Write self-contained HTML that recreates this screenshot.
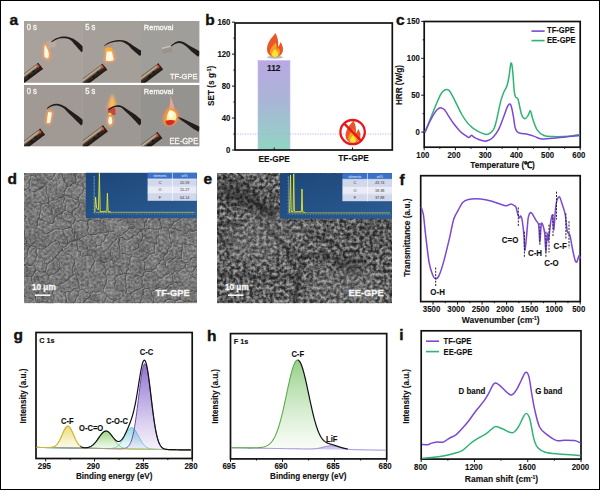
<!DOCTYPE html><html><head><meta charset="utf-8"><style>html,body{margin:0;padding:0;background:#fff;width:600px;height:490px;overflow:hidden}svg{display:block}text{font-family:"Liberation Sans", sans-serif}</style></head><body>
<svg width="600" height="490" viewBox="0 0 600 490">
<rect x="0" y="0" width="600" height="490" fill="#fff"/>
<text x="0" y="0" font-size="15.5" font-weight="bold" text-anchor="start" fill="#111" stroke="#111" stroke-width="0.4" transform="translate(9.5 25) scale(1 1.0)" >a</text>
<text x="0" y="0" font-size="15.5" font-weight="bold" text-anchor="start" fill="#111" stroke="#111" stroke-width="0.4" transform="translate(205.2 25) scale(1 1.0)" >b</text>
<text x="0" y="0" font-size="15.5" font-weight="bold" text-anchor="start" fill="#111" stroke="#111" stroke-width="0.4" transform="translate(396 25) scale(1 1.0)" >c</text>
<text x="0" y="0" font-size="15.5" font-weight="bold" text-anchor="start" fill="#111" stroke="#111" stroke-width="0.4" transform="translate(7.5 183.5) scale(1 1.0)" >d</text>
<text x="0" y="0" font-size="15.5" font-weight="bold" text-anchor="start" fill="#111" stroke="#111" stroke-width="0.4" transform="translate(203.5 183.5) scale(1 1.0)" >e</text>
<text x="0" y="0" font-size="15.5" font-weight="bold" text-anchor="start" fill="#111" stroke="#111" stroke-width="0.4" transform="translate(399.5 185) scale(1 1.0)" >f</text>
<text x="0" y="0" font-size="15.5" font-weight="bold" text-anchor="start" fill="#111" stroke="#111" stroke-width="0.4" transform="translate(13.5 339.5) scale(1 1.0)" >g</text>
<text x="0" y="0" font-size="15.5" font-weight="bold" text-anchor="start" fill="#111" stroke="#111" stroke-width="0.4" transform="translate(207 340.5) scale(1 1.0)" >h</text>
<text x="0" y="0" font-size="15.5" font-weight="bold" text-anchor="start" fill="#111" stroke="#111" stroke-width="0.4" transform="translate(399.2 340) scale(1 1.0)" >i</text>
<defs><linearGradient id="barg" x1="0" y1="0" x2="0" y2="1"><stop offset="0" stop-color="#baa8e3"/><stop offset="0.45" stop-color="#aab5d6"/><stop offset="1" stop-color="#8fd6c2"/></linearGradient></defs>
<rect x="258" y="60.51" width="32" height="89.49" fill="url(#barg)" stroke="#c9b8ee" stroke-width="0.6"/>
<line x1="235.0" y1="134.02" x2="392.3" y2="134.02" stroke="#b8a8ee" stroke-width="0.9" stroke-dasharray="1.2 1.3"/>
<rect x="235.0" y="23.0" width="157.3" height="127.0" fill="none" stroke="#111" stroke-width="1.7"/>
<line x1="232.0" y1="150.00" x2="235.0" y2="150.00" stroke="#161616" stroke-width="1.0"/>
<line x1="232.0" y1="118.04" x2="235.0" y2="118.04" stroke="#161616" stroke-width="1.0"/>
<line x1="232.0" y1="86.08" x2="235.0" y2="86.08" stroke="#161616" stroke-width="1.0"/>
<line x1="232.0" y1="54.12" x2="235.0" y2="54.12" stroke="#161616" stroke-width="1.0"/>
<line x1="232.0" y1="22.16" x2="235.0" y2="22.16" stroke="#161616" stroke-width="1.0"/>
<line x1="233.4" y1="134.02" x2="235.0" y2="134.02" stroke="#161616" stroke-width="1.0"/>
<line x1="233.4" y1="102.06" x2="235.0" y2="102.06" stroke="#161616" stroke-width="1.0"/>
<line x1="233.4" y1="70.10" x2="235.0" y2="70.10" stroke="#161616" stroke-width="1.0"/>
<line x1="233.4" y1="38.14" x2="235.0" y2="38.14" stroke="#161616" stroke-width="1.0"/>
<text x="0" y="0" font-size="7.8" font-weight="bold" text-anchor="end" fill="#111" stroke="#111" stroke-width="0.1" transform="translate(230.4 152.9) scale(1 1.18)" >0</text>
<text x="0" y="0" font-size="7.8" font-weight="bold" text-anchor="end" fill="#111" stroke="#111" stroke-width="0.1" transform="translate(230.4 120.94) scale(1 1.18)" >40</text>
<text x="0" y="0" font-size="7.8" font-weight="bold" text-anchor="end" fill="#111" stroke="#111" stroke-width="0.1" transform="translate(230.4 88.98) scale(1 1.18)" >80</text>
<text x="0" y="0" font-size="7.8" font-weight="bold" text-anchor="end" fill="#111" stroke="#111" stroke-width="0.1" transform="translate(230.4 57.01999999999999) scale(1 1.18)" >120</text>
<text x="0" y="0" font-size="7.8" font-weight="bold" text-anchor="end" fill="#111" stroke="#111" stroke-width="0.1" transform="translate(230.4 25.059999999999995) scale(1 1.18)" >160</text>
<line x1="274.2" y1="150.0" x2="274.2" y2="147.5" stroke="#161616" stroke-width="1"/>
<line x1="352.5" y1="150.0" x2="352.5" y2="147.5" stroke="#161616" stroke-width="1"/>
<text x="0" y="0" font-size="8.3" font-weight="bold" text-anchor="middle" fill="#111" stroke="#111" stroke-width="0.12" transform="translate(274.2 161.6) scale(1 1.08)" >EE-GPE</text>
<text x="0" y="0" font-size="8.3" font-weight="bold" text-anchor="middle" fill="#111" stroke="#111" stroke-width="0.12" transform="translate(353.5 161.3) scale(1 1.08)" >TF-GPE</text>
<text x="0" y="0" font-size="8.4" font-weight="bold" text-anchor="middle" fill="#111" stroke="#111" stroke-width="0.12" transform="translate(273.7 71.4) scale(1 1.08)" >112</text>
<text x="0" y="0" font-size="8.3" font-weight="bold" text-anchor="middle" fill="#111" stroke="#111" stroke-width="0.12" transform="translate(213.9 85.9) rotate(-90) scale(1 1.08)" >SET (s g<tspan dy="-2.5" font-size="5">-1</tspan><tspan dy="2.5">)</tspan></text>
<ellipse cx="275" cy="57.2" rx="8" ry="1.5" fill="#b4b8c2"/>
<g transform="translate(275,56.5) scale(1.0)"><path d="M0.5,-23.5 C-2,-20 -8,-15 -8,-7 C-8,-2.5 -4.5,0.5 0,0.5 C4.8,0.5 8,-2.5 8,-7 C8,-10.5 6.5,-13 5.5,-14.5 C5,-12 4,-10.5 3,-10 C3.8,-15 2.5,-20 0.5,-23.5 Z" fill="#e8572a"/><path d="M0.5,-14 C-2,-11 -5,-8 -5,-4.5 C-5,-1.5 -2.6,0.5 0,0.5 C2.8,0.5 5,-1.5 5,-4.5 C5,-7 3.5,-8 3,-9 C2.6,-7.5 2,-7 1.5,-6.8 C2,-9 1.8,-11.5 0.5,-14 Z" fill="#f5a020"/><path d="M0.2,-7.5 C-1.5,-6 -3,-4 -3,-2 C-3,-0.2 -1.5,0.5 0,0.5 C1.6,0.5 3,-0.2 3,-2 C3,-4 1.5,-5.5 0.2,-7.5 Z" fill="#f8e531"/></g>
<ellipse cx="353" cy="142.6" rx="6.5" ry="1.1" fill="#c4d0d8"/>
<g transform="translate(353.0,142.3) scale(0.93)"><path d="M0.5,-23.5 C-2,-20 -8,-15 -8,-7 C-8,-2.5 -4.5,0.5 0,0.5 C4.8,0.5 8,-2.5 8,-7 C8,-10.5 6.5,-13 5.5,-14.5 C5,-12 4,-10.5 3,-10 C3.8,-15 2.5,-20 0.5,-23.5 Z" fill="#e8572a"/><path d="M0.5,-14 C-2,-11 -5,-8 -5,-4.5 C-5,-1.5 -2.6,0.5 0,0.5 C2.8,0.5 5,-1.5 5,-4.5 C5,-7 3.5,-8 3,-9 C2.6,-7.5 2,-7 1.5,-6.8 C2,-9 1.8,-11.5 0.5,-14 Z" fill="#f5a020"/><path d="M0.2,-7.5 C-1.5,-6 -3,-4 -3,-2 C-3,-0.2 -1.5,0.5 0,0.5 C1.6,0.5 3,-0.2 3,-2 C3,-4 1.5,-5.5 0.2,-7.5 Z" fill="#f8e531"/></g>
<ellipse cx="352.6" cy="132.1" rx="12.2" ry="12.1" fill="none" stroke="#e9161c" stroke-width="2.3"/>
<line x1="344.0" y1="123.4" x2="361.3" y2="140.9" stroke="#e9161c" stroke-width="2.3"/>
<rect x="424.2" y="21.5" width="156.00000000000006" height="125.69999999999999" fill="none" stroke="#111" stroke-width="1.7"/>
<line x1="421.2" y1="132.10" x2="424.2" y2="132.10" stroke="#161616" stroke-width="1.0"/>
<line x1="421.2" y1="95.20" x2="424.2" y2="95.20" stroke="#161616" stroke-width="1.0"/>
<line x1="421.2" y1="58.30" x2="424.2" y2="58.30" stroke="#161616" stroke-width="1.0"/>
<line x1="421.2" y1="21.40" x2="424.2" y2="21.40" stroke="#161616" stroke-width="1.0"/>
<line x1="422.59999999999997" y1="113.65" x2="424.2" y2="113.65" stroke="#161616" stroke-width="1.0"/>
<line x1="422.59999999999997" y1="76.75" x2="424.2" y2="76.75" stroke="#161616" stroke-width="1.0"/>
<line x1="422.59999999999997" y1="39.85" x2="424.2" y2="39.85" stroke="#161616" stroke-width="1.0"/>
<line x1="424.20" y1="147.2" x2="424.20" y2="150.2" stroke="#161616" stroke-width="1.0"/>
<line x1="455.40" y1="147.2" x2="455.40" y2="150.2" stroke="#161616" stroke-width="1.0"/>
<line x1="486.60" y1="147.2" x2="486.60" y2="150.2" stroke="#161616" stroke-width="1.0"/>
<line x1="517.80" y1="147.2" x2="517.80" y2="150.2" stroke="#161616" stroke-width="1.0"/>
<line x1="549.00" y1="147.2" x2="549.00" y2="150.2" stroke="#161616" stroke-width="1.0"/>
<line x1="580.20" y1="147.2" x2="580.20" y2="150.2" stroke="#161616" stroke-width="1.0"/>
<line x1="439.80" y1="147.2" x2="439.80" y2="148.79999999999998" stroke="#161616" stroke-width="1.0"/>
<line x1="471.00" y1="147.2" x2="471.00" y2="148.79999999999998" stroke="#161616" stroke-width="1.0"/>
<line x1="502.20" y1="147.2" x2="502.20" y2="148.79999999999998" stroke="#161616" stroke-width="1.0"/>
<line x1="533.40" y1="147.2" x2="533.40" y2="148.79999999999998" stroke="#161616" stroke-width="1.0"/>
<line x1="564.60" y1="147.2" x2="564.60" y2="148.79999999999998" stroke="#161616" stroke-width="1.0"/>
<text x="0" y="0" font-size="7.8" font-weight="bold" text-anchor="end" fill="#111" stroke="#111" stroke-width="0.1" transform="translate(419.8 135.0) scale(1 1.18)" >0</text>
<text x="0" y="0" font-size="7.8" font-weight="bold" text-anchor="end" fill="#111" stroke="#111" stroke-width="0.1" transform="translate(419.8 98.1) scale(1 1.18)" >50</text>
<text x="0" y="0" font-size="7.8" font-weight="bold" text-anchor="end" fill="#111" stroke="#111" stroke-width="0.1" transform="translate(419.8 61.199999999999996) scale(1 1.18)" >100</text>
<text x="0" y="0" font-size="7.8" font-weight="bold" text-anchor="end" fill="#111" stroke="#111" stroke-width="0.1" transform="translate(419.8 24.29999999999999) scale(1 1.18)" >150</text>
<text x="0" y="0" font-size="7.8" font-weight="bold" text-anchor="middle" fill="#111" stroke="#111" stroke-width="0.1" transform="translate(422.8 157.6) scale(1 1.18)" >100</text>
<text x="0" y="0" font-size="7.8" font-weight="bold" text-anchor="middle" fill="#111" stroke="#111" stroke-width="0.1" transform="translate(454.0 157.6) scale(1 1.18)" >200</text>
<text x="0" y="0" font-size="7.8" font-weight="bold" text-anchor="middle" fill="#111" stroke="#111" stroke-width="0.1" transform="translate(485.2 157.6) scale(1 1.18)" >300</text>
<text x="0" y="0" font-size="7.8" font-weight="bold" text-anchor="middle" fill="#111" stroke="#111" stroke-width="0.1" transform="translate(516.4 157.6) scale(1 1.18)" >400</text>
<text x="0" y="0" font-size="7.8" font-weight="bold" text-anchor="middle" fill="#111" stroke="#111" stroke-width="0.1" transform="translate(547.6 157.6) scale(1 1.18)" >500</text>
<text x="0" y="0" font-size="7.8" font-weight="bold" text-anchor="middle" fill="#111" stroke="#111" stroke-width="0.1" transform="translate(578.8000000000001 157.6) scale(1 1.18)" >600</text>
<text x="0" y="0" font-size="8.2" font-weight="bold" text-anchor="middle" fill="#111" stroke="#111" stroke-width="0.12" transform="translate(502.5 168.2) scale(1 1.08)" >Temperature (℃)</text>
<text x="0" y="0" font-size="8.1" font-weight="bold" text-anchor="middle" fill="#111" stroke="#111" stroke-width="0.12" transform="translate(402.4 85.0) rotate(-90) scale(1 1.08)" >HRR (W/g)</text>
<path d="M424.90,132.40 C425.75,130.30 428.27,124.12 430.00,119.80 C431.73,115.48 433.53,110.70 435.30,106.50 C437.07,102.30 439.17,97.25 440.60,94.60 C442.03,91.95 442.92,91.45 443.90,90.60 C444.88,89.75 445.62,89.50 446.50,89.50 C447.38,89.50 448.20,89.53 449.20,90.60 C450.20,91.67 451.28,93.68 452.50,95.90 C453.72,98.12 454.95,100.80 456.50,103.90 C458.05,107.00 460.03,111.42 461.80,114.50 C463.57,117.58 465.45,120.30 467.10,122.40 C468.75,124.50 470.55,126.03 471.70,127.10 C472.85,128.17 472.68,127.97 474.00,128.80 C475.32,129.63 477.55,131.17 479.60,132.10 C481.65,133.03 484.43,134.30 486.30,134.40 C488.17,134.50 489.48,133.73 490.80,132.70 C492.12,131.67 493.25,130.27 494.20,128.20 C495.15,126.13 495.75,123.30 496.50,120.30 C497.25,117.30 497.95,113.57 498.70,110.20 C499.45,106.83 500.15,103.10 501.00,100.10 C501.85,97.10 502.82,94.53 503.80,92.20 C504.78,89.87 506.02,88.80 506.90,86.10 C507.78,83.40 508.43,79.80 509.10,76.00 C509.77,72.20 510.33,64.43 510.90,63.30 C511.47,62.17 511.93,64.47 512.50,69.20 C513.07,73.93 513.75,87.02 514.30,91.70 C514.85,96.38 515.17,95.98 515.80,97.30 C516.43,98.62 517.15,96.78 518.10,99.60 C519.05,102.42 520.38,111.02 521.50,114.20 C522.62,117.38 523.68,118.52 524.80,118.70 C525.92,118.88 527.27,116.62 528.20,115.30 C529.13,113.98 529.65,110.23 530.40,110.80 C531.15,111.37 531.57,115.52 532.70,118.70 C533.83,121.88 535.33,127.10 537.20,129.90 C539.07,132.70 541.28,134.38 543.90,135.50 C546.52,136.62 548.77,136.48 552.90,136.60 C557.03,136.72 564.18,136.57 568.70,136.20 C573.22,135.83 578.12,134.70 580.00,134.40" fill="none" stroke="#2fb473" stroke-width="1.5" stroke-linejoin="round"/>
<path d="M424.90,132.40 C425.75,130.52 428.27,124.53 430.00,121.10 C431.73,117.67 433.87,113.90 435.30,111.80 C436.73,109.70 437.62,109.15 438.60,108.50 C439.58,107.85 440.22,107.68 441.20,107.90 C442.18,108.12 443.28,108.48 444.50,109.80 C445.72,111.12 446.95,113.47 448.50,115.80 C450.05,118.13 451.80,121.15 453.80,123.80 C455.80,126.45 458.50,129.72 460.50,131.70 C462.50,133.68 464.37,134.73 465.80,135.70 C467.23,136.67 468.15,137.58 469.10,137.50 C470.05,137.42 470.68,135.25 471.50,135.20 C472.32,135.15 473.02,136.58 474.00,137.20 C474.98,137.82 475.72,138.25 477.40,138.90 C479.08,139.55 482.23,140.87 484.10,141.10 C485.97,141.33 487.10,140.95 488.60,140.30 C490.10,139.65 491.42,139.03 493.10,137.20 C494.78,135.37 497.02,132.48 498.70,129.30 C500.38,126.12 501.80,121.75 503.20,118.10 C504.60,114.45 506.07,109.75 507.10,107.40 C508.13,105.05 508.73,104.28 509.40,104.00 C510.07,103.72 510.45,103.73 511.10,105.70 C511.75,107.67 512.65,112.23 513.30,115.80 C513.95,119.37 514.38,124.48 515.00,127.10 C515.62,129.72 516.12,130.47 517.00,131.50 C517.88,132.53 518.43,132.82 520.30,133.30 C522.17,133.78 525.75,133.85 528.20,134.40 C530.65,134.95 532.75,135.85 535.00,136.60 C537.25,137.35 537.97,138.70 541.70,138.90 C545.43,139.10 551.02,138.37 557.40,137.80 C563.78,137.23 576.23,135.88 580.00,135.50" fill="none" stroke="#7b48d4" stroke-width="1.5" stroke-linejoin="round"/>
<line x1="531.5" y1="31.1" x2="544.6" y2="31.1" stroke="#7b48d4" stroke-width="1.6"/>
<line x1="531.5" y1="40.6" x2="544.6" y2="40.6" stroke="#2fb473" stroke-width="1.6"/>
<text x="0" y="0" font-size="7.6" font-weight="bold" text-anchor="start" fill="#111" stroke="#111" stroke-width="0.12" transform="translate(547.0 33.3) scale(1 1.08)" >TF-GPE</text>
<text x="0" y="0" font-size="7.6" font-weight="bold" text-anchor="start" fill="#111" stroke="#111" stroke-width="0.12" transform="translate(547.0 42.8) scale(1 1.08)" >EE-GPE</text>
<rect x="420.7" y="175.7" width="159.50000000000006" height="125.90000000000003" fill="none" stroke="#111" stroke-width="1.7"/>
<line x1="580.20" y1="301.6" x2="580.20" y2="304.6" stroke="#161616" stroke-width="1.0"/>
<line x1="555.67" y1="301.6" x2="555.67" y2="304.6" stroke="#161616" stroke-width="1.0"/>
<line x1="531.14" y1="301.6" x2="531.14" y2="304.6" stroke="#161616" stroke-width="1.0"/>
<line x1="506.61" y1="301.6" x2="506.61" y2="304.6" stroke="#161616" stroke-width="1.0"/>
<line x1="482.08" y1="301.6" x2="482.08" y2="304.6" stroke="#161616" stroke-width="1.0"/>
<line x1="457.55" y1="301.6" x2="457.55" y2="304.6" stroke="#161616" stroke-width="1.0"/>
<line x1="433.02" y1="301.6" x2="433.02" y2="304.6" stroke="#161616" stroke-width="1.0"/>
<line x1="567.94" y1="301.6" x2="567.94" y2="303.20000000000005" stroke="#161616" stroke-width="1.0"/>
<line x1="543.41" y1="301.6" x2="543.41" y2="303.20000000000005" stroke="#161616" stroke-width="1.0"/>
<line x1="518.88" y1="301.6" x2="518.88" y2="303.20000000000005" stroke="#161616" stroke-width="1.0"/>
<line x1="494.35" y1="301.6" x2="494.35" y2="303.20000000000005" stroke="#161616" stroke-width="1.0"/>
<line x1="469.82" y1="301.6" x2="469.82" y2="303.20000000000005" stroke="#161616" stroke-width="1.0"/>
<line x1="445.29" y1="301.6" x2="445.29" y2="303.20000000000005" stroke="#161616" stroke-width="1.0"/>
<text x="0" y="0" font-size="7.9" font-weight="bold" text-anchor="middle" fill="#111" stroke="#111" stroke-width="0.1" transform="translate(578.7 311.9) scale(1 1.18)" >500</text>
<text x="0" y="0" font-size="7.9" font-weight="bold" text-anchor="middle" fill="#111" stroke="#111" stroke-width="0.1" transform="translate(554.1700000000001 311.9) scale(1 1.18)" >1000</text>
<text x="0" y="0" font-size="7.9" font-weight="bold" text-anchor="middle" fill="#111" stroke="#111" stroke-width="0.1" transform="translate(529.6400000000001 311.9) scale(1 1.18)" >1500</text>
<text x="0" y="0" font-size="7.9" font-weight="bold" text-anchor="middle" fill="#111" stroke="#111" stroke-width="0.1" transform="translate(505.11 311.9) scale(1 1.18)" >2000</text>
<text x="0" y="0" font-size="7.9" font-weight="bold" text-anchor="middle" fill="#111" stroke="#111" stroke-width="0.1" transform="translate(480.58000000000004 311.9) scale(1 1.18)" >2500</text>
<text x="0" y="0" font-size="7.9" font-weight="bold" text-anchor="middle" fill="#111" stroke="#111" stroke-width="0.1" transform="translate(456.05000000000007 311.9) scale(1 1.18)" >3000</text>
<text x="0" y="0" font-size="7.9" font-weight="bold" text-anchor="middle" fill="#111" stroke="#111" stroke-width="0.1" transform="translate(431.52000000000004 311.9) scale(1 1.18)" >3500</text>
<text x="0" y="0" font-size="8.5" font-weight="bold" text-anchor="middle" fill="#111" stroke="#111" stroke-width="0.12" transform="translate(500.7 322.6) scale(1 1.08)" >Wavenumber (cm<tspan dy="-2.5" font-size="5">-1</tspan><tspan dy="2.5">)</tspan></text>
<text x="0" y="0" font-size="8.3" font-weight="bold" text-anchor="middle" fill="#111" stroke="#111" stroke-width="0.12" transform="translate(409.6 237.6) rotate(-90) scale(1 1.08)" >Transmittance (a.u.)</text>
<path d="M421.10,206.90 C421.41,207.94 422.80,210.97 423.40,214.70 C424.00,218.43 424.85,228.61 425.60,234.90 C426.35,241.19 428.09,256.65 429.00,261.90 C429.91,267.15 431.51,272.05 432.40,274.30 C433.29,276.55 434.81,278.65 435.70,278.80 C436.59,278.95 438.05,277.65 439.10,275.40 C440.15,273.15 442.25,266.70 443.60,261.90 C444.95,257.10 447.85,245.09 449.20,239.40 C450.55,233.71 452.50,223.09 453.70,219.20 C454.90,215.31 457.00,212.44 458.20,210.20 C459.40,207.96 461.35,203.84 462.70,202.40 C464.05,200.96 465.90,199.85 468.30,199.40 C470.70,198.95 477.55,198.76 480.70,199.00 C483.85,199.24 488.61,200.31 491.90,201.20 C495.19,202.09 502.85,205.34 505.40,205.70 C507.95,206.06 509.80,203.90 511.00,203.90 C512.20,203.90 513.72,205.23 514.40,205.70 C515.08,206.17 515.65,206.25 516.10,207.40 C516.55,208.55 517.35,212.91 517.80,214.30 C518.25,215.69 519.10,217.57 519.50,217.80 C519.90,218.03 520.44,215.65 520.80,216.00 C521.16,216.35 521.79,217.85 522.20,220.40 C522.61,222.95 523.55,231.09 523.90,235.10 C524.25,239.11 524.45,250.26 524.80,250.50 C525.15,250.74 526.05,241.26 526.50,236.90 C526.95,232.54 527.69,221.04 528.20,217.80 C528.71,214.56 529.71,213.07 530.30,212.60 C530.89,212.13 531.84,213.26 532.60,214.30 C533.36,215.34 535.20,219.01 536.00,220.40 C536.80,221.79 538.08,221.81 538.60,224.70 C539.12,227.59 539.54,242.21 539.90,242.10 C540.26,241.99 540.89,226.10 541.30,223.90 C541.71,221.70 542.55,224.33 543.00,225.60 C543.45,226.87 544.31,229.81 544.70,233.40 C545.09,236.99 545.55,252.50 545.90,252.50 C546.25,252.50 546.95,235.03 547.30,233.40 C547.65,231.77 548.03,241.91 548.50,240.30 C548.97,238.69 550.27,224.65 550.80,221.30 C551.33,217.95 552.10,214.05 552.50,215.20 C552.90,216.35 553.40,230.71 553.80,229.90 C554.20,229.09 555.09,213.03 555.50,209.10 C555.91,205.17 556.37,202.03 556.90,200.40 C557.43,198.77 558.81,196.43 559.50,196.90 C560.19,197.37 561.34,201.58 562.10,203.90 C562.86,206.22 564.51,210.59 565.20,214.30 C565.89,218.01 566.67,228.93 567.30,231.70 C567.93,234.47 569.21,232.79 569.90,235.10 C570.59,237.41 571.81,245.64 572.50,249.00 C573.19,252.36 574.53,258.57 575.10,260.30 C575.67,262.03 576.27,262.63 576.80,262.00 C577.33,261.37 578.63,256.05 579.10,255.60 C579.57,255.15 580.14,258.20 580.30,258.60" fill="none" stroke="#7b48d4" stroke-width="1.5" stroke-linejoin="round"/>
<line x1="435.7" y1="267.5" x2="435.7" y2="286.6" stroke="#222" stroke-width="1" stroke-dasharray="2 1.3"/>
<line x1="518.3" y1="207.4" x2="518.3" y2="226.5" stroke="#222" stroke-width="1" stroke-dasharray="2 1.3"/>
<line x1="524.4" y1="231.7" x2="524.4" y2="256.8" stroke="#222" stroke-width="1" stroke-dasharray="2 1.3"/>
<line x1="539.9" y1="223" x2="539.9" y2="245.6" stroke="#222" stroke-width="1" stroke-dasharray="2 1.3"/>
<line x1="545.9" y1="231.7" x2="545.9" y2="256.8" stroke="#222" stroke-width="1" stroke-dasharray="2 1.3"/>
<line x1="549" y1="224.7" x2="549" y2="252.5" stroke="#222" stroke-width="1" stroke-dasharray="2 1.3"/>
<line x1="553" y1="214.3" x2="553" y2="236.9" stroke="#222" stroke-width="1" stroke-dasharray="2 1.3"/>
<line x1="556.5" y1="191.7" x2="556.5" y2="219.5" stroke="#222" stroke-width="1" stroke-dasharray="2 1.3"/>
<line x1="565.9" y1="213.4" x2="565.9" y2="238.6" stroke="#222" stroke-width="1" stroke-dasharray="2 1.3"/>
<line x1="569" y1="221.3" x2="569" y2="248.2" stroke="#222" stroke-width="1" stroke-dasharray="2 1.3"/>
<text x="0" y="0" font-size="7.9" font-weight="bold" text-anchor="middle" fill="#111" stroke="#111" stroke-width="0.12" transform="translate(437.6 295.1) scale(1 1.08)" >O-H</text>
<text x="0" y="0" font-size="7.9" font-weight="bold" text-anchor="middle" fill="#111" stroke="#111" stroke-width="0.12" transform="translate(510.1 242.8) scale(1 1.08)" >C=O</text>
<text x="0" y="0" font-size="7.9" font-weight="bold" text-anchor="middle" fill="#111" stroke="#111" stroke-width="0.12" transform="translate(535.0 256.1) scale(1 1.08)" >C-H</text>
<text x="0" y="0" font-size="7.9" font-weight="bold" text-anchor="middle" fill="#111" stroke="#111" stroke-width="0.12" transform="translate(551.5 265.8) scale(1 1.08)" >C-O</text>
<text x="0" y="0" font-size="7.9" font-weight="bold" text-anchor="middle" fill="#111" stroke="#111" stroke-width="0.12" transform="translate(560.2 248.5) scale(1 1.08)" >C-F</text>
<rect x="36.0" y="332.5" width="156.2" height="126.0" fill="none" stroke="#111" stroke-width="1.7"/>
<line x1="45.70" y1="458.5" x2="45.70" y2="461.5" stroke="#161616" stroke-width="1.0"/>
<line x1="94.55" y1="458.5" x2="94.55" y2="461.5" stroke="#161616" stroke-width="1.0"/>
<line x1="143.40" y1="458.5" x2="143.40" y2="461.5" stroke="#161616" stroke-width="1.0"/>
<line x1="192.25" y1="458.5" x2="192.25" y2="461.5" stroke="#161616" stroke-width="1.0"/>
<line x1="70.12" y1="458.5" x2="70.12" y2="460.1" stroke="#161616" stroke-width="1.0"/>
<line x1="118.97" y1="458.5" x2="118.97" y2="460.1" stroke="#161616" stroke-width="1.0"/>
<line x1="167.82" y1="458.5" x2="167.82" y2="460.1" stroke="#161616" stroke-width="1.0"/>
<text x="0" y="0" font-size="7.9" font-weight="bold" text-anchor="middle" fill="#111" stroke="#111" stroke-width="0.1" transform="translate(44.400000000000006 468.9) scale(1 1.18)" >295</text>
<text x="0" y="0" font-size="7.9" font-weight="bold" text-anchor="middle" fill="#111" stroke="#111" stroke-width="0.1" transform="translate(93.25 468.9) scale(1 1.18)" >290</text>
<text x="0" y="0" font-size="7.9" font-weight="bold" text-anchor="middle" fill="#111" stroke="#111" stroke-width="0.1" transform="translate(142.09999999999997 468.9) scale(1 1.18)" >285</text>
<text x="0" y="0" font-size="7.9" font-weight="bold" text-anchor="middle" fill="#111" stroke="#111" stroke-width="0.1" transform="translate(190.95 468.9) scale(1 1.18)" >280</text>
<text x="0" y="0" font-size="8.1" font-weight="bold" text-anchor="middle" fill="#111" stroke="#111" stroke-width="0.12" transform="translate(114.2 479.3) scale(1 1.08)" >Binding energy (eV)</text>
<text x="0" y="0" font-size="8.1" font-weight="bold" text-anchor="middle" fill="#111" stroke="#111" stroke-width="0.12" transform="translate(26.3 396.0) rotate(-90) scale(1 1.08)" >Intensity (a.u.)</text>
<text x="0" y="0" font-size="7.3" font-weight="bold" text-anchor="start" fill="#111" stroke="#111" stroke-width="0.12" transform="translate(39.2 343.2) scale(1 1.08)" >C 1s</text>
<defs><linearGradient id="gg0" x1="0" y1="0" x2="0" y2="1"><stop offset="0" stop-color="#eadc72" stop-opacity="0.95"/><stop offset="0.7" stop-color="#eadc72" stop-opacity="0.3"/><stop offset="1" stop-color="#eadc72" stop-opacity="0.08"/></linearGradient></defs>
<path d="M36.70,447.41 L37.20,447.42 L37.70,447.43 L38.20,447.44 L38.70,447.44 L39.20,447.45 L39.70,447.46 L40.20,447.47 L40.70,447.48 L41.20,447.49 L41.70,447.49 L42.20,447.50 L42.70,447.51 L43.20,447.52 L43.70,447.53 L44.20,447.53 L44.70,447.54 L45.20,447.55 L45.70,447.55 L46.20,447.56 L46.70,447.56 L47.20,447.56 L47.70,447.56 L48.20,447.55 L48.70,447.54 L49.20,447.52 L49.70,447.50 L50.20,447.47 L50.70,447.42 L51.20,447.37 L51.70,447.29 L52.20,447.20 L52.70,447.07 L53.20,446.93 L53.70,446.74 L54.20,446.52 L54.70,446.25 L55.20,445.94 L55.70,445.56 L56.20,445.13 L56.70,444.63 L57.20,444.06 L57.70,443.42 L58.20,442.70 L58.70,441.91 L59.20,441.04 L59.70,440.10 L60.20,439.10 L60.70,438.04 L61.20,436.93 L61.70,435.80 L62.20,434.64 L62.70,433.48 L63.20,432.35 L63.70,431.25 L64.20,430.21 L64.70,429.25 L65.20,428.39 L65.70,427.65 L66.20,427.04 L66.70,426.58 L67.20,426.27 L67.70,426.14 L68.20,426.17 L68.70,426.37 L69.20,426.74 L69.70,427.26 L70.20,427.92 L70.70,428.72 L71.20,429.63 L71.70,430.63 L72.20,431.70 L72.70,432.83 L73.20,433.99 L73.70,435.17 L74.20,436.34 L74.70,437.48 L75.20,438.59 L75.70,439.65 L76.20,440.65 L76.70,441.59 L77.20,442.45 L77.70,443.24 L78.20,443.95 L78.70,444.59 L79.20,445.16 L79.70,445.65 L80.20,446.09 L80.70,446.46 L81.20,446.78 L81.70,447.05 L82.20,447.28 L82.70,447.46 L83.20,447.62 L83.70,447.75 L84.20,447.86 L84.70,447.94 L85.20,448.02 L85.70,448.07 L86.20,448.12 L86.70,448.16 L87.20,448.19 L87.70,448.21 L88.20,448.23 L88.70,448.25 L89.20,448.27 L89.70,448.28 L90.20,448.29 L90.70,448.30 L91.20,448.31 L91.70,448.32 L92.20,448.33 L92.70,448.34 L93.20,448.35 L93.70,448.36 L94.20,448.37 L94.70,448.38 L95.20,448.39 L95.70,448.39 L96.20,448.40 L96.70,448.41 L97.20,448.42 L97.70,448.43 L98.20,448.44 L98.70,448.44 L99.20,448.45 L99.70,448.46 L100.20,448.47 L100.70,448.48 L101.20,448.49 L101.70,448.49 L102.20,448.50 L102.70,448.51 L103.20,448.52 L103.70,448.53 L104.20,448.54 L104.70,448.54 L105.20,448.55 L105.70,448.56 L106.20,448.57 L106.70,448.58 L107.20,448.59 L107.70,448.59 L108.20,448.60 L108.70,448.61 L109.20,448.62 L109.70,448.63 L110.20,448.64 L110.70,448.64 L111.20,448.65 L111.70,448.66 L112.20,448.67 L112.70,448.68 L113.20,448.69 L113.70,448.69 L114.20,448.70 L114.70,448.71 L115.20,448.72 L115.70,448.73 L116.20,448.73 L116.70,448.74 L117.20,448.75 L117.70,448.76 L118.20,448.77 L118.70,448.78 L119.20,448.78 L119.70,448.79 L120.20,448.80 L120.70,448.81 L121.20,448.82 L121.70,448.83 L122.20,448.83 L122.70,448.84 L123.20,448.85 L123.70,448.86 L124.20,448.87 L124.70,448.88 L125.20,448.88 L125.70,448.89 L126.20,448.90 L126.70,448.91 L127.20,448.92 L127.70,448.93 L128.20,448.93 L128.70,448.94 L129.20,448.95 L129.70,448.96 L130.20,448.97 L130.70,448.98 L131.20,448.98 L131.70,448.99 L132.20,449.00 L132.70,449.01 L133.20,449.02 L133.70,449.03 L134.20,449.03 L134.70,449.04 L135.20,449.05 L135.70,449.06 L136.20,449.07 L136.70,449.08 L137.20,449.08 L137.70,449.09 L138.20,449.10 L138.70,449.11 L139.20,449.12 L139.70,449.13 L140.20,449.13 L140.70,449.14 L141.20,449.15 L141.70,449.16 L142.20,449.17 L142.70,449.18 L143.20,449.18 L143.70,449.19 L144.20,449.20 L144.70,449.21 L145.20,449.22 L145.70,449.23 L146.20,449.23 L146.70,449.24 L147.20,449.25 L147.70,449.26 L148.20,449.27 L148.70,449.28 L149.20,449.28 L149.70,449.29 L150.20,449.30 L150.70,449.31 L151.20,449.32 L151.70,449.33 L152.20,449.33 L152.70,449.34 L153.20,449.35 L153.70,449.36 L154.20,449.37 L154.70,449.38 L155.20,449.38 L155.70,449.39 L156.20,449.40 L156.70,449.41 L157.20,449.42 L157.70,449.43 L158.20,449.43 L158.70,449.44 L159.20,449.45 L159.70,449.46 L160.20,449.47 L160.70,449.48 L161.20,449.48 L161.70,449.49 L162.20,449.50 L162.70,449.51 L163.20,449.52 L163.70,449.53 L164.20,449.53 L164.70,449.54 L165.20,449.55 L165.70,449.56 L166.20,449.57 L166.70,449.58 L167.20,449.58 L167.70,449.59 L168.20,449.60 L168.70,449.61 L169.20,449.62 L169.70,449.63 L170.20,449.63 L170.70,449.64 L171.20,449.65 L171.70,449.66 L172.20,449.67 L172.70,449.68 L173.20,449.68 L173.70,449.69 L174.20,449.70 L174.70,449.71 L175.20,449.72 L175.70,449.73 L176.20,449.73 L176.70,449.74 L177.20,449.75 L177.70,449.76 L178.20,449.77 L178.70,449.78 L179.20,449.78 L179.70,449.79 L180.20,449.80 L180.70,449.81 L181.20,449.82 L181.70,449.83 L182.20,449.83 L182.70,449.84 L183.20,449.85 L183.70,449.86 L184.20,449.87 L184.70,449.88 L185.20,449.88 L185.70,449.89 L186.20,449.90 L186.70,449.91 L187.20,449.92 L187.70,449.93 L188.20,449.93 L188.70,449.94 L189.20,449.95 L189.70,449.96 L190.20,449.97 L190.70,449.98 L191.20,449.98 L191.20,449.98 L36.70,447.41 Z" fill="url(#gg0)" stroke="none"/>
<path d="M36.70,447.41 L37.20,447.42 L37.70,447.43 L38.20,447.44 L38.70,447.44 L39.20,447.45 L39.70,447.46 L40.20,447.47 L40.70,447.48 L41.20,447.49 L41.70,447.49 L42.20,447.50 L42.70,447.51 L43.20,447.52 L43.70,447.53 L44.20,447.53 L44.70,447.54 L45.20,447.55 L45.70,447.55 L46.20,447.56 L46.70,447.56 L47.20,447.56 L47.70,447.56 L48.20,447.55 L48.70,447.54 L49.20,447.52 L49.70,447.50 L50.20,447.47 L50.70,447.42 L51.20,447.37 L51.70,447.29 L52.20,447.20 L52.70,447.07 L53.20,446.93 L53.70,446.74 L54.20,446.52 L54.70,446.25 L55.20,445.94 L55.70,445.56 L56.20,445.13 L56.70,444.63 L57.20,444.06 L57.70,443.42 L58.20,442.70 L58.70,441.91 L59.20,441.04 L59.70,440.10 L60.20,439.10 L60.70,438.04 L61.20,436.93 L61.70,435.80 L62.20,434.64 L62.70,433.48 L63.20,432.35 L63.70,431.25 L64.20,430.21 L64.70,429.25 L65.20,428.39 L65.70,427.65 L66.20,427.04 L66.70,426.58 L67.20,426.27 L67.70,426.14 L68.20,426.17 L68.70,426.37 L69.20,426.74 L69.70,427.26 L70.20,427.92 L70.70,428.72 L71.20,429.63 L71.70,430.63 L72.20,431.70 L72.70,432.83 L73.20,433.99 L73.70,435.17 L74.20,436.34 L74.70,437.48 L75.20,438.59 L75.70,439.65 L76.20,440.65 L76.70,441.59 L77.20,442.45 L77.70,443.24 L78.20,443.95 L78.70,444.59 L79.20,445.16 L79.70,445.65 L80.20,446.09 L80.70,446.46 L81.20,446.78 L81.70,447.05 L82.20,447.28 L82.70,447.46 L83.20,447.62 L83.70,447.75 L84.20,447.86 L84.70,447.94 L85.20,448.02 L85.70,448.07 L86.20,448.12 L86.70,448.16 L87.20,448.19 L87.70,448.21 L88.20,448.23 L88.70,448.25 L89.20,448.27 L89.70,448.28 L90.20,448.29 L90.70,448.30 L91.20,448.31 L91.70,448.32 L92.20,448.33 L92.70,448.34 L93.20,448.35 L93.70,448.36 L94.20,448.37 L94.70,448.38 L95.20,448.39 L95.70,448.39 L96.20,448.40 L96.70,448.41 L97.20,448.42 L97.70,448.43 L98.20,448.44 L98.70,448.44 L99.20,448.45 L99.70,448.46 L100.20,448.47 L100.70,448.48 L101.20,448.49 L101.70,448.49 L102.20,448.50 L102.70,448.51 L103.20,448.52 L103.70,448.53 L104.20,448.54 L104.70,448.54 L105.20,448.55 L105.70,448.56 L106.20,448.57 L106.70,448.58 L107.20,448.59 L107.70,448.59 L108.20,448.60 L108.70,448.61 L109.20,448.62 L109.70,448.63 L110.20,448.64 L110.70,448.64 L111.20,448.65 L111.70,448.66 L112.20,448.67 L112.70,448.68 L113.20,448.69 L113.70,448.69 L114.20,448.70 L114.70,448.71 L115.20,448.72 L115.70,448.73 L116.20,448.73 L116.70,448.74 L117.20,448.75 L117.70,448.76 L118.20,448.77 L118.70,448.78 L119.20,448.78 L119.70,448.79 L120.20,448.80 L120.70,448.81 L121.20,448.82 L121.70,448.83 L122.20,448.83 L122.70,448.84 L123.20,448.85 L123.70,448.86 L124.20,448.87 L124.70,448.88 L125.20,448.88 L125.70,448.89 L126.20,448.90 L126.70,448.91 L127.20,448.92 L127.70,448.93 L128.20,448.93 L128.70,448.94 L129.20,448.95 L129.70,448.96 L130.20,448.97 L130.70,448.98 L131.20,448.98 L131.70,448.99 L132.20,449.00 L132.70,449.01 L133.20,449.02 L133.70,449.03 L134.20,449.03 L134.70,449.04 L135.20,449.05 L135.70,449.06 L136.20,449.07 L136.70,449.08 L137.20,449.08 L137.70,449.09 L138.20,449.10 L138.70,449.11 L139.20,449.12 L139.70,449.13 L140.20,449.13 L140.70,449.14 L141.20,449.15 L141.70,449.16 L142.20,449.17 L142.70,449.18 L143.20,449.18 L143.70,449.19 L144.20,449.20 L144.70,449.21 L145.20,449.22 L145.70,449.23 L146.20,449.23 L146.70,449.24 L147.20,449.25 L147.70,449.26 L148.20,449.27 L148.70,449.28 L149.20,449.28 L149.70,449.29 L150.20,449.30 L150.70,449.31 L151.20,449.32 L151.70,449.33 L152.20,449.33 L152.70,449.34 L153.20,449.35 L153.70,449.36 L154.20,449.37 L154.70,449.38 L155.20,449.38 L155.70,449.39 L156.20,449.40 L156.70,449.41 L157.20,449.42 L157.70,449.43 L158.20,449.43 L158.70,449.44 L159.20,449.45 L159.70,449.46 L160.20,449.47 L160.70,449.48 L161.20,449.48 L161.70,449.49 L162.20,449.50 L162.70,449.51 L163.20,449.52 L163.70,449.53 L164.20,449.53 L164.70,449.54 L165.20,449.55 L165.70,449.56 L166.20,449.57 L166.70,449.58 L167.20,449.58 L167.70,449.59 L168.20,449.60 L168.70,449.61 L169.20,449.62 L169.70,449.63 L170.20,449.63 L170.70,449.64 L171.20,449.65 L171.70,449.66 L172.20,449.67 L172.70,449.68 L173.20,449.68 L173.70,449.69 L174.20,449.70 L174.70,449.71 L175.20,449.72 L175.70,449.73 L176.20,449.73 L176.70,449.74 L177.20,449.75 L177.70,449.76 L178.20,449.77 L178.70,449.78 L179.20,449.78 L179.70,449.79 L180.20,449.80 L180.70,449.81 L181.20,449.82 L181.70,449.83 L182.20,449.83 L182.70,449.84 L183.20,449.85 L183.70,449.86 L184.20,449.87 L184.70,449.88 L185.20,449.88 L185.70,449.89 L186.20,449.90 L186.70,449.91 L187.20,449.92 L187.70,449.93 L188.20,449.93 L188.70,449.94 L189.20,449.95 L189.70,449.96 L190.20,449.97 L190.70,449.98 L191.20,449.98" fill="none" stroke="#d6c64a" stroke-width="0.9"/>
<defs><linearGradient id="gg1" x1="0" y1="0" x2="0" y2="1"><stop offset="0" stop-color="#98d47a" stop-opacity="0.95"/><stop offset="0.7" stop-color="#98d47a" stop-opacity="0.3"/><stop offset="1" stop-color="#98d47a" stop-opacity="0.08"/></linearGradient></defs>
<path d="M36.70,447.41 L37.20,447.42 L37.70,447.43 L38.20,447.44 L38.70,447.44 L39.20,447.45 L39.70,447.46 L40.20,447.47 L40.70,447.48 L41.20,447.49 L41.70,447.49 L42.20,447.50 L42.70,447.51 L43.20,447.52 L43.70,447.53 L44.20,447.54 L44.70,447.54 L45.20,447.55 L45.70,447.56 L46.20,447.57 L46.70,447.58 L47.20,447.59 L47.70,447.59 L48.20,447.60 L48.70,447.61 L49.20,447.62 L49.70,447.63 L50.20,447.64 L50.70,447.64 L51.20,447.65 L51.70,447.66 L52.20,447.67 L52.70,447.68 L53.20,447.69 L53.70,447.69 L54.20,447.70 L54.70,447.71 L55.20,447.72 L55.70,447.73 L56.20,447.74 L56.70,447.74 L57.20,447.75 L57.70,447.76 L58.20,447.77 L58.70,447.78 L59.20,447.79 L59.70,447.79 L60.20,447.80 L60.70,447.81 L61.20,447.82 L61.70,447.83 L62.20,447.84 L62.70,447.84 L63.20,447.85 L63.70,447.86 L64.20,447.87 L64.70,447.88 L65.20,447.89 L65.70,447.89 L66.20,447.90 L66.70,447.91 L67.20,447.92 L67.70,447.93 L68.20,447.94 L68.70,447.94 L69.20,447.95 L69.70,447.96 L70.20,447.97 L70.70,447.98 L71.20,447.99 L71.70,447.99 L72.20,448.00 L72.70,448.01 L73.20,448.02 L73.70,448.03 L74.20,448.03 L74.70,448.04 L75.20,448.05 L75.70,448.06 L76.20,448.07 L76.70,448.07 L77.20,448.08 L77.70,448.09 L78.20,448.09 L78.70,448.10 L79.20,448.10 L79.70,448.10 L80.20,448.11 L80.70,448.11 L81.20,448.10 L81.70,448.10 L82.20,448.09 L82.70,448.08 L83.20,448.06 L83.70,448.04 L84.20,448.02 L84.70,447.98 L85.20,447.94 L85.70,447.89 L86.20,447.82 L86.70,447.74 L87.20,447.65 L87.70,447.54 L88.20,447.42 L88.70,447.27 L89.20,447.10 L89.70,446.91 L90.20,446.69 L90.70,446.44 L91.20,446.15 L91.70,445.84 L92.20,445.49 L92.70,445.11 L93.20,444.68 L93.70,444.23 L94.20,443.73 L94.70,443.20 L95.20,442.63 L95.70,442.03 L96.20,441.39 L96.70,440.73 L97.20,440.05 L97.70,439.35 L98.20,438.63 L98.70,437.90 L99.20,437.18 L99.70,436.46 L100.20,435.76 L100.70,435.07 L101.20,434.42 L101.70,433.81 L102.20,433.24 L102.70,432.72 L103.20,432.27 L103.70,431.88 L104.20,431.56 L104.70,431.32 L105.20,431.15 L105.70,431.07 L106.20,431.08 L106.70,431.16 L107.20,431.33 L107.70,431.58 L108.20,431.91 L108.70,432.31 L109.20,432.77 L109.70,433.30 L110.20,433.88 L110.70,434.50 L111.20,435.17 L111.70,435.86 L112.20,436.58 L112.70,437.31 L113.20,438.06 L113.70,438.80 L114.20,439.53 L114.70,440.25 L115.20,440.96 L115.70,441.64 L116.20,442.29 L116.70,442.91 L117.20,443.50 L117.70,444.06 L118.20,444.57 L118.70,445.05 L119.20,445.50 L119.70,445.90 L120.20,446.27 L120.70,446.61 L121.20,446.91 L121.70,447.18 L122.20,447.42 L122.70,447.64 L123.20,447.83 L123.70,447.99 L124.20,448.14 L124.70,448.26 L125.20,448.37 L125.70,448.47 L126.20,448.55 L126.70,448.62 L127.20,448.68 L127.70,448.73 L128.20,448.78 L128.70,448.82 L129.20,448.85 L129.70,448.88 L130.20,448.90 L130.70,448.93 L131.20,448.94 L131.70,448.96 L132.20,448.98 L132.70,448.99 L133.20,449.00 L133.70,449.02 L134.20,449.03 L134.70,449.04 L135.20,449.05 L135.70,449.06 L136.20,449.07 L136.70,449.07 L137.20,449.08 L137.70,449.09 L138.20,449.10 L138.70,449.11 L139.20,449.12 L139.70,449.13 L140.20,449.13 L140.70,449.14 L141.20,449.15 L141.70,449.16 L142.20,449.17 L142.70,449.18 L143.20,449.18 L143.70,449.19 L144.20,449.20 L144.70,449.21 L145.20,449.22 L145.70,449.23 L146.20,449.23 L146.70,449.24 L147.20,449.25 L147.70,449.26 L148.20,449.27 L148.70,449.28 L149.20,449.28 L149.70,449.29 L150.20,449.30 L150.70,449.31 L151.20,449.32 L151.70,449.33 L152.20,449.33 L152.70,449.34 L153.20,449.35 L153.70,449.36 L154.20,449.37 L154.70,449.38 L155.20,449.38 L155.70,449.39 L156.20,449.40 L156.70,449.41 L157.20,449.42 L157.70,449.43 L158.20,449.43 L158.70,449.44 L159.20,449.45 L159.70,449.46 L160.20,449.47 L160.70,449.48 L161.20,449.48 L161.70,449.49 L162.20,449.50 L162.70,449.51 L163.20,449.52 L163.70,449.53 L164.20,449.53 L164.70,449.54 L165.20,449.55 L165.70,449.56 L166.20,449.57 L166.70,449.58 L167.20,449.58 L167.70,449.59 L168.20,449.60 L168.70,449.61 L169.20,449.62 L169.70,449.63 L170.20,449.63 L170.70,449.64 L171.20,449.65 L171.70,449.66 L172.20,449.67 L172.70,449.68 L173.20,449.68 L173.70,449.69 L174.20,449.70 L174.70,449.71 L175.20,449.72 L175.70,449.73 L176.20,449.73 L176.70,449.74 L177.20,449.75 L177.70,449.76 L178.20,449.77 L178.70,449.78 L179.20,449.78 L179.70,449.79 L180.20,449.80 L180.70,449.81 L181.20,449.82 L181.70,449.83 L182.20,449.83 L182.70,449.84 L183.20,449.85 L183.70,449.86 L184.20,449.87 L184.70,449.88 L185.20,449.88 L185.70,449.89 L186.20,449.90 L186.70,449.91 L187.20,449.92 L187.70,449.93 L188.20,449.93 L188.70,449.94 L189.20,449.95 L189.70,449.96 L190.20,449.97 L190.70,449.98 L191.20,449.98 L191.20,449.98 L36.70,447.41 Z" fill="url(#gg1)" stroke="none"/>
<path d="M36.70,447.41 L37.20,447.42 L37.70,447.43 L38.20,447.44 L38.70,447.44 L39.20,447.45 L39.70,447.46 L40.20,447.47 L40.70,447.48 L41.20,447.49 L41.70,447.49 L42.20,447.50 L42.70,447.51 L43.20,447.52 L43.70,447.53 L44.20,447.54 L44.70,447.54 L45.20,447.55 L45.70,447.56 L46.20,447.57 L46.70,447.58 L47.20,447.59 L47.70,447.59 L48.20,447.60 L48.70,447.61 L49.20,447.62 L49.70,447.63 L50.20,447.64 L50.70,447.64 L51.20,447.65 L51.70,447.66 L52.20,447.67 L52.70,447.68 L53.20,447.69 L53.70,447.69 L54.20,447.70 L54.70,447.71 L55.20,447.72 L55.70,447.73 L56.20,447.74 L56.70,447.74 L57.20,447.75 L57.70,447.76 L58.20,447.77 L58.70,447.78 L59.20,447.79 L59.70,447.79 L60.20,447.80 L60.70,447.81 L61.20,447.82 L61.70,447.83 L62.20,447.84 L62.70,447.84 L63.20,447.85 L63.70,447.86 L64.20,447.87 L64.70,447.88 L65.20,447.89 L65.70,447.89 L66.20,447.90 L66.70,447.91 L67.20,447.92 L67.70,447.93 L68.20,447.94 L68.70,447.94 L69.20,447.95 L69.70,447.96 L70.20,447.97 L70.70,447.98 L71.20,447.99 L71.70,447.99 L72.20,448.00 L72.70,448.01 L73.20,448.02 L73.70,448.03 L74.20,448.03 L74.70,448.04 L75.20,448.05 L75.70,448.06 L76.20,448.07 L76.70,448.07 L77.20,448.08 L77.70,448.09 L78.20,448.09 L78.70,448.10 L79.20,448.10 L79.70,448.10 L80.20,448.11 L80.70,448.11 L81.20,448.10 L81.70,448.10 L82.20,448.09 L82.70,448.08 L83.20,448.06 L83.70,448.04 L84.20,448.02 L84.70,447.98 L85.20,447.94 L85.70,447.89 L86.20,447.82 L86.70,447.74 L87.20,447.65 L87.70,447.54 L88.20,447.42 L88.70,447.27 L89.20,447.10 L89.70,446.91 L90.20,446.69 L90.70,446.44 L91.20,446.15 L91.70,445.84 L92.20,445.49 L92.70,445.11 L93.20,444.68 L93.70,444.23 L94.20,443.73 L94.70,443.20 L95.20,442.63 L95.70,442.03 L96.20,441.39 L96.70,440.73 L97.20,440.05 L97.70,439.35 L98.20,438.63 L98.70,437.90 L99.20,437.18 L99.70,436.46 L100.20,435.76 L100.70,435.07 L101.20,434.42 L101.70,433.81 L102.20,433.24 L102.70,432.72 L103.20,432.27 L103.70,431.88 L104.20,431.56 L104.70,431.32 L105.20,431.15 L105.70,431.07 L106.20,431.08 L106.70,431.16 L107.20,431.33 L107.70,431.58 L108.20,431.91 L108.70,432.31 L109.20,432.77 L109.70,433.30 L110.20,433.88 L110.70,434.50 L111.20,435.17 L111.70,435.86 L112.20,436.58 L112.70,437.31 L113.20,438.06 L113.70,438.80 L114.20,439.53 L114.70,440.25 L115.20,440.96 L115.70,441.64 L116.20,442.29 L116.70,442.91 L117.20,443.50 L117.70,444.06 L118.20,444.57 L118.70,445.05 L119.20,445.50 L119.70,445.90 L120.20,446.27 L120.70,446.61 L121.20,446.91 L121.70,447.18 L122.20,447.42 L122.70,447.64 L123.20,447.83 L123.70,447.99 L124.20,448.14 L124.70,448.26 L125.20,448.37 L125.70,448.47 L126.20,448.55 L126.70,448.62 L127.20,448.68 L127.70,448.73 L128.20,448.78 L128.70,448.82 L129.20,448.85 L129.70,448.88 L130.20,448.90 L130.70,448.93 L131.20,448.94 L131.70,448.96 L132.20,448.98 L132.70,448.99 L133.20,449.00 L133.70,449.02 L134.20,449.03 L134.70,449.04 L135.20,449.05 L135.70,449.06 L136.20,449.07 L136.70,449.07 L137.20,449.08 L137.70,449.09 L138.20,449.10 L138.70,449.11 L139.20,449.12 L139.70,449.13 L140.20,449.13 L140.70,449.14 L141.20,449.15 L141.70,449.16 L142.20,449.17 L142.70,449.18 L143.20,449.18 L143.70,449.19 L144.20,449.20 L144.70,449.21 L145.20,449.22 L145.70,449.23 L146.20,449.23 L146.70,449.24 L147.20,449.25 L147.70,449.26 L148.20,449.27 L148.70,449.28 L149.20,449.28 L149.70,449.29 L150.20,449.30 L150.70,449.31 L151.20,449.32 L151.70,449.33 L152.20,449.33 L152.70,449.34 L153.20,449.35 L153.70,449.36 L154.20,449.37 L154.70,449.38 L155.20,449.38 L155.70,449.39 L156.20,449.40 L156.70,449.41 L157.20,449.42 L157.70,449.43 L158.20,449.43 L158.70,449.44 L159.20,449.45 L159.70,449.46 L160.20,449.47 L160.70,449.48 L161.20,449.48 L161.70,449.49 L162.20,449.50 L162.70,449.51 L163.20,449.52 L163.70,449.53 L164.20,449.53 L164.70,449.54 L165.20,449.55 L165.70,449.56 L166.20,449.57 L166.70,449.58 L167.20,449.58 L167.70,449.59 L168.20,449.60 L168.70,449.61 L169.20,449.62 L169.70,449.63 L170.20,449.63 L170.70,449.64 L171.20,449.65 L171.70,449.66 L172.20,449.67 L172.70,449.68 L173.20,449.68 L173.70,449.69 L174.20,449.70 L174.70,449.71 L175.20,449.72 L175.70,449.73 L176.20,449.73 L176.70,449.74 L177.20,449.75 L177.70,449.76 L178.20,449.77 L178.70,449.78 L179.20,449.78 L179.70,449.79 L180.20,449.80 L180.70,449.81 L181.20,449.82 L181.70,449.83 L182.20,449.83 L182.70,449.84 L183.20,449.85 L183.70,449.86 L184.20,449.87 L184.70,449.88 L185.20,449.88 L185.70,449.89 L186.20,449.90 L186.70,449.91 L187.20,449.92 L187.70,449.93 L188.20,449.93 L188.70,449.94 L189.20,449.95 L189.70,449.96 L190.20,449.97 L190.70,449.98 L191.20,449.98" fill="none" stroke="#72c25a" stroke-width="0.9"/>
<defs><linearGradient id="gg2" x1="0" y1="0" x2="0" y2="1"><stop offset="0" stop-color="#8ed8e2" stop-opacity="0.95"/><stop offset="0.7" stop-color="#8ed8e2" stop-opacity="0.3"/><stop offset="1" stop-color="#8ed8e2" stop-opacity="0.08"/></linearGradient></defs>
<path d="M36.70,447.41 L37.20,447.42 L37.70,447.43 L38.20,447.44 L38.70,447.44 L39.20,447.45 L39.70,447.46 L40.20,447.47 L40.70,447.48 L41.20,447.49 L41.70,447.49 L42.20,447.50 L42.70,447.51 L43.20,447.52 L43.70,447.53 L44.20,447.54 L44.70,447.54 L45.20,447.55 L45.70,447.56 L46.20,447.57 L46.70,447.58 L47.20,447.59 L47.70,447.59 L48.20,447.60 L48.70,447.61 L49.20,447.62 L49.70,447.63 L50.20,447.64 L50.70,447.64 L51.20,447.65 L51.70,447.66 L52.20,447.67 L52.70,447.68 L53.20,447.69 L53.70,447.69 L54.20,447.70 L54.70,447.71 L55.20,447.72 L55.70,447.73 L56.20,447.74 L56.70,447.74 L57.20,447.75 L57.70,447.76 L58.20,447.77 L58.70,447.78 L59.20,447.79 L59.70,447.79 L60.20,447.80 L60.70,447.81 L61.20,447.82 L61.70,447.83 L62.20,447.84 L62.70,447.84 L63.20,447.85 L63.70,447.86 L64.20,447.87 L64.70,447.88 L65.20,447.89 L65.70,447.89 L66.20,447.90 L66.70,447.91 L67.20,447.92 L67.70,447.93 L68.20,447.94 L68.70,447.94 L69.20,447.95 L69.70,447.96 L70.20,447.97 L70.70,447.98 L71.20,447.99 L71.70,447.99 L72.20,448.00 L72.70,448.01 L73.20,448.02 L73.70,448.03 L74.20,448.04 L74.70,448.04 L75.20,448.05 L75.70,448.06 L76.20,448.07 L76.70,448.08 L77.20,448.09 L77.70,448.09 L78.20,448.10 L78.70,448.11 L79.20,448.12 L79.70,448.13 L80.20,448.14 L80.70,448.14 L81.20,448.15 L81.70,448.16 L82.20,448.17 L82.70,448.18 L83.20,448.19 L83.70,448.19 L84.20,448.20 L84.70,448.21 L85.20,448.22 L85.70,448.23 L86.20,448.24 L86.70,448.24 L87.20,448.25 L87.70,448.26 L88.20,448.27 L88.70,448.28 L89.20,448.29 L89.70,448.29 L90.20,448.30 L90.70,448.31 L91.20,448.32 L91.70,448.33 L92.20,448.34 L92.70,448.34 L93.20,448.35 L93.70,448.36 L94.20,448.37 L94.70,448.38 L95.20,448.39 L95.70,448.39 L96.20,448.40 L96.70,448.41 L97.20,448.42 L97.70,448.43 L98.20,448.44 L98.70,448.44 L99.20,448.45 L99.70,448.46 L100.20,448.47 L100.70,448.48 L101.20,448.48 L101.70,448.49 L102.20,448.50 L102.70,448.51 L103.20,448.51 L103.70,448.52 L104.20,448.53 L104.70,448.53 L105.20,448.54 L105.70,448.54 L106.20,448.55 L106.70,448.55 L107.20,448.55 L107.70,448.55 L108.20,448.54 L108.70,448.53 L109.20,448.52 L109.70,448.50 L110.20,448.48 L110.70,448.45 L111.20,448.41 L111.70,448.36 L112.20,448.30 L112.70,448.22 L113.20,448.13 L113.70,448.01 L114.20,447.88 L114.70,447.72 L115.20,447.54 L115.70,447.32 L116.20,447.07 L116.70,446.79 L117.20,446.46 L117.70,446.10 L118.20,445.68 L118.70,445.22 L119.20,444.71 L119.70,444.15 L120.20,443.54 L120.70,442.88 L121.20,442.17 L121.70,441.41 L122.20,440.60 L122.70,439.76 L123.20,438.88 L123.70,437.97 L124.20,437.04 L124.70,436.10 L125.20,435.15 L125.70,434.22 L126.20,433.30 L126.70,432.41 L127.20,431.56 L127.70,430.77 L128.20,430.04 L128.70,429.39 L129.20,428.82 L129.70,428.34 L130.20,427.96 L130.70,427.69 L131.20,427.54 L131.70,427.49 L132.20,427.56 L132.70,427.75 L133.20,428.05 L133.70,428.45 L134.20,428.95 L134.70,429.55 L135.20,430.22 L135.70,430.98 L136.20,431.79 L136.70,432.66 L137.20,433.57 L137.70,434.51 L138.20,435.46 L138.70,436.42 L139.20,437.38 L139.70,438.32 L140.20,439.25 L140.70,440.14 L141.20,441.00 L141.70,441.82 L142.20,442.59 L142.70,443.31 L143.20,443.99 L143.70,444.61 L144.20,445.18 L144.70,445.70 L145.20,446.17 L145.70,446.60 L146.20,446.98 L146.70,447.32 L147.20,447.62 L147.70,447.88 L148.20,448.11 L148.70,448.31 L149.20,448.48 L149.70,448.63 L150.20,448.75 L150.70,448.86 L151.20,448.95 L151.70,449.03 L152.20,449.10 L152.70,449.15 L153.20,449.20 L153.70,449.24 L154.20,449.27 L154.70,449.30 L155.20,449.33 L155.70,449.35 L156.20,449.37 L156.70,449.38 L157.20,449.40 L157.70,449.41 L158.20,449.42 L158.70,449.43 L159.20,449.44 L159.70,449.45 L160.20,449.46 L160.70,449.47 L161.20,449.48 L161.70,449.49 L162.20,449.50 L162.70,449.51 L163.20,449.52 L163.70,449.53 L164.20,449.53 L164.70,449.54 L165.20,449.55 L165.70,449.56 L166.20,449.57 L166.70,449.58 L167.20,449.58 L167.70,449.59 L168.20,449.60 L168.70,449.61 L169.20,449.62 L169.70,449.63 L170.20,449.63 L170.70,449.64 L171.20,449.65 L171.70,449.66 L172.20,449.67 L172.70,449.68 L173.20,449.68 L173.70,449.69 L174.20,449.70 L174.70,449.71 L175.20,449.72 L175.70,449.73 L176.20,449.73 L176.70,449.74 L177.20,449.75 L177.70,449.76 L178.20,449.77 L178.70,449.78 L179.20,449.78 L179.70,449.79 L180.20,449.80 L180.70,449.81 L181.20,449.82 L181.70,449.83 L182.20,449.83 L182.70,449.84 L183.20,449.85 L183.70,449.86 L184.20,449.87 L184.70,449.88 L185.20,449.88 L185.70,449.89 L186.20,449.90 L186.70,449.91 L187.20,449.92 L187.70,449.93 L188.20,449.93 L188.70,449.94 L189.20,449.95 L189.70,449.96 L190.20,449.97 L190.70,449.98 L191.20,449.98 L191.20,449.98 L36.70,447.41 Z" fill="url(#gg2)" stroke="none"/>
<path d="M36.70,447.41 L37.20,447.42 L37.70,447.43 L38.20,447.44 L38.70,447.44 L39.20,447.45 L39.70,447.46 L40.20,447.47 L40.70,447.48 L41.20,447.49 L41.70,447.49 L42.20,447.50 L42.70,447.51 L43.20,447.52 L43.70,447.53 L44.20,447.54 L44.70,447.54 L45.20,447.55 L45.70,447.56 L46.20,447.57 L46.70,447.58 L47.20,447.59 L47.70,447.59 L48.20,447.60 L48.70,447.61 L49.20,447.62 L49.70,447.63 L50.20,447.64 L50.70,447.64 L51.20,447.65 L51.70,447.66 L52.20,447.67 L52.70,447.68 L53.20,447.69 L53.70,447.69 L54.20,447.70 L54.70,447.71 L55.20,447.72 L55.70,447.73 L56.20,447.74 L56.70,447.74 L57.20,447.75 L57.70,447.76 L58.20,447.77 L58.70,447.78 L59.20,447.79 L59.70,447.79 L60.20,447.80 L60.70,447.81 L61.20,447.82 L61.70,447.83 L62.20,447.84 L62.70,447.84 L63.20,447.85 L63.70,447.86 L64.20,447.87 L64.70,447.88 L65.20,447.89 L65.70,447.89 L66.20,447.90 L66.70,447.91 L67.20,447.92 L67.70,447.93 L68.20,447.94 L68.70,447.94 L69.20,447.95 L69.70,447.96 L70.20,447.97 L70.70,447.98 L71.20,447.99 L71.70,447.99 L72.20,448.00 L72.70,448.01 L73.20,448.02 L73.70,448.03 L74.20,448.04 L74.70,448.04 L75.20,448.05 L75.70,448.06 L76.20,448.07 L76.70,448.08 L77.20,448.09 L77.70,448.09 L78.20,448.10 L78.70,448.11 L79.20,448.12 L79.70,448.13 L80.20,448.14 L80.70,448.14 L81.20,448.15 L81.70,448.16 L82.20,448.17 L82.70,448.18 L83.20,448.19 L83.70,448.19 L84.20,448.20 L84.70,448.21 L85.20,448.22 L85.70,448.23 L86.20,448.24 L86.70,448.24 L87.20,448.25 L87.70,448.26 L88.20,448.27 L88.70,448.28 L89.20,448.29 L89.70,448.29 L90.20,448.30 L90.70,448.31 L91.20,448.32 L91.70,448.33 L92.20,448.34 L92.70,448.34 L93.20,448.35 L93.70,448.36 L94.20,448.37 L94.70,448.38 L95.20,448.39 L95.70,448.39 L96.20,448.40 L96.70,448.41 L97.20,448.42 L97.70,448.43 L98.20,448.44 L98.70,448.44 L99.20,448.45 L99.70,448.46 L100.20,448.47 L100.70,448.48 L101.20,448.48 L101.70,448.49 L102.20,448.50 L102.70,448.51 L103.20,448.51 L103.70,448.52 L104.20,448.53 L104.70,448.53 L105.20,448.54 L105.70,448.54 L106.20,448.55 L106.70,448.55 L107.20,448.55 L107.70,448.55 L108.20,448.54 L108.70,448.53 L109.20,448.52 L109.70,448.50 L110.20,448.48 L110.70,448.45 L111.20,448.41 L111.70,448.36 L112.20,448.30 L112.70,448.22 L113.20,448.13 L113.70,448.01 L114.20,447.88 L114.70,447.72 L115.20,447.54 L115.70,447.32 L116.20,447.07 L116.70,446.79 L117.20,446.46 L117.70,446.10 L118.20,445.68 L118.70,445.22 L119.20,444.71 L119.70,444.15 L120.20,443.54 L120.70,442.88 L121.20,442.17 L121.70,441.41 L122.20,440.60 L122.70,439.76 L123.20,438.88 L123.70,437.97 L124.20,437.04 L124.70,436.10 L125.20,435.15 L125.70,434.22 L126.20,433.30 L126.70,432.41 L127.20,431.56 L127.70,430.77 L128.20,430.04 L128.70,429.39 L129.20,428.82 L129.70,428.34 L130.20,427.96 L130.70,427.69 L131.20,427.54 L131.70,427.49 L132.20,427.56 L132.70,427.75 L133.20,428.05 L133.70,428.45 L134.20,428.95 L134.70,429.55 L135.20,430.22 L135.70,430.98 L136.20,431.79 L136.70,432.66 L137.20,433.57 L137.70,434.51 L138.20,435.46 L138.70,436.42 L139.20,437.38 L139.70,438.32 L140.20,439.25 L140.70,440.14 L141.20,441.00 L141.70,441.82 L142.20,442.59 L142.70,443.31 L143.20,443.99 L143.70,444.61 L144.20,445.18 L144.70,445.70 L145.20,446.17 L145.70,446.60 L146.20,446.98 L146.70,447.32 L147.20,447.62 L147.70,447.88 L148.20,448.11 L148.70,448.31 L149.20,448.48 L149.70,448.63 L150.20,448.75 L150.70,448.86 L151.20,448.95 L151.70,449.03 L152.20,449.10 L152.70,449.15 L153.20,449.20 L153.70,449.24 L154.20,449.27 L154.70,449.30 L155.20,449.33 L155.70,449.35 L156.20,449.37 L156.70,449.38 L157.20,449.40 L157.70,449.41 L158.20,449.42 L158.70,449.43 L159.20,449.44 L159.70,449.45 L160.20,449.46 L160.70,449.47 L161.20,449.48 L161.70,449.49 L162.20,449.50 L162.70,449.51 L163.20,449.52 L163.70,449.53 L164.20,449.53 L164.70,449.54 L165.20,449.55 L165.70,449.56 L166.20,449.57 L166.70,449.58 L167.20,449.58 L167.70,449.59 L168.20,449.60 L168.70,449.61 L169.20,449.62 L169.70,449.63 L170.20,449.63 L170.70,449.64 L171.20,449.65 L171.70,449.66 L172.20,449.67 L172.70,449.68 L173.20,449.68 L173.70,449.69 L174.20,449.70 L174.70,449.71 L175.20,449.72 L175.70,449.73 L176.20,449.73 L176.70,449.74 L177.20,449.75 L177.70,449.76 L178.20,449.77 L178.70,449.78 L179.20,449.78 L179.70,449.79 L180.20,449.80 L180.70,449.81 L181.20,449.82 L181.70,449.83 L182.20,449.83 L182.70,449.84 L183.20,449.85 L183.70,449.86 L184.20,449.87 L184.70,449.88 L185.20,449.88 L185.70,449.89 L186.20,449.90 L186.70,449.91 L187.20,449.92 L187.70,449.93 L188.20,449.93 L188.70,449.94 L189.20,449.95 L189.70,449.96 L190.20,449.97 L190.70,449.98 L191.20,449.98" fill="none" stroke="#60c6d3" stroke-width="0.9"/>
<defs><linearGradient id="gg3" x1="0" y1="0" x2="0" y2="1"><stop offset="0" stop-color="#8a6ccf" stop-opacity="0.95"/><stop offset="0.7" stop-color="#8a6ccf" stop-opacity="0.3"/><stop offset="1" stop-color="#8a6ccf" stop-opacity="0.08"/></linearGradient></defs>
<path d="M36.70,447.41 L37.20,447.42 L37.70,447.43 L38.20,447.44 L38.70,447.44 L39.20,447.45 L39.70,447.46 L40.20,447.47 L40.70,447.48 L41.20,447.49 L41.70,447.49 L42.20,447.50 L42.70,447.51 L43.20,447.52 L43.70,447.53 L44.20,447.54 L44.70,447.54 L45.20,447.55 L45.70,447.56 L46.20,447.57 L46.70,447.58 L47.20,447.59 L47.70,447.59 L48.20,447.60 L48.70,447.61 L49.20,447.62 L49.70,447.63 L50.20,447.64 L50.70,447.64 L51.20,447.65 L51.70,447.66 L52.20,447.67 L52.70,447.68 L53.20,447.69 L53.70,447.69 L54.20,447.70 L54.70,447.71 L55.20,447.72 L55.70,447.73 L56.20,447.74 L56.70,447.74 L57.20,447.75 L57.70,447.76 L58.20,447.77 L58.70,447.78 L59.20,447.79 L59.70,447.79 L60.20,447.80 L60.70,447.81 L61.20,447.82 L61.70,447.83 L62.20,447.84 L62.70,447.84 L63.20,447.85 L63.70,447.86 L64.20,447.87 L64.70,447.88 L65.20,447.89 L65.70,447.89 L66.20,447.90 L66.70,447.91 L67.20,447.92 L67.70,447.93 L68.20,447.94 L68.70,447.94 L69.20,447.95 L69.70,447.96 L70.20,447.97 L70.70,447.98 L71.20,447.99 L71.70,447.99 L72.20,448.00 L72.70,448.01 L73.20,448.02 L73.70,448.03 L74.20,448.04 L74.70,448.04 L75.20,448.05 L75.70,448.06 L76.20,448.07 L76.70,448.08 L77.20,448.09 L77.70,448.09 L78.20,448.10 L78.70,448.11 L79.20,448.12 L79.70,448.13 L80.20,448.14 L80.70,448.14 L81.20,448.15 L81.70,448.16 L82.20,448.17 L82.70,448.18 L83.20,448.19 L83.70,448.19 L84.20,448.20 L84.70,448.21 L85.20,448.22 L85.70,448.23 L86.20,448.24 L86.70,448.24 L87.20,448.25 L87.70,448.26 L88.20,448.27 L88.70,448.28 L89.20,448.29 L89.70,448.29 L90.20,448.30 L90.70,448.31 L91.20,448.32 L91.70,448.33 L92.20,448.34 L92.70,448.34 L93.20,448.35 L93.70,448.36 L94.20,448.37 L94.70,448.38 L95.20,448.39 L95.70,448.39 L96.20,448.40 L96.70,448.41 L97.20,448.42 L97.70,448.43 L98.20,448.44 L98.70,448.44 L99.20,448.45 L99.70,448.46 L100.20,448.47 L100.70,448.48 L101.20,448.49 L101.70,448.49 L102.20,448.50 L102.70,448.51 L103.20,448.52 L103.70,448.53 L104.20,448.54 L104.70,448.54 L105.20,448.55 L105.70,448.56 L106.20,448.57 L106.70,448.58 L107.20,448.59 L107.70,448.59 L108.20,448.60 L108.70,448.61 L109.20,448.62 L109.70,448.63 L110.20,448.64 L110.70,448.64 L111.20,448.65 L111.70,448.66 L112.20,448.67 L112.70,448.68 L113.20,448.68 L113.70,448.69 L114.20,448.70 L114.70,448.71 L115.20,448.72 L115.70,448.73 L116.20,448.73 L116.70,448.74 L117.20,448.75 L117.70,448.75 L118.20,448.76 L118.70,448.76 L119.20,448.77 L119.70,448.77 L120.20,448.77 L120.70,448.76 L121.20,448.75 L121.70,448.74 L122.20,448.71 L122.70,448.68 L123.20,448.64 L123.70,448.58 L124.20,448.50 L124.70,448.40 L125.20,448.28 L125.70,448.11 L126.20,447.91 L126.70,447.65 L127.20,447.34 L127.70,446.95 L128.20,446.48 L128.70,445.92 L129.20,445.24 L129.70,444.45 L130.20,443.50 L130.70,442.41 L131.20,441.14 L131.70,439.68 L132.20,438.01 L132.70,436.13 L133.20,434.02 L133.70,431.67 L134.20,429.07 L134.70,426.24 L135.20,423.16 L135.70,419.86 L136.20,416.34 L136.70,412.63 L137.20,408.76 L137.70,404.75 L138.20,400.66 L138.70,396.53 L139.20,392.40 L139.70,388.34 L140.20,384.41 L140.70,380.66 L141.20,377.15 L141.70,373.94 L142.20,371.09 L142.70,368.65 L143.20,366.66 L143.70,365.17 L144.20,364.18 L144.70,363.74 L145.20,363.84 L145.70,364.48 L146.20,365.66 L146.70,367.34 L147.20,369.51 L147.70,372.11 L148.20,375.10 L148.70,378.43 L149.20,382.05 L149.70,385.88 L150.20,389.88 L150.70,393.99 L151.20,398.14 L151.70,402.28 L152.20,406.36 L152.70,410.34 L153.20,414.18 L153.70,417.85 L154.20,421.31 L154.70,424.56 L155.20,427.57 L155.70,430.34 L156.20,432.86 L156.70,435.15 L157.20,437.20 L157.70,439.02 L158.20,440.64 L158.70,442.05 L159.20,443.27 L159.70,444.33 L160.20,445.24 L160.70,446.01 L161.20,446.67 L161.70,447.21 L162.20,447.67 L162.70,448.05 L163.20,448.36 L163.70,448.61 L164.20,448.82 L164.70,448.98 L165.20,449.12 L165.70,449.23 L166.20,449.31 L166.70,449.38 L167.20,449.44 L167.70,449.48 L168.20,449.52 L168.70,449.55 L169.20,449.57 L169.70,449.59 L170.20,449.61 L170.70,449.63 L171.20,449.64 L171.70,449.65 L172.20,449.66 L172.70,449.67 L173.20,449.68 L173.70,449.69 L174.20,449.70 L174.70,449.71 L175.20,449.72 L175.70,449.72 L176.20,449.73 L176.70,449.74 L177.20,449.75 L177.70,449.76 L178.20,449.77 L178.70,449.78 L179.20,449.78 L179.70,449.79 L180.20,449.80 L180.70,449.81 L181.20,449.82 L181.70,449.83 L182.20,449.83 L182.70,449.84 L183.20,449.85 L183.70,449.86 L184.20,449.87 L184.70,449.88 L185.20,449.88 L185.70,449.89 L186.20,449.90 L186.70,449.91 L187.20,449.92 L187.70,449.93 L188.20,449.93 L188.70,449.94 L189.20,449.95 L189.70,449.96 L190.20,449.97 L190.70,449.98 L191.20,449.98 L191.20,449.98 L36.70,447.41 Z" fill="url(#gg3)" stroke="none"/>
<path d="M36.70,447.41 L37.20,447.42 L37.70,447.43 L38.20,447.44 L38.70,447.44 L39.20,447.45 L39.70,447.46 L40.20,447.47 L40.70,447.48 L41.20,447.49 L41.70,447.49 L42.20,447.50 L42.70,447.51 L43.20,447.52 L43.70,447.53 L44.20,447.54 L44.70,447.54 L45.20,447.55 L45.70,447.56 L46.20,447.57 L46.70,447.58 L47.20,447.59 L47.70,447.59 L48.20,447.60 L48.70,447.61 L49.20,447.62 L49.70,447.63 L50.20,447.64 L50.70,447.64 L51.20,447.65 L51.70,447.66 L52.20,447.67 L52.70,447.68 L53.20,447.69 L53.70,447.69 L54.20,447.70 L54.70,447.71 L55.20,447.72 L55.70,447.73 L56.20,447.74 L56.70,447.74 L57.20,447.75 L57.70,447.76 L58.20,447.77 L58.70,447.78 L59.20,447.79 L59.70,447.79 L60.20,447.80 L60.70,447.81 L61.20,447.82 L61.70,447.83 L62.20,447.84 L62.70,447.84 L63.20,447.85 L63.70,447.86 L64.20,447.87 L64.70,447.88 L65.20,447.89 L65.70,447.89 L66.20,447.90 L66.70,447.91 L67.20,447.92 L67.70,447.93 L68.20,447.94 L68.70,447.94 L69.20,447.95 L69.70,447.96 L70.20,447.97 L70.70,447.98 L71.20,447.99 L71.70,447.99 L72.20,448.00 L72.70,448.01 L73.20,448.02 L73.70,448.03 L74.20,448.04 L74.70,448.04 L75.20,448.05 L75.70,448.06 L76.20,448.07 L76.70,448.08 L77.20,448.09 L77.70,448.09 L78.20,448.10 L78.70,448.11 L79.20,448.12 L79.70,448.13 L80.20,448.14 L80.70,448.14 L81.20,448.15 L81.70,448.16 L82.20,448.17 L82.70,448.18 L83.20,448.19 L83.70,448.19 L84.20,448.20 L84.70,448.21 L85.20,448.22 L85.70,448.23 L86.20,448.24 L86.70,448.24 L87.20,448.25 L87.70,448.26 L88.20,448.27 L88.70,448.28 L89.20,448.29 L89.70,448.29 L90.20,448.30 L90.70,448.31 L91.20,448.32 L91.70,448.33 L92.20,448.34 L92.70,448.34 L93.20,448.35 L93.70,448.36 L94.20,448.37 L94.70,448.38 L95.20,448.39 L95.70,448.39 L96.20,448.40 L96.70,448.41 L97.20,448.42 L97.70,448.43 L98.20,448.44 L98.70,448.44 L99.20,448.45 L99.70,448.46 L100.20,448.47 L100.70,448.48 L101.20,448.49 L101.70,448.49 L102.20,448.50 L102.70,448.51 L103.20,448.52 L103.70,448.53 L104.20,448.54 L104.70,448.54 L105.20,448.55 L105.70,448.56 L106.20,448.57 L106.70,448.58 L107.20,448.59 L107.70,448.59 L108.20,448.60 L108.70,448.61 L109.20,448.62 L109.70,448.63 L110.20,448.64 L110.70,448.64 L111.20,448.65 L111.70,448.66 L112.20,448.67 L112.70,448.68 L113.20,448.68 L113.70,448.69 L114.20,448.70 L114.70,448.71 L115.20,448.72 L115.70,448.73 L116.20,448.73 L116.70,448.74 L117.20,448.75 L117.70,448.75 L118.20,448.76 L118.70,448.76 L119.20,448.77 L119.70,448.77 L120.20,448.77 L120.70,448.76 L121.20,448.75 L121.70,448.74 L122.20,448.71 L122.70,448.68 L123.20,448.64 L123.70,448.58 L124.20,448.50 L124.70,448.40 L125.20,448.28 L125.70,448.11 L126.20,447.91 L126.70,447.65 L127.20,447.34 L127.70,446.95 L128.20,446.48 L128.70,445.92 L129.20,445.24 L129.70,444.45 L130.20,443.50 L130.70,442.41 L131.20,441.14 L131.70,439.68 L132.20,438.01 L132.70,436.13 L133.20,434.02 L133.70,431.67 L134.20,429.07 L134.70,426.24 L135.20,423.16 L135.70,419.86 L136.20,416.34 L136.70,412.63 L137.20,408.76 L137.70,404.75 L138.20,400.66 L138.70,396.53 L139.20,392.40 L139.70,388.34 L140.20,384.41 L140.70,380.66 L141.20,377.15 L141.70,373.94 L142.20,371.09 L142.70,368.65 L143.20,366.66 L143.70,365.17 L144.20,364.18 L144.70,363.74 L145.20,363.84 L145.70,364.48 L146.20,365.66 L146.70,367.34 L147.20,369.51 L147.70,372.11 L148.20,375.10 L148.70,378.43 L149.20,382.05 L149.70,385.88 L150.20,389.88 L150.70,393.99 L151.20,398.14 L151.70,402.28 L152.20,406.36 L152.70,410.34 L153.20,414.18 L153.70,417.85 L154.20,421.31 L154.70,424.56 L155.20,427.57 L155.70,430.34 L156.20,432.86 L156.70,435.15 L157.20,437.20 L157.70,439.02 L158.20,440.64 L158.70,442.05 L159.20,443.27 L159.70,444.33 L160.20,445.24 L160.70,446.01 L161.20,446.67 L161.70,447.21 L162.20,447.67 L162.70,448.05 L163.20,448.36 L163.70,448.61 L164.20,448.82 L164.70,448.98 L165.20,449.12 L165.70,449.23 L166.20,449.31 L166.70,449.38 L167.20,449.44 L167.70,449.48 L168.20,449.52 L168.70,449.55 L169.20,449.57 L169.70,449.59 L170.20,449.61 L170.70,449.63 L171.20,449.64 L171.70,449.65 L172.20,449.66 L172.70,449.67 L173.20,449.68 L173.70,449.69 L174.20,449.70 L174.70,449.71 L175.20,449.72 L175.70,449.72 L176.20,449.73 L176.70,449.74 L177.20,449.75 L177.70,449.76 L178.20,449.77 L178.70,449.78 L179.20,449.78 L179.70,449.79 L180.20,449.80 L180.70,449.81 L181.20,449.82 L181.70,449.83 L182.20,449.83 L182.70,449.84 L183.20,449.85 L183.70,449.86 L184.20,449.87 L184.70,449.88 L185.20,449.88 L185.70,449.89 L186.20,449.90 L186.70,449.91 L187.20,449.92 L187.70,449.93 L188.20,449.93 L188.70,449.94 L189.20,449.95 L189.70,449.96 L190.20,449.97 L190.70,449.98 L191.20,449.98" fill="none" stroke="#5d3aa6" stroke-width="0.9"/>
<path d="M36.70,447.41 L37.20,447.42 L37.70,447.43 L38.20,447.44 L38.70,447.44 L39.20,447.45 L39.70,447.46 L40.20,447.47 L40.70,447.48 L41.20,447.49 L41.70,447.49 L42.20,447.50 L42.70,447.51 L43.20,447.52 L43.70,447.53 L44.20,447.54 L44.70,447.54 L45.20,447.55 L45.70,447.56 L46.20,447.57 L46.70,447.58 L47.20,447.59 L47.70,447.59 L48.20,447.60 L48.70,447.61 L49.20,447.62 L49.70,447.63 L50.20,447.64 L50.70,447.64 L51.20,447.65 L51.70,447.66 L52.20,447.67 L52.70,447.68 L53.20,447.69 L53.70,447.69 L54.20,447.70 L54.70,447.71 L55.20,447.72 L55.70,447.73 L56.20,447.74 L56.70,447.74 L57.20,447.75 L57.70,447.76 L58.20,447.77 L58.70,447.78 L59.20,447.79 L59.70,447.79 L60.20,447.80 L60.70,447.81 L61.20,447.82 L61.70,447.83 L62.20,447.84 L62.70,447.84 L63.20,447.85 L63.70,447.86 L64.20,447.87 L64.70,447.88 L65.20,447.89 L65.70,447.89 L66.20,447.90 L66.70,447.91 L67.20,447.92 L67.70,447.93 L68.20,447.94 L68.70,447.94 L69.20,447.95 L69.70,447.96 L70.20,447.97 L70.70,447.98 L71.20,447.99 L71.70,447.99 L72.20,448.00 L72.70,448.01 L73.20,448.02 L73.70,448.03 L74.20,448.04 L74.70,448.04 L75.20,448.05 L75.70,448.06 L76.20,448.07 L76.70,448.08 L77.20,448.09 L77.70,448.09 L78.20,448.10 L78.70,448.11 L79.20,448.12 L79.70,448.13 L80.20,448.14 L80.70,448.14 L81.20,448.15 L81.70,448.16 L82.20,448.17 L82.70,448.18 L83.20,448.19 L83.70,448.19 L84.20,448.20 L84.70,448.21 L85.20,448.22 L85.70,448.23 L86.20,448.24 L86.70,448.24 L87.20,448.25 L87.70,448.26 L88.20,448.27 L88.70,448.28 L89.20,448.29 L89.70,448.29 L90.20,448.30 L90.70,448.31 L91.20,448.32 L91.70,448.33 L92.20,448.34 L92.70,448.34 L93.20,448.35 L93.70,448.36 L94.20,448.37 L94.70,448.38 L95.20,448.39 L95.70,448.39 L96.20,448.40 L96.70,448.41 L97.20,448.42 L97.70,448.43 L98.20,448.44 L98.70,448.44 L99.20,448.45 L99.70,448.46 L100.20,448.47 L100.70,448.48 L101.20,448.49 L101.70,448.49 L102.20,448.50 L102.70,448.51 L103.20,448.52 L103.70,448.53 L104.20,448.54 L104.70,448.54 L105.20,448.55 L105.70,448.56 L106.20,448.57 L106.70,448.58 L107.20,448.59 L107.70,448.59 L108.20,448.60 L108.70,448.61 L109.20,448.62 L109.70,448.63 L110.20,448.64 L110.70,448.64 L111.20,448.65 L111.70,448.66 L112.20,448.67 L112.70,448.68 L113.20,448.69 L113.70,448.69 L114.20,448.70 L114.70,448.71 L115.20,448.72 L115.70,448.73 L116.20,448.73 L116.70,448.74 L117.20,448.75 L117.70,448.76 L118.20,448.77 L118.70,448.78 L119.20,448.78 L119.70,448.79 L120.20,448.80 L120.70,448.81 L121.20,448.82 L121.70,448.83 L122.20,448.83 L122.70,448.84 L123.20,448.85 L123.70,448.86 L124.20,448.87 L124.70,448.88 L125.20,448.88 L125.70,448.89 L126.20,448.90 L126.70,448.91 L127.20,448.92 L127.70,448.93 L128.20,448.93 L128.70,448.94 L129.20,448.95 L129.70,448.96 L130.20,448.97 L130.70,448.98 L131.20,448.98 L131.70,448.99 L132.20,449.00 L132.70,449.01 L133.20,449.02 L133.70,449.03 L134.20,449.03 L134.70,449.04 L135.20,449.05 L135.70,449.06 L136.20,449.07 L136.70,449.08 L137.20,449.08 L137.70,449.09 L138.20,449.10 L138.70,449.11 L139.20,449.12 L139.70,449.13 L140.20,449.13 L140.70,449.14 L141.20,449.15 L141.70,449.16 L142.20,449.17 L142.70,449.18 L143.20,449.18 L143.70,449.19 L144.20,449.20 L144.70,449.21 L145.20,449.22 L145.70,449.23 L146.20,449.23 L146.70,449.24 L147.20,449.25 L147.70,449.26 L148.20,449.27 L148.70,449.28 L149.20,449.28 L149.70,449.29 L150.20,449.30 L150.70,449.31 L151.20,449.32 L151.70,449.33 L152.20,449.33 L152.70,449.34 L153.20,449.35 L153.70,449.36 L154.20,449.37 L154.70,449.38 L155.20,449.38 L155.70,449.39 L156.20,449.40 L156.70,449.41 L157.20,449.42 L157.70,449.43 L158.20,449.43 L158.70,449.44 L159.20,449.45 L159.70,449.46 L160.20,449.47 L160.70,449.48 L161.20,449.48 L161.70,449.49 L162.20,449.50 L162.70,449.51 L163.20,449.52 L163.70,449.53 L164.20,449.53 L164.70,449.54 L165.20,449.55 L165.70,449.56 L166.20,449.57 L166.70,449.58 L167.20,449.58 L167.70,449.59 L168.20,449.60 L168.70,449.61 L169.20,449.62 L169.70,449.63 L170.20,449.63 L170.70,449.64 L171.20,449.65 L171.70,449.66 L172.20,449.67 L172.70,449.68 L173.20,449.68 L173.70,449.69 L174.20,449.70 L174.70,449.71 L175.20,449.72 L175.70,449.73 L176.20,449.73 L176.70,449.74 L177.20,449.75 L177.70,449.76 L178.20,449.77 L178.70,449.78 L179.20,449.78 L179.70,449.79 L180.20,449.80 L180.70,449.81 L181.20,449.82 L181.70,449.83 L182.20,449.83 L182.70,449.84 L183.20,449.85 L183.70,449.86 L184.20,449.87 L184.70,449.88 L185.20,449.88 L185.70,449.89 L186.20,449.90 L186.70,449.91 L187.20,449.92 L187.70,449.93 L188.20,449.93 L188.70,449.94 L189.20,449.95 L189.70,449.96 L190.20,449.97 L190.70,449.98 L191.20,449.98" fill="none" stroke="#c9c27a" stroke-width="0.8"/>
<path d="M80.20,446.06 L80.70,446.42 L81.20,446.73 L81.70,446.99 L82.20,447.20 L82.70,447.37 L83.20,447.50 L83.70,447.60 L84.20,447.67 L84.70,447.71 L85.20,447.73 L85.70,447.73 L86.20,447.70 L86.70,447.66 L87.20,447.59 L87.70,447.50 L88.20,447.38 L88.70,447.25 L89.20,447.08 L89.70,446.89 L90.20,446.68 L90.70,446.43 L91.20,446.15 L91.70,445.84 L92.20,445.49 L92.70,445.10 L93.20,444.68 L93.70,444.22 L94.20,443.73 L94.70,443.20 L95.20,442.63 L95.70,442.03 L96.20,441.39 L96.70,440.73 L97.20,440.05 L97.70,439.35 L98.20,438.63 L98.70,437.90 L99.20,437.18 L99.70,436.46 L100.20,435.76 L100.70,435.07 L101.20,434.42 L101.70,433.81 L102.20,433.24 L102.70,432.72 L103.20,432.26 L103.70,431.87 L104.20,431.55 L104.70,431.31 L105.20,431.14 L105.70,431.06 L106.20,431.06 L106.70,431.14 L107.20,431.30 L107.70,431.54 L108.20,431.85 L108.70,432.23 L109.20,432.67 L109.70,433.17 L110.20,433.72 L110.70,434.31 L111.20,434.92 L111.70,435.56 L112.20,436.21 L112.70,436.86 L113.20,437.50 L113.70,438.12 L114.20,438.71 L114.70,439.26 L115.20,439.77 L115.70,440.23 L116.20,440.63 L116.70,440.95 L117.20,441.21 L117.70,441.38 L118.20,441.48 L118.70,441.49 L119.20,441.40 L119.70,441.24 L120.20,440.98 L120.70,440.63 L121.20,440.19 L121.70,439.67 L122.20,439.07 L122.70,438.39 L123.20,437.64 L123.70,436.82 L124.20,435.94 L124.70,435.01 L125.20,434.03 L125.70,433.01 L126.20,431.95 L126.70,430.86 L127.20,429.75 L127.70,428.60 L128.20,427.43 L128.70,426.24 L129.20,425.01 L129.70,423.74 L130.20,422.44 L130.70,421.07 L131.20,419.65 L131.70,418.14 L132.20,416.55 L132.70,414.85 L133.20,413.03 L133.70,411.08 L134.20,408.98 L134.70,406.73 L135.20,404.33 L135.70,401.77 L136.20,399.06 L136.70,396.21 L137.20,393.24 L137.70,390.16 L138.20,387.02 L138.70,383.84 L139.20,380.66 L139.70,377.54 L140.20,374.52 L140.70,371.65 L141.20,369.00 L141.70,366.60 L142.20,364.51 L142.70,362.79 L143.20,361.47 L143.70,360.58 L144.20,360.16 L144.70,360.23 L145.20,360.80 L145.70,361.86 L146.20,363.40 L146.70,365.42 L147.20,367.87 L147.70,370.73 L148.20,373.94 L148.70,377.46 L149.20,381.24 L149.70,385.22 L150.20,389.33 L150.70,393.54 L151.20,397.77 L151.70,401.98 L152.20,406.12 L152.70,410.15 L153.20,414.03 L153.70,417.73 L154.20,421.22 L154.70,424.48 L155.20,427.51 L155.70,430.29 L156.20,432.83 L156.70,435.12 L157.20,437.18 L157.70,439.01 L158.20,440.62 L158.70,442.04 L159.20,443.27 L159.70,444.33 L160.20,445.24 L160.70,446.01 L161.20,446.66 L161.70,447.21 L162.20,447.67 L162.70,448.04 L163.20,448.36 L163.70,448.61 L164.20,448.82 L164.70,448.98 L165.20,449.12 L165.70,449.23 L166.20,449.31 L166.70,449.38 L167.20,449.44 L167.70,449.48 L168.20,449.52 L168.70,449.55 L169.20,449.57 L169.70,449.59 L170.20,449.61 L170.70,449.63 L171.20,449.64 L171.70,449.65 L172.20,449.66 L172.70,449.67 L173.20,449.68 L173.70,449.69 L174.20,449.70 L174.70,449.71 L175.20,449.72 L175.70,449.72 L176.20,449.73 L176.70,449.74 L177.20,449.75 L177.70,449.76 L178.20,449.77 L178.70,449.78 L179.20,449.78 L179.70,449.79 L180.20,449.80 L180.70,449.81 L181.20,449.82 L181.70,449.83 L182.20,449.83 L182.70,449.84 L183.20,449.85 L183.70,449.86 L184.20,449.87 L184.70,449.88 L185.20,449.88 L185.70,449.89 L186.20,449.90 L186.70,449.91 L187.20,449.92 L187.70,449.93 L188.20,449.93 L188.70,449.94 L189.20,449.95 L189.70,449.96 L190.20,449.97 L190.70,449.98 L191.20,449.98" fill="none" stroke="#111" stroke-width="1.2"/>
<path d="M36.70,447.41 L37.20,447.42 L37.70,447.43 L38.20,447.44 L38.70,447.44 L39.20,447.45 L39.70,447.46 L40.20,447.47 L40.70,447.48 L41.20,447.49 L41.70,447.49 L42.20,447.50 L42.70,447.51 L43.20,447.52 L43.70,447.53 L44.20,447.53 L44.70,447.54 L45.20,447.55 L45.70,447.55 L46.20,447.56 L46.70,447.56 L47.20,447.56 L47.70,447.56 L48.20,447.55 L48.70,447.54 L49.20,447.52 L49.70,447.50 L50.20,447.47 L50.70,447.42 L51.20,447.37 L51.70,447.29 L52.20,447.20 L52.70,447.07 L53.20,446.93 L53.70,446.74 L54.20,446.52 L54.70,446.25 L55.20,445.94 L55.70,445.56 L56.20,445.13 L56.70,444.63 L57.20,444.06 L57.70,443.42 L58.20,442.70 L58.70,441.91 L59.20,441.04 L59.70,440.10 L60.20,439.10 L60.70,438.04 L61.20,436.93 L61.70,435.80 L62.20,434.64 L62.70,433.48 L63.20,432.35 L63.70,431.25 L64.20,430.21 L64.70,429.25 L65.20,428.39 L65.70,427.65 L66.20,427.04 L66.70,426.58 L67.20,426.27 L67.70,426.14 L68.20,426.17 L68.70,426.37 L69.20,426.74 L69.70,427.26 L70.20,427.92 L70.70,428.72 L71.20,429.63 L71.70,430.63 L72.20,431.70 L72.70,432.83 L73.20,433.99 L73.70,435.17 L74.20,436.34 L74.70,437.48 L75.20,438.59 L75.70,439.65 L76.20,440.65 L76.70,441.58 L77.20,442.45 L77.70,443.23 L78.20,443.94 L78.70,444.58 L79.20,445.14 L79.70,445.63 L80.20,446.06 L80.70,446.42" fill="none" stroke="#cbb83a" stroke-width="1.1"/>
<text x="0" y="0" font-size="7.6" font-weight="bold" text-anchor="middle" fill="#111" stroke="#111" stroke-width="0.12" transform="translate(146.5 355.3) scale(1 1.08)" >C-C</text>
<text x="0" y="0" font-size="7.6" font-weight="bold" text-anchor="middle" fill="#111" stroke="#111" stroke-width="0.12" transform="translate(117.0 424.0) scale(1 1.08)" >C-O-C</text>
<text x="0" y="0" font-size="7.6" font-weight="bold" text-anchor="middle" fill="#111" stroke="#111" stroke-width="0.12" transform="translate(91.1 430.7) scale(1 1.08)" >O-C=O</text>
<text x="0" y="0" font-size="7.6" font-weight="bold" text-anchor="middle" fill="#111" stroke="#111" stroke-width="0.12" transform="translate(67.3 424.0) scale(1 1.08)" >C-F</text>
<rect x="230.5" y="333.6" width="156.2" height="125.29999999999995" fill="none" stroke="#111" stroke-width="1.7"/>
<line x1="230.50" y1="458.9" x2="230.50" y2="461.9" stroke="#161616" stroke-width="1.0"/>
<line x1="282.55" y1="458.9" x2="282.55" y2="461.9" stroke="#161616" stroke-width="1.0"/>
<line x1="334.60" y1="458.9" x2="334.60" y2="461.9" stroke="#161616" stroke-width="1.0"/>
<line x1="386.65" y1="458.9" x2="386.65" y2="461.9" stroke="#161616" stroke-width="1.0"/>
<line x1="256.52" y1="458.9" x2="256.52" y2="460.5" stroke="#161616" stroke-width="1.0"/>
<line x1="308.57" y1="458.9" x2="308.57" y2="460.5" stroke="#161616" stroke-width="1.0"/>
<line x1="360.62" y1="458.9" x2="360.62" y2="460.5" stroke="#161616" stroke-width="1.0"/>
<text x="0" y="0" font-size="7.9" font-weight="bold" text-anchor="middle" fill="#111" stroke="#111" stroke-width="0.1" transform="translate(229.0 469.1) scale(1 1.18)" >695</text>
<text x="0" y="0" font-size="7.9" font-weight="bold" text-anchor="middle" fill="#111" stroke="#111" stroke-width="0.1" transform="translate(281.05 469.1) scale(1 1.18)" >690</text>
<text x="0" y="0" font-size="7.9" font-weight="bold" text-anchor="middle" fill="#111" stroke="#111" stroke-width="0.1" transform="translate(333.1 469.1) scale(1 1.18)" >685</text>
<text x="0" y="0" font-size="7.9" font-weight="bold" text-anchor="middle" fill="#111" stroke="#111" stroke-width="0.1" transform="translate(385.15 469.1) scale(1 1.18)" >680</text>
<text x="0" y="0" font-size="8.1" font-weight="bold" text-anchor="middle" fill="#111" stroke="#111" stroke-width="0.12" transform="translate(308.3 479.3) scale(1 1.08)" >Binding energy (eV)</text>
<text x="0" y="0" font-size="8.1" font-weight="bold" text-anchor="middle" fill="#111" stroke="#111" stroke-width="0.12" transform="translate(217.8 396.4) rotate(-90) scale(1 1.08)" >Intensity (a.u.)</text>
<text x="0" y="0" font-size="7.3" font-weight="bold" text-anchor="start" fill="#111" stroke="#111" stroke-width="0.12" transform="translate(233.8 343.6) scale(1 1.08)" >F 1s</text>
<defs><linearGradient id="hg" x1="0" y1="0" x2="0" y2="1"><stop offset="0" stop-color="#8fcc80" stop-opacity="0.95"/><stop offset="0.75" stop-color="#d6edd0" stop-opacity="0.6"/><stop offset="1" stop-color="#f2f9f0" stop-opacity="0.4"/></linearGradient></defs>
<path d="M231.20,447.68 L231.70,447.68 L232.20,447.69 L232.70,447.69 L233.20,447.70 L233.70,447.70 L234.20,447.71 L234.70,447.71 L235.20,447.72 L235.70,447.72 L236.20,447.73 L236.70,447.74 L237.20,447.74 L237.70,447.75 L238.20,447.75 L238.70,447.76 L239.20,447.76 L239.70,447.77 L240.20,447.77 L240.70,447.77 L241.20,447.78 L241.70,447.78 L242.20,447.79 L242.70,447.79 L243.20,447.80 L243.70,447.80 L244.20,447.80 L244.70,447.81 L245.20,447.81 L245.70,447.81 L246.20,447.82 L246.70,447.82 L247.20,447.82 L247.70,447.83 L248.20,447.83 L248.70,447.83 L249.20,447.83 L249.70,447.83 L250.20,447.83 L250.70,447.83 L251.20,447.83 L251.70,447.83 L252.20,447.83 L252.70,447.83 L253.20,447.82 L253.70,447.82 L254.20,447.81 L254.70,447.81 L255.20,447.80 L255.70,447.78 L256.20,447.77 L256.70,447.75 L257.20,447.73 L257.70,447.71 L258.20,447.69 L258.70,447.65 L259.20,447.62 L259.70,447.58 L260.20,447.53 L260.70,447.47 L261.20,447.41 L261.70,447.34 L262.20,447.26 L262.70,447.17 L263.20,447.06 L263.70,446.95 L264.20,446.82 L264.70,446.67 L265.20,446.50 L265.70,446.32 L266.20,446.11 L266.70,445.88 L267.20,445.62 L267.70,445.33 L268.20,445.02 L268.70,444.67 L269.20,444.29 L269.70,443.87 L270.20,443.41 L270.70,442.90 L271.20,442.35 L271.70,441.75 L272.20,441.10 L272.70,440.39 L273.20,439.63 L273.70,438.81 L274.20,437.92 L274.70,436.97 L275.20,435.95 L275.70,434.86 L276.20,433.70 L276.70,432.46 L277.20,431.15 L277.70,429.77 L278.20,428.30 L278.70,426.76 L279.20,425.15 L279.70,423.45 L280.20,421.69 L280.70,419.84 L281.20,417.93 L281.70,415.95 L282.20,413.91 L282.70,411.80 L283.20,409.64 L283.70,407.43 L284.20,405.17 L284.70,402.88 L285.20,400.56 L285.70,398.21 L286.20,395.85 L286.70,393.48 L287.20,391.11 L287.70,388.76 L288.20,386.43 L288.70,384.13 L289.20,381.88 L289.70,379.68 L290.20,377.55 L290.70,375.50 L291.20,373.53 L291.70,371.66 L292.20,369.89 L292.70,368.25 L293.20,366.73 L293.70,365.35 L294.20,364.11 L294.70,363.03 L295.20,362.10 L295.70,361.34 L296.20,360.75 L296.70,360.34 L297.20,360.10 L297.70,360.03 L298.20,360.15 L298.70,360.45 L299.20,360.92 L299.70,361.56 L300.20,362.37 L300.70,363.35 L301.20,364.48 L301.70,365.77 L302.20,367.20 L302.70,368.76 L303.20,370.45 L303.70,372.25 L304.20,374.16 L304.70,376.16 L305.20,378.25 L305.70,380.41 L306.20,382.64 L306.70,384.92 L307.20,387.24 L307.70,389.59 L308.20,391.96 L308.70,394.34 L309.20,396.73 L309.70,399.10 L310.20,401.46 L310.70,403.79 L311.20,406.10 L311.70,408.36 L312.20,410.57 L312.70,412.74 L313.20,414.85 L313.70,416.89 L314.20,418.87 L314.70,420.78 L315.20,422.62 L315.70,424.39 L316.20,426.08 L316.70,427.70 L317.20,429.24 L317.70,430.70 L318.20,432.08 L318.70,433.39 L319.20,434.62 L319.70,435.78 L320.20,436.87 L320.70,437.89 L321.20,438.85 L321.70,439.73 L322.20,440.56 L322.70,441.33 L323.20,442.04 L323.70,442.69 L324.20,443.29 L324.70,443.85 L325.20,444.36 L325.70,444.83 L326.20,445.25 L326.70,445.65 L327.20,446.00 L327.70,446.32 L328.20,446.62 L328.70,446.88 L329.20,447.13 L329.70,447.34 L330.20,447.54 L330.70,447.72 L331.20,447.88 L331.70,448.02 L332.20,448.15 L332.70,448.27 L333.20,448.37 L333.70,448.47 L334.20,448.55 L334.70,448.63 L335.20,448.69 L335.70,448.76 L336.20,448.81 L336.70,448.86 L337.20,448.91 L337.70,448.95 L338.20,448.99 L338.70,449.02 L339.20,449.05 L339.70,449.08 L340.20,449.11 L340.70,449.13 L341.20,449.15 L341.70,449.17 L342.20,449.20 L342.70,449.21 L343.20,449.23 L343.70,449.25 L344.20,449.27 L344.70,449.28 L345.20,449.30 L345.70,449.31 L346.20,449.32 L346.70,449.34 L347.20,449.35 L347.70,449.36 L348.20,449.38 L348.70,449.39 L349.20,449.40 L349.70,449.41 L350.20,449.43 L350.70,449.44 L351.20,449.45 L351.70,449.46 L352.20,449.47 L352.70,449.48 L353.20,449.49 L353.70,449.51 L354.20,449.52 L354.70,449.53 L355.20,449.54 L355.70,449.55 L356.20,449.56 L356.70,449.57 L357.20,449.58 L357.70,449.59 L358.20,449.60 L358.70,449.61 L359.20,449.62 L359.70,449.63 L360.20,449.64 L360.70,449.65 L361.20,449.66 L361.70,449.67 L362.20,449.68 L362.70,449.69 L363.20,449.70 L363.70,449.71 L364.20,449.72 L364.70,449.73 L365.20,449.74 L365.70,449.75 L366.20,449.76 L366.70,449.77 L367.20,449.78 L367.70,449.79 L368.20,449.79 L368.70,449.80 L369.20,449.81 L369.70,449.82 L370.20,449.83 L370.70,449.84 L371.20,449.85 L371.70,449.86 L372.20,449.87 L372.70,449.88 L373.20,449.89 L373.70,449.90 L374.20,449.90 L374.70,449.91 L375.20,449.92 L375.70,449.93 L376.20,449.94 L376.70,449.95 L377.20,449.96 L377.70,449.97 L378.20,449.98 L378.70,449.98 L379.20,449.99 L379.70,450.00 L380.20,450.01 L380.70,450.02 L381.20,450.03 L381.70,450.04 L382.20,450.05 L382.70,450.05 L383.20,450.06 L383.70,450.07 L384.20,450.08 L384.70,450.09 L385.20,450.10 L385.70,450.11 L385.70,450.18 L231.20,447.81 Z" fill="url(#hg)"/>
<path d="M231.20,447.81 L231.70,447.82 L232.20,447.83 L232.70,447.83 L233.20,447.84 L233.70,447.85 L234.20,447.86 L234.70,447.86 L235.20,447.87 L235.70,447.88 L236.20,447.89 L236.70,447.90 L237.20,447.90 L237.70,447.91 L238.20,447.92 L238.70,447.93 L239.20,447.93 L239.70,447.94 L240.20,447.95 L240.70,447.96 L241.20,447.96 L241.70,447.97 L242.20,447.98 L242.70,447.99 L243.20,448.00 L243.70,448.00 L244.20,448.01 L244.70,448.02 L245.20,448.03 L245.70,448.03 L246.20,448.04 L246.70,448.05 L247.20,448.06 L247.70,448.06 L248.20,448.07 L248.70,448.08 L249.20,448.09 L249.70,448.10 L250.20,448.10 L250.70,448.11 L251.20,448.12 L251.70,448.13 L252.20,448.13 L252.70,448.14 L253.20,448.15 L253.70,448.16 L254.20,448.16 L254.70,448.17 L255.20,448.18 L255.70,448.19 L256.20,448.19 L256.70,448.20 L257.20,448.21 L257.70,448.22 L258.20,448.23 L258.70,448.23 L259.20,448.24 L259.70,448.25 L260.20,448.26 L260.70,448.26 L261.20,448.27 L261.70,448.28 L262.20,448.29 L262.70,448.29 L263.20,448.30 L263.70,448.31 L264.20,448.32 L264.70,448.33 L265.20,448.33 L265.70,448.34 L266.20,448.35 L266.70,448.36 L267.20,448.36 L267.70,448.37 L268.20,448.38 L268.70,448.39 L269.20,448.39 L269.70,448.40 L270.20,448.41 L270.70,448.42 L271.20,448.43 L271.70,448.43 L272.20,448.44 L272.70,448.45 L273.20,448.46 L273.70,448.46 L274.20,448.47 L274.70,448.48 L275.20,448.49 L275.70,448.49 L276.20,448.50 L276.70,448.51 L277.20,448.52 L277.70,448.53 L278.20,448.53 L278.70,448.54 L279.20,448.55 L279.70,448.56 L280.20,448.56 L280.70,448.57 L281.20,448.58 L281.70,448.59 L282.20,448.59 L282.70,448.60 L283.20,448.61 L283.70,448.62 L284.20,448.63 L284.70,448.63 L285.20,448.64 L285.70,448.65 L286.20,448.66 L286.70,448.66 L287.20,448.67 L287.70,448.68 L288.20,448.69 L288.70,448.69 L289.20,448.70 L289.70,448.71 L290.20,448.72 L290.70,448.72 L291.20,448.73 L291.70,448.74 L292.20,448.75 L292.70,448.76 L293.20,448.76 L293.70,448.77 L294.20,448.78 L294.70,448.79 L295.20,448.79 L295.70,448.80 L296.20,448.81 L296.70,448.82 L297.20,448.82 L297.70,448.83 L298.20,448.84 L298.70,448.85 L299.20,448.85 L299.70,448.86 L300.20,448.87 L300.70,448.88 L301.20,448.88 L301.70,448.89 L302.20,448.90 L302.70,448.91 L303.20,448.91 L303.70,448.92 L304.20,448.92 L304.70,448.93 L305.20,448.94 L305.70,448.94 L306.20,448.94 L306.70,448.95 L307.20,448.95 L307.70,448.95 L308.20,448.95 L308.70,448.95 L309.20,448.95 L309.70,448.94 L310.20,448.94 L310.70,448.93 L311.20,448.92 L311.70,448.90 L312.20,448.88 L312.70,448.86 L313.20,448.84 L313.70,448.81 L314.20,448.77 L314.70,448.74 L315.20,448.69 L315.70,448.64 L316.20,448.59 L316.70,448.52 L317.20,448.46 L317.70,448.38 L318.20,448.30 L318.70,448.21 L319.20,448.12 L319.70,448.02 L320.20,447.91 L320.70,447.80 L321.20,447.68 L321.70,447.56 L322.20,447.43 L322.70,447.30 L323.20,447.17 L323.70,447.04 L324.20,446.91 L324.70,446.78 L325.20,446.65 L325.70,446.52 L326.20,446.41 L326.70,446.29 L327.20,446.19 L327.70,446.09 L328.20,446.00 L328.70,445.93 L329.20,445.87 L329.70,445.82 L330.20,445.78 L330.70,445.76 L331.20,445.75 L331.70,445.76 L332.20,445.78 L332.70,445.81 L333.20,445.86 L333.70,445.93 L334.20,446.01 L334.70,446.10 L335.20,446.20 L335.70,446.31 L336.20,446.43 L336.70,446.55 L337.20,446.69 L337.70,446.83 L338.20,446.97 L338.70,447.12 L339.20,447.26 L339.70,447.41 L340.20,447.56 L340.70,447.70 L341.20,447.84 L341.70,447.98 L342.20,448.11 L342.70,448.24 L343.20,448.37 L343.70,448.48 L344.20,448.59 L344.70,448.70 L345.20,448.79 L345.70,448.89 L346.20,448.97 L346.70,449.05 L347.20,449.12 L347.70,449.19 L348.20,449.25 L348.70,449.30 L349.20,449.35 L349.70,449.40 L350.20,449.44 L350.70,449.47 L351.20,449.51 L351.70,449.54 L352.20,449.56 L352.70,449.59 L353.20,449.61 L353.70,449.63 L354.20,449.65 L354.70,449.67 L355.20,449.68 L355.70,449.69 L356.20,449.71 L356.70,449.72 L357.20,449.73 L357.70,449.74 L358.20,449.75 L358.70,449.76 L359.20,449.77 L359.70,449.78 L360.20,449.79 L360.70,449.80 L361.20,449.81 L361.70,449.81 L362.20,449.82 L362.70,449.83 L363.20,449.84 L363.70,449.85 L364.20,449.85 L364.70,449.86 L365.20,449.87 L365.70,449.88 L366.20,449.88 L366.70,449.89 L367.20,449.90 L367.70,449.91 L368.20,449.92 L368.70,449.92 L369.20,449.93 L369.70,449.94 L370.20,449.95 L370.70,449.95 L371.20,449.96 L371.70,449.97 L372.20,449.98 L372.70,449.98 L373.20,449.99 L373.70,450.00 L374.20,450.01 L374.70,450.02 L375.20,450.02 L375.70,450.03 L376.20,450.04 L376.70,450.05 L377.20,450.05 L377.70,450.06 L378.20,450.07 L378.70,450.08 L379.20,450.08 L379.70,450.09 L380.20,450.10 L380.70,450.11 L381.20,450.12 L381.70,450.12 L382.20,450.13 L382.70,450.14 L383.20,450.15 L383.70,450.15 L384.20,450.16 L384.70,450.17 L385.20,450.18 L385.70,450.18 Z" fill="#c8b5ee" opacity="0.8"/>
<path d="M231.20,447.81 L231.70,447.82 L232.20,447.83 L232.70,447.83 L233.20,447.84 L233.70,447.85 L234.20,447.86 L234.70,447.86 L235.20,447.87 L235.70,447.88 L236.20,447.89 L236.70,447.90 L237.20,447.90 L237.70,447.91 L238.20,447.92 L238.70,447.93 L239.20,447.93 L239.70,447.94 L240.20,447.95 L240.70,447.96 L241.20,447.96 L241.70,447.97 L242.20,447.98 L242.70,447.99 L243.20,448.00 L243.70,448.00 L244.20,448.01 L244.70,448.02 L245.20,448.03 L245.70,448.03 L246.20,448.04 L246.70,448.05 L247.20,448.06 L247.70,448.06 L248.20,448.07 L248.70,448.08 L249.20,448.09 L249.70,448.10 L250.20,448.10 L250.70,448.11 L251.20,448.12 L251.70,448.13 L252.20,448.13 L252.70,448.14 L253.20,448.15 L253.70,448.16 L254.20,448.16 L254.70,448.17 L255.20,448.18 L255.70,448.19 L256.20,448.19 L256.70,448.20 L257.20,448.21 L257.70,448.22 L258.20,448.23 L258.70,448.23 L259.20,448.24 L259.70,448.25 L260.20,448.26 L260.70,448.26 L261.20,448.27 L261.70,448.28 L262.20,448.29 L262.70,448.29 L263.20,448.30 L263.70,448.31 L264.20,448.32 L264.70,448.33 L265.20,448.33 L265.70,448.34 L266.20,448.35 L266.70,448.36 L267.20,448.36 L267.70,448.37 L268.20,448.38 L268.70,448.39 L269.20,448.39 L269.70,448.40 L270.20,448.41 L270.70,448.42 L271.20,448.43 L271.70,448.43 L272.20,448.44 L272.70,448.45 L273.20,448.46 L273.70,448.46 L274.20,448.47 L274.70,448.48 L275.20,448.49 L275.70,448.49 L276.20,448.50 L276.70,448.51 L277.20,448.52 L277.70,448.53 L278.20,448.53 L278.70,448.54 L279.20,448.55 L279.70,448.56 L280.20,448.56 L280.70,448.57 L281.20,448.58 L281.70,448.59 L282.20,448.59 L282.70,448.60 L283.20,448.61 L283.70,448.62 L284.20,448.63 L284.70,448.63 L285.20,448.64 L285.70,448.65 L286.20,448.66 L286.70,448.66 L287.20,448.67 L287.70,448.68 L288.20,448.69 L288.70,448.69 L289.20,448.70 L289.70,448.71 L290.20,448.72 L290.70,448.72 L291.20,448.73 L291.70,448.74 L292.20,448.75 L292.70,448.76 L293.20,448.76 L293.70,448.77 L294.20,448.78 L294.70,448.79 L295.20,448.79 L295.70,448.80 L296.20,448.81 L296.70,448.82 L297.20,448.82 L297.70,448.83 L298.20,448.84 L298.70,448.85 L299.20,448.85 L299.70,448.86 L300.20,448.87 L300.70,448.88 L301.20,448.88 L301.70,448.89 L302.20,448.90 L302.70,448.91 L303.20,448.91 L303.70,448.92 L304.20,448.92 L304.70,448.93 L305.20,448.94 L305.70,448.94 L306.20,448.94 L306.70,448.95 L307.20,448.95 L307.70,448.95 L308.20,448.95 L308.70,448.95 L309.20,448.95 L309.70,448.94 L310.20,448.94 L310.70,448.93 L311.20,448.92 L311.70,448.90 L312.20,448.88 L312.70,448.86 L313.20,448.84 L313.70,448.81 L314.20,448.77 L314.70,448.74 L315.20,448.69 L315.70,448.64 L316.20,448.59 L316.70,448.52 L317.20,448.46 L317.70,448.38 L318.20,448.30 L318.70,448.21 L319.20,448.12 L319.70,448.02 L320.20,447.91 L320.70,447.80 L321.20,447.68 L321.70,447.56 L322.20,447.43 L322.70,447.30 L323.20,447.17 L323.70,447.04 L324.20,446.91 L324.70,446.78 L325.20,446.65 L325.70,446.52 L326.20,446.41 L326.70,446.29 L327.20,446.19 L327.70,446.09 L328.20,446.00 L328.70,445.93 L329.20,445.87 L329.70,445.82 L330.20,445.78 L330.70,445.76 L331.20,445.75 L331.70,445.76 L332.20,445.78 L332.70,445.81 L333.20,445.86 L333.70,445.93 L334.20,446.01 L334.70,446.10 L335.20,446.20 L335.70,446.31 L336.20,446.43 L336.70,446.55 L337.20,446.69 L337.70,446.83 L338.20,446.97 L338.70,447.12 L339.20,447.26 L339.70,447.41 L340.20,447.56 L340.70,447.70 L341.20,447.84 L341.70,447.98 L342.20,448.11 L342.70,448.24 L343.20,448.37 L343.70,448.48 L344.20,448.59 L344.70,448.70 L345.20,448.79 L345.70,448.89 L346.20,448.97 L346.70,449.05 L347.20,449.12 L347.70,449.19 L348.20,449.25 L348.70,449.30 L349.20,449.35 L349.70,449.40 L350.20,449.44 L350.70,449.47 L351.20,449.51 L351.70,449.54 L352.20,449.56 L352.70,449.59 L353.20,449.61 L353.70,449.63 L354.20,449.65 L354.70,449.67 L355.20,449.68 L355.70,449.69 L356.20,449.71 L356.70,449.72 L357.20,449.73 L357.70,449.74 L358.20,449.75 L358.70,449.76 L359.20,449.77 L359.70,449.78 L360.20,449.79 L360.70,449.80 L361.20,449.81 L361.70,449.81 L362.20,449.82 L362.70,449.83 L363.20,449.84 L363.70,449.85 L364.20,449.85 L364.70,449.86 L365.20,449.87 L365.70,449.88 L366.20,449.88 L366.70,449.89 L367.20,449.90 L367.70,449.91 L368.20,449.92 L368.70,449.92 L369.20,449.93 L369.70,449.94 L370.20,449.95 L370.70,449.95 L371.20,449.96 L371.70,449.97 L372.20,449.98 L372.70,449.98 L373.20,449.99 L373.70,450.00 L374.20,450.01 L374.70,450.02 L375.20,450.02 L375.70,450.03 L376.20,450.04 L376.70,450.05 L377.20,450.05 L377.70,450.06 L378.20,450.07 L378.70,450.08 L379.20,450.08 L379.70,450.09 L380.20,450.10 L380.70,450.11 L381.20,450.12 L381.70,450.12 L382.20,450.13 L382.70,450.14 L383.20,450.15 L383.70,450.15 L384.20,450.16 L384.70,450.17 L385.20,450.18 L385.70,450.18" fill="none" stroke="#8f74cf" stroke-width="0.9"/>
<path d="M297.70,360.03 L298.20,360.15 L298.70,360.44 L299.20,360.92 L299.70,361.56 L300.20,362.37 L300.70,363.35 L301.20,364.48 L301.70,365.77 L302.20,367.19 L302.70,368.75 L303.20,370.44 L303.70,372.24 L304.20,374.15 L304.70,376.15 L305.20,378.24 L305.70,380.40 L306.20,382.62 L306.70,384.90 L307.20,387.21 L307.70,389.55 L308.20,391.92 L308.70,394.29 L309.20,396.66 L309.70,399.03 L310.20,401.37 L310.70,403.69 L311.20,405.97 L311.70,408.21 L312.20,410.40 L312.70,412.54 L313.20,414.61 L313.70,416.62 L314.20,418.56 L314.70,420.43 L315.20,422.21 L315.70,423.92 L316.20,425.55 L316.70,427.10 L317.20,428.56 L317.70,429.94 L318.20,431.23 L318.70,432.45 L319.20,433.58 L319.70,434.63 L320.20,435.61 L320.70,436.51 L321.20,437.33 L321.70,438.09 L322.20,438.78 L322.70,439.41 L323.20,439.98 L323.70,440.50 L324.20,440.96 L324.70,441.38 L325.20,441.75 L325.70,442.09 L326.20,442.39 L326.70,442.66 L327.20,442.90 L327.70,443.12 L328.20,443.32 L328.70,443.50 L329.20,443.68 L329.70,443.84 L330.20,443.99 L330.70,444.14 L331.20,444.28 L331.70,444.42 L332.20,444.57 L332.70,444.71 L333.20,444.86 L333.70,445.01 L334.20,445.16 L334.70,445.32 L335.20,445.48 L335.70,445.65 L336.20,445.81 L336.70,445.98 L337.20,446.15 L337.70,446.33 L338.20,446.50 L338.70,446.67 L339.20,446.84 L339.70,447.01 L340.20,447.18 L340.70,447.34 L341.20,447.50 L341.70,447.65 L342.20,447.79 L342.70,447.93 L343.20,448.07 L343.70,448.19 L344.20,448.31 L344.70,448.42 L345.20,448.53 L345.70,448.63 L346.20,448.72 L346.70,448.80 L347.20,448.88 L347.70,448.95" fill="none" stroke="#111" stroke-width="1.2"/>
<path d="M231.20,447.68 L231.70,447.68 L232.20,447.69 L232.70,447.69 L233.20,447.70 L233.70,447.70 L234.20,447.71 L234.70,447.71 L235.20,447.72 L235.70,447.72 L236.20,447.73 L236.70,447.74 L237.20,447.74 L237.70,447.75 L238.20,447.75 L238.70,447.76 L239.20,447.76 L239.70,447.77 L240.20,447.77 L240.70,447.77 L241.20,447.78 L241.70,447.78 L242.20,447.79 L242.70,447.79 L243.20,447.80 L243.70,447.80 L244.20,447.80 L244.70,447.81 L245.20,447.81 L245.70,447.81 L246.20,447.82 L246.70,447.82 L247.20,447.82 L247.70,447.83 L248.20,447.83 L248.70,447.83 L249.20,447.83 L249.70,447.83 L250.20,447.83 L250.70,447.83 L251.20,447.83 L251.70,447.83 L252.20,447.83 L252.70,447.83 L253.20,447.82 L253.70,447.82 L254.20,447.81 L254.70,447.81 L255.20,447.80 L255.70,447.78 L256.20,447.77 L256.70,447.75 L257.20,447.73 L257.70,447.71 L258.20,447.69 L258.70,447.65 L259.20,447.62 L259.70,447.58 L260.20,447.53 L260.70,447.47 L261.20,447.41 L261.70,447.34 L262.20,447.26 L262.70,447.17 L263.20,447.06 L263.70,446.95 L264.20,446.82 L264.70,446.67 L265.20,446.50 L265.70,446.32 L266.20,446.11 L266.70,445.88 L267.20,445.62 L267.70,445.33 L268.20,445.02 L268.70,444.67 L269.20,444.29 L269.70,443.87 L270.20,443.41 L270.70,442.90 L271.20,442.35 L271.70,441.75 L272.20,441.10 L272.70,440.39 L273.20,439.63 L273.70,438.81 L274.20,437.92 L274.70,436.97 L275.20,435.95 L275.70,434.86 L276.20,433.70 L276.70,432.46 L277.20,431.15 L277.70,429.77 L278.20,428.30 L278.70,426.76 L279.20,425.15 L279.70,423.45 L280.20,421.69 L280.70,419.84 L281.20,417.93 L281.70,415.95 L282.20,413.91 L282.70,411.80 L283.20,409.64 L283.70,407.43 L284.20,405.17 L284.70,402.88 L285.20,400.56 L285.70,398.21 L286.20,395.85 L286.70,393.48 L287.20,391.11 L287.70,388.76 L288.20,386.43 L288.70,384.13 L289.20,381.88 L289.70,379.68 L290.20,377.55 L290.70,375.50 L291.20,373.53 L291.70,371.66 L292.20,369.89 L292.70,368.25 L293.20,366.73 L293.70,365.35 L294.20,364.11 L294.70,363.03 L295.20,362.10 L295.70,361.34 L296.20,360.75 L296.70,360.34 L297.20,360.10 L297.70,360.03" fill="none" stroke="#5faa4c" stroke-width="1.1"/>
<text x="0" y="0" font-size="7.6" font-weight="bold" text-anchor="middle" fill="#111" stroke="#111" stroke-width="0.12" transform="translate(297.7 356.9) scale(1 1.08)" >C-F</text>
<text x="0" y="0" font-size="7.6" font-weight="bold" text-anchor="middle" fill="#111" stroke="#111" stroke-width="0.12" transform="translate(331.8 442.2) scale(1 1.08)" >LiF</text>
<rect x="421.2" y="330.8" width="159.8" height="128.3" fill="none" stroke="#111" stroke-width="1.7"/>
<line x1="421.20" y1="459.1" x2="421.20" y2="462.1" stroke="#161616" stroke-width="1.0"/>
<line x1="474.47" y1="459.1" x2="474.47" y2="462.1" stroke="#161616" stroke-width="1.0"/>
<line x1="527.74" y1="459.1" x2="527.74" y2="462.1" stroke="#161616" stroke-width="1.0"/>
<line x1="581.01" y1="459.1" x2="581.01" y2="462.1" stroke="#161616" stroke-width="1.0"/>
<line x1="447.83" y1="459.1" x2="447.83" y2="460.70000000000005" stroke="#161616" stroke-width="1.0"/>
<line x1="501.11" y1="459.1" x2="501.11" y2="460.70000000000005" stroke="#161616" stroke-width="1.0"/>
<line x1="554.38" y1="459.1" x2="554.38" y2="460.70000000000005" stroke="#161616" stroke-width="1.0"/>
<text x="0" y="0" font-size="7.9" font-weight="bold" text-anchor="middle" fill="#111" stroke="#111" stroke-width="0.1" transform="translate(420.59999999999997 469.6) scale(1 1.18)" >800</text>
<text x="0" y="0" font-size="7.9" font-weight="bold" text-anchor="middle" fill="#111" stroke="#111" stroke-width="0.1" transform="translate(473.86999999999995 469.6) scale(1 1.18)" >1200</text>
<text x="0" y="0" font-size="7.9" font-weight="bold" text-anchor="middle" fill="#111" stroke="#111" stroke-width="0.1" transform="translate(527.14 469.6) scale(1 1.18)" >1600</text>
<text x="0" y="0" font-size="7.9" font-weight="bold" text-anchor="middle" fill="#111" stroke="#111" stroke-width="0.1" transform="translate(580.41 469.6) scale(1 1.18)" >2000</text>
<text x="0" y="0" font-size="8.5" font-weight="bold" text-anchor="middle" fill="#111" stroke="#111" stroke-width="0.12" transform="translate(501.5 481.5) scale(1 1.08)" >Raman shift (cm<tspan dy="-2.5" font-size="5">-1</tspan><tspan dy="2.5">)</tspan></text>
<text x="0" y="0" font-size="8.1" font-weight="bold" text-anchor="middle" fill="#111" stroke="#111" stroke-width="0.12" transform="translate(409.3 396.4) rotate(-90) scale(1 1.08)" >Intensity (a.u.)</text>
<path d="M422.00,458.40 C423.60,458.27 428.05,457.98 431.60,457.60 C435.15,457.22 439.75,456.73 443.30,456.10 C446.85,455.47 449.68,454.77 452.90,453.80 C456.12,452.83 459.68,452.02 462.60,450.30 C465.52,448.58 467.82,445.50 470.40,443.50 C472.98,441.50 475.52,439.92 478.10,438.30 C480.68,436.68 483.80,435.20 485.90,433.80 C488.00,432.40 489.08,431.10 490.70,429.90 C492.32,428.70 493.58,426.75 495.60,426.60 C497.62,426.45 500.00,427.97 502.80,429.00 C505.60,430.03 509.82,433.13 512.40,432.80 C514.98,432.47 516.52,429.58 518.30,427.00 C520.08,424.42 521.75,419.57 523.10,417.30 C524.45,415.03 525.27,413.07 526.40,413.40 C527.53,413.73 528.67,415.10 529.90,419.30 C531.13,423.50 532.52,433.92 533.80,438.60 C535.08,443.28 535.67,445.13 537.60,447.40 C539.53,449.67 541.83,451.08 545.40,452.20 C548.97,453.32 553.15,453.55 559.00,454.10 C564.85,454.65 576.92,455.27 580.50,455.50" fill="none" stroke="#2fb473" stroke-width="1.5"/>
<path d="M422.00,444.50 C422.97,444.55 426.20,445.03 427.80,444.80 C429.40,444.57 430.00,443.55 431.60,443.10 C433.20,442.65 435.45,442.27 437.40,442.10 C439.35,441.93 441.35,442.73 443.30,442.10 C445.25,441.47 447.00,439.52 449.10,438.30 C451.20,437.08 453.80,436.35 455.90,434.80 C458.00,433.25 459.62,431.27 461.70,429.00 C463.78,426.73 465.98,424.28 468.40,421.20 C470.82,418.12 473.60,413.88 476.20,410.50 C478.80,407.12 481.90,403.80 484.00,400.90 C486.10,398.00 487.35,395.70 488.80,393.10 C490.25,390.50 491.57,386.98 492.70,385.30 C493.83,383.62 494.25,382.83 495.60,383.00 C496.95,383.17 498.97,384.78 500.80,386.30 C502.63,387.82 504.82,390.65 506.60,392.10 C508.38,393.55 509.88,395.32 511.50,395.00 C513.12,394.68 514.68,392.62 516.30,390.20 C517.92,387.78 519.65,383.47 521.20,380.50 C522.75,377.53 524.32,373.05 525.60,372.40 C526.88,371.75 527.87,372.98 528.90,376.60 C529.93,380.22 530.83,388.60 531.80,394.10 C532.77,399.60 533.40,404.12 534.70,409.60 C536.00,415.08 537.50,422.80 539.60,427.00 C541.70,431.20 544.40,432.53 547.30,434.80 C550.20,437.07 554.08,439.70 557.00,440.60 C559.92,441.50 561.88,440.20 564.80,440.20 C567.72,440.20 571.88,440.15 574.50,440.60 C577.12,441.05 579.50,442.52 580.50,442.90" fill="none" stroke="#7b48d4" stroke-width="1.5"/>
<line x1="426" y1="341.2" x2="439" y2="341.2" stroke="#7b48d4" stroke-width="1.6"/>
<line x1="426" y1="351.6" x2="439" y2="351.6" stroke="#2fb473" stroke-width="1.6"/>
<text x="0" y="0" font-size="7.6" font-weight="bold" text-anchor="start" fill="#111" stroke="#111" stroke-width="0.12" transform="translate(443.6 344.3) scale(1 1.08)" >TF-GPE</text>
<text x="0" y="0" font-size="7.6" font-weight="bold" text-anchor="start" fill="#111" stroke="#111" stroke-width="0.12" transform="translate(443.6 354.7) scale(1 1.08)" >EE-GPE</text>
<text x="0" y="0" font-size="7.9" font-weight="bold" text-anchor="middle" fill="#111" stroke="#111" stroke-width="0.12" transform="translate(472.0 393.6) scale(1 1.08)" >D band</text>
<text x="0" y="0" font-size="7.9" font-weight="bold" text-anchor="middle" fill="#111" stroke="#111" stroke-width="0.12" transform="translate(548.8 393.6) scale(1 1.08)" >G band</text>
<defs><filter id="soft" x="-20%" y="-20%" width="140%" height="140%"><feGaussianBlur stdDeviation="0.45"/></filter><filter id="blur1" x="-50%" y="-50%" width="200%" height="200%"><feGaussianBlur stdDeviation="1.0"/></filter><filter id="blur2" x="-50%" y="-50%" width="200%" height="200%"><feGaussianBlur stdDeviation="1.8"/></filter><radialGradient id="flameW" cx="0.5" cy="0.6" r="0.5"><stop offset="0" stop-color="#fffbe8"/><stop offset="0.45" stop-color="#ffe9a8"/><stop offset="0.75" stop-color="#f7a25a"/><stop offset="1" stop-color="#f08040" stop-opacity="0"/></radialGradient><radialGradient id="flameR" cx="0.5" cy="0.5" r="0.5"><stop offset="0" stop-color="#fff3b0"/><stop offset="0.35" stop-color="#ffb23c"/><stop offset="0.7" stop-color="#f0402a"/><stop offset="1" stop-color="#e83a4a" stop-opacity="0"/></radialGradient><radialGradient id="glowP" cx="0.5" cy="0.5" r="0.5"><stop offset="0" stop-color="#f27a7a" stop-opacity="0.75"/><stop offset="1" stop-color="#e86a80" stop-opacity="0"/></radialGradient><clipPath id="clipA"><rect x="24" y="21" width="175.5" height="125.6"/></clipPath><clipPath id="c11"><rect x="24" y="21" width="58.6" height="61.8"/></clipPath><clipPath id="c12"><rect x="82.6" y="21" width="58.4" height="61.8"/></clipPath><clipPath id="c13"><rect x="141" y="21" width="58.5" height="61.8"/></clipPath><clipPath id="c21"><rect x="24" y="85" width="58.6" height="61.6"/></clipPath><clipPath id="c22"><rect x="82.6" y="85" width="58.4" height="61.6"/></clipPath><clipPath id="c23"><rect x="141" y="85" width="58.5" height="61.6"/></clipPath></defs>
<g clip-path="url(#clipA)">
<rect x="24" y="21" width="58.89999999999999" height="61.8" fill="#a9a19b"/>
<rect x="82.6" y="21" width="58.7" height="61.8" fill="#a59f9a"/>
<rect x="141" y="21" width="58.8" height="61.8" fill="#a09e9a"/>
<rect x="24" y="85" width="58.89999999999999" height="61.599999999999994" fill="#a09994"/>
<rect x="82.6" y="85" width="58.7" height="61.599999999999994" fill="#9e9894"/>
<rect x="141" y="85" width="58.8" height="61.599999999999994" fill="#959390"/>
<g filter="url(#soft)">
<defs><linearGradient id="tubeg" x1="0" y1="0" x2="0" y2="1"><stop offset="0" stop-color="#5a4c40"/><stop offset="0.18" stop-color="#c9b89c"/><stop offset="0.32" stop-color="#9a8a70"/><stop offset="0.5" stop-color="#3a2e26"/><stop offset="1" stop-color="#1c1614"/></linearGradient><filter id="blur05" x="-50%" y="-50%" width="200%" height="200%"><feGaussianBlur stdDeviation="0.55"/></filter></defs>
<text x="0" y="0" font-size="7.6" font-weight="normal" text-anchor="start" fill="#f6f3ef" stroke="#f6f3ef" stroke-width="0.35" transform="translate(26.8 30.0) scale(1 1.08)" >0 s</text>
<text x="0" y="0" font-size="7.6" font-weight="normal" text-anchor="start" fill="#f6f3ef" stroke="#f6f3ef" stroke-width="0.35" transform="translate(85.3 30.0) scale(1 1.08)" >5 s</text>
<text x="0" y="0" font-size="7.6" font-weight="normal" text-anchor="start" fill="#f6f3ef" stroke="#f6f3ef" stroke-width="0.35" transform="translate(26.8 94.1) scale(1 1.08)" >0 s</text>
<text x="0" y="0" font-size="7.6" font-weight="normal" text-anchor="start" fill="#f6f3ef" stroke="#f6f3ef" stroke-width="0.35" transform="translate(85.3 94.1) scale(1 1.08)" >5 s</text>
<text x="0" y="0" font-size="7.5" font-weight="normal" text-anchor="start" fill="#f6f3ef" stroke="#f6f3ef" stroke-width="0.35" transform="translate(143.8 30.1) scale(1 1.08)" >Removal</text>
<text x="0" y="0" font-size="7.5" font-weight="normal" text-anchor="start" fill="#f6f3ef" stroke="#f6f3ef" stroke-width="0.35" transform="translate(143.8 94.2) scale(1 1.08)" >Removal</text>
<text x="0" y="0" font-size="7.5" font-weight="normal" text-anchor="end" fill="#f6f3ef" stroke="#f6f3ef" stroke-width="0.35" transform="translate(197.4 79.4) scale(1 1.08)" >TF-GPE</text>
<text x="0" y="0" font-size="7.6" font-weight="normal" text-anchor="end" fill="#f6f3ef" stroke="#f6f3ef" stroke-width="0.35" transform="translate(198.2 144.0) scale(1 1.08)" >EE-GPE</text>
<g clip-path="url(#c11)">
<g transform="translate(40.6 65.85) rotate(-36.87)"><rect x="-34" y="-3.9" width="34" height="7.8" fill="url(#tubeg)"/><rect x="-1.6" y="-3.9" width="1.6" height="7.8" fill="#3a1e16"/><ellipse cx="-2.2" cy="-1.404" rx="1.3" ry="1.6" fill="#d04a30" opacity="0.9"/><rect x="-10" y="-0.624" width="2" height="1.5" fill="#120e0c" opacity="0.8"/><rect x="-16" y="0.39" width="2.5" height="1.5" fill="#120e0c" opacity="0.8"/></g>
<path d="M46,41.5 L55.5,39.5 L57,46.5 L47.5,48.5 Z" fill="#c8c0b8" opacity="0.35" stroke="#e0a080" stroke-width="0.4"/>
<path d="M51.75,42.37 C52.34,42.00 53.69,40.82 55.25,40.14 C56.81,39.47 59.19,38.62 61.12,38.34 C63.05,38.06 65.13,38.10 66.84,38.49 C68.55,38.87 70.09,39.63 71.38,40.63 C72.68,41.62 72.91,42.50 74.62,44.45 C76.34,46.40 80.49,51.02 81.66,52.34 L85.34,48.66 C84.01,47.48 79.50,43.23 77.38,41.55 C75.26,39.87 74.32,39.38 72.62,38.57 C70.91,37.77 69.12,37.00 67.16,36.71 C65.20,36.43 62.95,36.47 60.88,36.86 C58.81,37.25 56.35,38.26 54.75,39.06 C53.14,39.85 51.83,41.20 51.25,41.63 Z" fill="#231e1c"/>
<path d="M44.3,42.8 C46.8,45 50.2,50 50.2,55 C50.2,58.5 49.5,60.2 48,60 C46.5,59.6 45,58.5 43.6,57.8 C43.3,52 43.4,47 44.3,42.8 Z" fill="#f2a060" opacity="0.7" filter="url(#blur2)"/>
<path d="M44.3,42.8 C46.8,45 50.2,50 50.2,55 C50.2,58.5 49.5,60.2 48,60 C46.5,59.6 45,58.5 43.6,57.8 C43.3,52 43.4,47 44.3,42.8 Z" fill="#f2a060" filter="url(#blur1)"/>
<path d="M44.8,45 C46.6,47 48.8,51 48.8,55 C48.8,57.5 48,58.5 47,58.2 C46,57.8 45,57.2 44.4,56.8 C44.2,52 44.3,48 44.8,45 Z" fill="#fff8e0" filter="url(#blur05)"/>
</g>
<g clip-path="url(#c12)">
<g transform="translate(104.85 66.75) rotate(-36.87)"><rect x="-34" y="-3.9" width="34" height="7.8" fill="url(#tubeg)"/><rect x="-1.6" y="-3.9" width="1.6" height="7.8" fill="#3a1e16"/><ellipse cx="-2.2" cy="-1.404" rx="1.3" ry="1.6" fill="#d04a30" opacity="0.9"/><rect x="-10" y="-0.624" width="2" height="1.5" fill="#120e0c" opacity="0.8"/><rect x="-16" y="0.39" width="2.5" height="1.5" fill="#120e0c" opacity="0.8"/></g>
<path d="M104,45.5 L112.5,43.5 L113.8,50 L105.2,52 Z" fill="#c49070" opacity="0.5"/>
<path d="M104.75,46.04 C105.66,45.55 107.91,43.85 110.21,43.11 C112.51,42.38 116.31,41.71 118.56,41.60 C120.80,41.49 122.08,41.84 123.69,42.45 C125.31,43.06 126.74,43.99 128.25,45.27 C129.77,46.54 130.81,48.27 132.77,50.07 C134.72,51.88 138.76,55.09 139.96,56.10 L143.04,51.90 C141.74,51.07 137.45,48.39 135.23,46.93 C133.02,45.46 131.57,44.20 129.75,43.13 C127.92,42.07 126.19,41.07 124.31,40.55 C122.42,40.03 120.86,39.78 118.44,40.00 C116.02,40.22 112.15,41.02 109.79,41.89 C107.42,42.75 105.18,44.62 104.25,45.16 Z" fill="#231e1c"/>
<path d="M106,49 C109,48 112,48.5 113,50 C113.5,53 115,57 115,60.5 C113,62 108,62.5 104.5,61.5 C104.8,57 105.5,52 106,49 Z" fill="#f2a060" opacity="0.7" filter="url(#blur2)"/>
<path d="M106,49 C109,48 112,48.5 113,50 C113.5,53 115,57 115,60.5 C113,62 108,62.5 104.5,61.5 C104.8,57 105.5,52 106,49 Z" fill="#f2a060" filter="url(#blur1)"/>
<path d="M106.8,51 C108.5,50.5 111,51 112,52 C112.6,55 113.6,58 113.6,60 C112,61 108.5,61.2 105.8,60.6 C106,57 106.4,53.5 106.8,51 Z" fill="#fff8e0" filter="url(#blur05)"/>
<ellipse cx="108.6" cy="49.5" rx="3.5" ry="2" fill="#f8b030" filter="url(#blur05)"/>
</g>
<g clip-path="url(#c13)">
<g transform="translate(160.7 66.45) rotate(-36.87)"><rect x="-34" y="-3.9" width="34" height="7.8" fill="url(#tubeg)"/><rect x="-1.6" y="-3.9" width="1.6" height="7.8" fill="#3a1e16"/><ellipse cx="-2.2" cy="-1.404" rx="1.3" ry="1.6" fill="#d04a30" opacity="0.9"/><rect x="-10" y="-0.624" width="2" height="1.5" fill="#120e0c" opacity="0.8"/><rect x="-16" y="0.39" width="2.5" height="1.5" fill="#120e0c" opacity="0.8"/></g>
<path d="M171.29,46.61 C171.96,46.18 173.94,44.65 175.31,44.03 C176.68,43.41 178.12,42.84 179.49,42.90 C180.86,42.96 182.27,43.67 183.56,44.40 C184.85,45.12 185.87,46.03 187.24,47.25 C188.61,48.47 189.95,50.13 191.79,51.72 C193.63,53.31 197.20,55.95 198.28,56.79 L201.32,52.21 C200.13,51.55 196.30,49.46 194.21,48.28 C192.12,47.11 190.39,46.09 188.76,45.15 C187.13,44.20 185.98,43.28 184.44,42.60 C182.90,41.93 181.14,41.07 179.51,41.10 C177.88,41.13 176.16,41.99 174.69,42.77 C173.22,43.55 171.38,45.29 170.71,45.79 Z" fill="#231e1c"/>
<path d="M161.5,47.5 L170.5,45.2 L172.8,51.8 L163,54 Z" fill="#9c948c"/>
<path d="M161.5,47.5 L170.5,45.2 L171,47 L162,49.2 Z" fill="#c2bab0"/>
</g>
<g clip-path="url(#c21)">
<g transform="translate(42.6 131.7) rotate(-36.87)"><rect x="-34" y="-3.9" width="34" height="7.8" fill="url(#tubeg)"/><rect x="-1.6" y="-3.9" width="1.6" height="7.8" fill="#3a1e16"/><ellipse cx="-2.2" cy="-1.404" rx="1.3" ry="1.6" fill="#d04a30" opacity="0.9"/><rect x="-10" y="-0.624" width="2" height="1.5" fill="#120e0c" opacity="0.8"/><rect x="-16" y="0.39" width="2.5" height="1.5" fill="#120e0c" opacity="0.8"/></g>
<path d="M47.26,108.97 C47.93,108.54 49.80,106.99 51.26,106.39 C52.72,105.80 54.44,105.39 56.02,105.40 C57.59,105.41 59.31,105.90 60.70,106.45 C62.09,107.00 62.98,107.49 64.34,108.68 C65.70,109.88 67.16,111.90 68.86,113.62 C70.55,115.35 72.44,117.06 74.50,119.04 C76.56,121.03 80.09,124.44 81.21,125.52 L84.79,121.48 C83.58,120.49 79.78,117.31 77.50,115.56 C75.23,113.81 73.12,112.42 71.14,110.98 C69.17,109.54 67.30,107.95 65.66,106.92 C64.02,105.88 62.91,105.27 61.30,104.75 C59.69,104.23 57.74,103.72 55.98,103.80 C54.22,103.88 52.28,104.47 50.74,105.21 C49.20,105.94 47.41,107.73 46.74,108.23 Z" fill="#231e1c"/>
<path d="M47.5,110.5 C49.5,110.5 51.5,110.8 53,111.5 C52.5,116 51.5,120.5 50.5,124 C49,124.5 47.5,124.5 45.5,123.8 C46,119 46.8,114 47.5,110.5 Z" fill="#f2a060" opacity="0.7" filter="url(#blur2)"/>
<path d="M47.5,110.5 C49.5,110.5 51.5,110.8 53,111.5 C52.5,116 51.5,120.5 50.5,124 C49,124.5 47.5,124.5 45.5,123.8 C46,119 46.8,114 47.5,110.5 Z" fill="#f2a060" filter="url(#blur1)"/>
<path d="M48.2,112 C49.5,112 50.8,112.3 51.8,112.8 C51.4,116.5 50.7,120 50,122.8 C49,123.2 48,123.2 46.8,122.8 C47.2,119 47.6,115 48.2,112 Z" fill="#fff8e0" filter="url(#blur05)"/>
</g>
<g clip-path="url(#c22)">
<g transform="translate(105.4 128.4) rotate(-36.87)"><rect x="-34" y="-3.9" width="34" height="7.8" fill="url(#tubeg)"/><rect x="-1.6" y="-3.9" width="1.6" height="7.8" fill="#3a1e16"/><ellipse cx="-2.2" cy="-1.404" rx="1.3" ry="1.6" fill="#d04a30" opacity="0.9"/><rect x="-10" y="-0.624" width="2" height="1.5" fill="#120e0c" opacity="0.8"/><rect x="-16" y="0.39" width="2.5" height="1.5" fill="#120e0c" opacity="0.8"/></g>
<path d="M112.3,94 C111,99 109,103 108.5,107 L115.5,107 C115,102 113.5,98 112.3,94 Z" fill="#f5c050" opacity="0.7" filter="url(#blur2)"/>
<path d="M105.3,106.7 L112.3,94.5 L118,107.6 L114.3,114.9 L107,112.4 Z" fill="#ec8a8a" opacity="0.55" filter="url(#blur1)"/>
<path d="M112.3,94 C111,99 109,103 108.5,107 L115.5,107 C115,102 113.5,98 112.3,94 Z" fill="#f5c050" filter="url(#blur1)"/>
<path d="M107.8,108.8 L115.5,108.0 L115.5,114.9 L108.2,115 Z" fill="#c04a38" filter="url(#blur05)"/>
<path d="M108.85,110.03 C109.42,109.72 111.06,108.64 112.25,108.15 C113.44,107.65 114.61,107.18 115.99,107.04 C117.37,106.91 119.16,106.84 120.52,107.36 C121.89,107.88 122.95,109.10 124.19,110.17 C125.44,111.23 126.61,112.41 128.00,113.75 C129.39,115.08 130.58,116.23 132.51,118.19 C134.45,120.15 138.44,124.29 139.62,125.51 L143.38,121.49 C142.06,120.38 137.72,116.52 135.49,114.81 C133.26,113.10 131.65,112.35 130.00,111.25 C128.35,110.16 127.10,109.17 125.61,108.23 C124.12,107.30 122.71,106.09 121.08,105.64 C119.44,105.20 117.36,105.32 115.81,105.56 C114.25,105.79 113.00,106.45 111.75,107.05 C110.51,107.66 108.91,108.82 108.35,109.17 Z" fill="#231e1c"/>
<ellipse cx="109.8" cy="114.1" rx="1.8" ry="1.4" fill="#f8d040" filter="url(#blur05)"/>
<path d="M110.2,115 C112.5,115 113.3,118 113.3,121 C113.3,124 112,126 110.2,126 C108.4,126 107.2,124 107.2,121 C107.2,118 108,115 110.2,115 Z" fill="#f2a060" opacity="0.7" filter="url(#blur2)"/>
<path d="M110.2,115 C112.5,115 113.3,118 113.3,121 C113.3,124 112,126 110.2,126 C108.4,126 107.2,124 107.2,121 C107.2,118 108,115 110.2,115 Z" fill="#f2a060" filter="url(#blur1)"/>
<path d="M110.2,116.5 C111.8,116.5 112.2,119 112.2,121 C112.2,123.2 111.4,124.6 110.2,124.6 C109,124.6 108.3,123.2 108.3,121 C108.3,119 108.8,116.5 110.2,116.5 Z" fill="#fff8e0" filter="url(#blur05)"/>
</g>
<g clip-path="url(#c23)">
<g transform="translate(159.9 135.2) rotate(-36.87)"><rect x="-34" y="-3.9" width="34" height="7.8" fill="url(#tubeg)"/><rect x="-1.6" y="-3.9" width="1.6" height="7.8" fill="#3a1e16"/><ellipse cx="-2.2" cy="-1.404" rx="1.3" ry="1.6" fill="#d04a30" opacity="0.9"/><rect x="-10" y="-0.624" width="2" height="1.5" fill="#120e0c" opacity="0.8"/><rect x="-16" y="0.39" width="2.5" height="1.5" fill="#120e0c" opacity="0.8"/></g>
<path d="M177.21,117.53 C178.07,118.12 180.57,119.84 182.38,121.09 C184.20,122.33 186.36,123.77 188.11,125.01 C189.86,126.24 191.13,127.38 192.88,128.51 C194.63,129.64 197.65,131.26 198.61,131.81 L200.99,127.19 C200.01,126.74 196.97,125.36 195.12,124.49 C193.27,123.62 191.81,122.92 189.89,121.99 C187.97,121.06 185.63,119.83 183.62,118.91 C181.60,117.99 178.76,116.88 177.79,116.47 Z" fill="#231e1c"/>
<ellipse cx="171" cy="116" rx="11" ry="11" fill="url(#glowP)"/>
<path d="M170.3,94 C171.5,100 174,104 174.5,109 C172,110 170,110.5 168.5,111 C170,106 170.5,100 170.3,94 Z" fill="#f2a898" opacity="0.85" filter="url(#blur05)"/>
<path d="M168.5,108 C171,107.5 174,108.5 176,110.5 C178.5,113 179,116.5 177.5,119.5 C176,122.5 174.5,125 170,125.5 C166.5,126 163.5,124 163.3,121 C163,117.5 165,111 168.5,108 Z" fill="#f59a3a" filter="url(#blur1)"/>
<path d="M169.5,110 C172,110 174.5,111.5 175.8,113.5 C177,116 176.5,118.5 175,120.5 C173,122.5 170,122.5 167.5,121.5 C166,120 166.5,115 169.5,110 Z" fill="#fff0a8" filter="url(#blur05)"/>
<path d="M165.5,121 C168,120 172,119.5 175,120.5 C174.5,123 172.5,125 169.5,125.3 C167,125.5 165.5,123.5 165.5,121 Z" fill="#e0281e" filter="url(#blur05)"/>
<ellipse cx="171" cy="114.5" rx="2.5" ry="3.5" fill="#ffffff" opacity="0.8" filter="url(#blur05)"/>
</g>
</g></g>
<defs><clipPath id="clipD"><rect x="24" y="173" width="173" height="130.2"/></clipPath><clipPath id="clipE"><rect x="217" y="173" width="175" height="130.2"/></clipPath><filter id="noiseD" x="0" y="0" width="100%" height="100%" color-interpolation-filters="sRGB"><feTurbulence type="fractalNoise" baseFrequency="0.38" numOctaves="2" seed="11" result="n"/><feColorMatrix in="n" type="matrix" values="1 0 0 0 0  1 0 0 0 0  1 0 0 0 0  0 0 0 0 1"/><feComponentTransfer><feFuncR type="linear" slope="1.2" intercept="-0.1"/><feFuncG type="linear" slope="1.2" intercept="-0.1"/><feFuncB type="linear" slope="1.2" intercept="-0.1"/></feComponentTransfer><feGaussianBlur stdDeviation="0.35"/></filter><filter id="plateD" x="0" y="0" width="100%" height="100%" color-interpolation-filters="sRGB"><feTurbulence type="fractalNoise" baseFrequency="0.06" numOctaves="2" seed="21" result="n"/><feColorMatrix in="n" type="matrix" values="1 0 0 0 0  1 0 0 0 0  1 0 0 0 0  0 0 0 0 1"/><feComponentTransfer><feFuncR type="linear" slope="1.6" intercept="-0.3"/><feFuncG type="linear" slope="1.6" intercept="-0.3"/><feFuncB type="linear" slope="1.6" intercept="-0.3"/></feComponentTransfer></filter><filter id="noiseE" x="0" y="0" width="100%" height="100%" color-interpolation-filters="sRGB"><feTurbulence type="fractalNoise" baseFrequency="0.3" numOctaves="2" seed="5" result="n"/><feColorMatrix in="n" type="matrix" values="1 0 0 0 0  1 0 0 0 0  1 0 0 0 0  0 0 0 0 1"/><feComponentTransfer><feFuncR type="linear" slope="2.1" intercept="-0.62"/><feFuncG type="linear" slope="2.1" intercept="-0.62"/><feFuncB type="linear" slope="2.1" intercept="-0.62"/></feComponentTransfer><feGaussianBlur stdDeviation="0.7"/></filter><filter id="crackblur" x="-5%" y="-5%" width="110%" height="110%"><feGaussianBlur stdDeviation="0.6"/></filter><filter id="bigblur" x="-30%" y="-30%" width="160%" height="160%"><feGaussianBlur stdDeviation="6"/></filter><linearGradient id="edsg" x1="0" y1="0" x2="1" y2="1"><stop offset="0" stop-color="#1d4679"/><stop offset="1" stop-color="#2a5c93"/></linearGradient></defs>
<g clip-path="url(#clipD)">
<rect x="24" y="173" width="173" height="130.2" fill="#747474"/>
<rect x="24" y="173" width="173" height="130.2" filter="url(#plateD)" opacity="0.15"/>
<rect x="24" y="173" width="173" height="130.2" filter="url(#noiseD)" opacity="0.32"/>
<path d="M191.41,172.58 C191.08,172.45 190.03,171.67 189.47,171.79 C188.91,171.92 188.29,173.08 188.05,173.33 M92.93,252.74 C92.66,252.35 92.13,250.93 91.34,250.43 C90.55,249.94 88.85,250.40 88.19,249.77 C87.53,249.14 87.89,247.44 87.37,246.66 C86.85,245.87 85.76,245.70 85.10,245.07 C84.43,244.45 84.04,243.54 83.37,242.91 C82.70,242.29 81.81,241.91 81.08,241.35 C80.36,240.79 79.35,239.85 79.01,239.55 M92.21,255.75 C91.69,255.79 90.14,256.05 89.11,255.98 C88.09,255.90 87.09,255.22 86.06,255.29 C85.03,255.36 83.96,256.42 82.93,256.41 C81.90,256.39 80.41,255.39 79.90,255.19 M79.01,239.55 C78.86,239.63 78.44,239.91 78.13,240.00 C77.82,240.09 77.31,240.06 77.15,240.08 M79.90,255.19 C80.00,254.74 80.79,253.29 80.50,252.48 C80.20,251.67 78.64,251.08 78.13,250.31 C77.62,249.53 77.60,248.67 77.44,247.83 C77.28,246.99 77.26,246.13 77.17,245.28 C77.08,244.43 76.89,243.59 76.88,242.73 C76.88,241.86 77.10,240.52 77.15,240.08 M167.13,188.38 C167.26,187.97 167.67,186.74 167.92,185.92 C168.16,185.09 168.39,184.26 168.58,183.42 C168.78,182.58 169.08,181.77 169.11,180.89 C169.14,180.00 168.54,178.94 168.74,178.11 C168.94,177.27 169.90,176.64 170.32,175.86 C170.74,175.09 171.10,173.85 171.26,173.45 M167.13,188.38 C167.59,188.44 169.02,188.86 169.92,188.76 C170.82,188.66 171.66,188.16 172.52,187.79 C173.38,187.42 174.16,186.51 175.07,186.52 C175.99,186.53 177.09,187.90 178.00,187.86 C178.90,187.82 179.64,186.59 180.51,186.30 C181.38,186.01 182.77,186.14 183.22,186.10 M171.26,173.45 C171.70,173.36 173.03,172.94 173.90,172.94 C174.77,172.95 175.61,173.33 176.47,173.45 C177.33,173.58 178.19,173.61 179.05,173.70 C179.91,173.80 180.76,174.09 181.63,174.03 C182.51,173.97 183.43,173.24 184.29,173.35 C185.15,173.46 186.37,174.48 186.79,174.70 M183.22,186.10 C183.24,185.59 183.02,183.95 183.36,183.02 C183.70,182.08 184.77,181.37 185.24,180.48 C185.71,179.58 185.91,178.60 186.17,177.64 C186.43,176.68 186.69,175.19 186.79,174.70 M175.73,155.61 C175.58,156.06 175.19,157.43 174.82,158.28 C174.44,159.13 174.08,159.98 173.46,160.70 C172.85,161.42 171.63,161.79 171.14,162.58 C170.66,163.37 170.92,164.57 170.56,165.43 C170.20,166.29 169.24,167.34 168.98,167.72 M188.05,173.33 C188.09,173.58 188.49,174.58 188.28,174.81 C188.07,175.04 187.04,174.72 186.79,174.70 M169.02,299.41 C169.60,299.45 171.39,299.43 172.53,299.68 C173.66,299.93 175.28,300.71 175.82,300.92 M169.02,299.41 C168.46,299.55 166.57,299.66 165.68,300.28 C164.80,300.91 164.52,302.42 163.73,303.19 C162.94,303.95 161.42,304.60 160.96,304.88 M160.96,304.88 C161.03,305.31 161.48,306.57 161.38,307.44 C161.29,308.31 160.45,309.24 160.40,310.11 C160.35,310.98 160.84,311.80 161.08,312.64 C161.33,313.48 161.55,314.33 161.87,315.16 C162.20,316.00 162.92,316.80 163.04,317.66 C163.16,318.51 162.68,319.41 162.59,320.28 C162.50,321.15 162.40,322.03 162.50,322.88 C162.61,323.73 163.16,324.55 163.21,325.41 C163.27,326.27 162.73,327.18 162.83,328.03 C162.93,328.88 163.74,329.68 163.82,330.54 C163.91,331.39 163.42,332.30 163.36,333.16 C163.31,334.03 163.50,334.88 163.50,335.74 C163.50,336.61 163.38,337.48 163.37,338.34 C163.35,339.21 163.36,340.07 163.41,340.93 C163.46,341.79 163.47,342.65 163.67,343.50 C163.87,344.34 164.43,345.16 164.62,346.00 C164.80,346.85 164.86,347.71 164.76,348.58 C164.65,349.45 163.87,350.38 163.98,351.24 C164.09,352.09 165.29,352.85 165.41,353.71 C165.54,354.56 164.72,355.49 164.73,356.35 C164.75,357.21 165.39,358.45 165.52,358.87 M175.82,300.92 C175.58,301.31 174.54,302.43 174.37,303.26 C174.20,304.10 174.72,305.06 174.81,305.94 C174.91,306.82 175.12,307.73 174.94,308.56 C174.76,309.40 174.04,310.14 173.74,310.95 C173.44,311.76 173.26,312.60 173.15,313.44 C173.04,314.29 173.09,315.16 173.07,316.03 C173.06,316.89 173.18,317.78 173.06,318.63 C172.94,319.47 172.39,320.24 172.35,321.10 C172.30,321.96 172.87,322.92 172.78,323.77 C172.70,324.63 172.01,325.37 171.84,326.21 C171.66,327.04 172.03,327.97 171.74,328.79 C171.44,329.60 170.53,330.31 170.06,331.09 C169.59,331.87 168.86,332.61 168.92,333.48 C168.97,334.36 170.15,335.44 170.36,336.34 C170.58,337.25 170.60,338.12 170.22,338.92 C169.84,339.71 168.36,340.32 168.09,341.14 C167.81,341.95 168.61,342.96 168.55,343.82 C168.50,344.67 167.78,345.41 167.75,346.27 C167.71,347.13 168.37,348.12 168.35,348.98 C168.33,349.84 168.03,350.66 167.63,351.45 C167.23,352.25 166.27,352.94 165.96,353.75 C165.64,354.56 165.79,355.46 165.72,356.31 C165.65,357.16 165.55,358.45 165.52,358.87 M199.14,178.68 C198.98,179.19 198.08,180.72 198.20,181.70 C198.31,182.68 199.57,183.60 199.81,184.57 C200.05,185.54 199.67,187.05 199.64,187.54 M199.64,187.54 C199.90,187.88 200.70,188.87 201.18,189.57 C201.65,190.27 202.28,191.38 202.50,191.74 M191.41,172.58 C191.86,172.88 193.40,173.58 194.15,174.41 C194.89,175.24 195.02,176.83 195.85,177.55 C196.68,178.26 198.59,178.49 199.14,178.68 M183.22,186.10 C183.43,186.13 184.28,186.02 184.49,186.25 C184.70,186.49 184.46,187.32 184.46,187.53 M184.46,187.53 C184.88,187.72 186.14,188.49 186.99,188.65 C187.83,188.81 188.67,188.64 189.52,188.48 C190.36,188.32 191.21,188.03 192.05,187.67 C192.89,187.32 193.74,186.27 194.58,186.37 C195.43,186.47 196.27,188.08 197.11,188.27 C197.96,188.47 199.22,187.66 199.64,187.54 M24.06,261.19 C23.72,260.87 22.82,259.73 22.02,259.27 C21.23,258.82 20.16,258.82 19.31,258.46 C18.46,258.10 17.63,257.71 16.92,257.12 C16.21,256.53 15.88,255.33 15.04,254.94 C14.21,254.55 12.68,255.30 11.91,254.80 C11.14,254.31 11.13,252.60 10.43,251.98 C9.74,251.37 8.19,251.27 7.74,251.13 M24.06,261.19 C24.09,260.69 23.75,259.00 24.25,258.19 C24.75,257.38 26.54,257.15 27.04,256.34 C27.53,255.53 27.11,254.32 27.22,253.34 C27.34,252.37 27.43,251.38 27.73,250.49 C28.03,249.60 28.49,248.77 29.01,247.98 C29.53,247.18 30.55,246.09 30.86,245.71 M7.74,251.13 C8.08,250.85 8.96,249.65 9.79,249.43 C10.61,249.21 11.82,249.90 12.70,249.81 C13.58,249.72 14.39,249.46 15.07,248.88 C15.74,248.29 16.03,246.77 16.75,246.31 C17.48,245.85 18.53,246.17 19.42,246.11 C20.31,246.04 21.30,246.22 22.09,245.91 C22.88,245.61 23.43,244.71 24.17,244.28 C24.91,243.85 26.13,243.48 26.53,243.33 M26.53,243.33 C26.91,243.48 28.11,243.87 28.83,244.27 C29.55,244.66 30.52,245.47 30.86,245.71 M24.17,230.68 C24.28,230.64 24.78,230.35 24.82,230.40 C24.86,230.45 24.46,230.88 24.39,230.97 M26.53,243.33 C26.59,242.89 27.02,241.54 26.90,240.72 C26.79,239.89 26.17,239.14 25.83,238.36 C25.48,237.57 25.06,236.79 24.83,235.98 C24.60,235.18 24.53,234.34 24.46,233.50 C24.39,232.67 24.40,231.39 24.39,230.97 M78.62,309.47 C78.20,309.21 76.71,308.61 76.10,307.89 C75.49,307.17 75.45,305.95 74.95,305.14 C74.45,304.32 73.40,303.35 73.09,302.99 M73.09,302.99 C72.49,303.03 70.68,303.29 69.47,303.24 C68.27,303.20 66.48,302.82 65.89,302.73 M61.33,305.70 C61.78,305.57 63.28,305.38 64.04,304.89 C64.80,304.39 65.58,303.09 65.89,302.73 M38.71,302.57 C39.19,302.46 40.63,302.05 41.58,301.90 C42.53,301.75 43.48,301.53 44.42,301.68 C45.35,301.83 46.27,302.42 47.19,302.79 C48.12,303.17 49.03,303.86 49.97,303.93 C50.91,304.01 52.35,303.36 52.83,303.24 M54.69,304.98 C54.53,304.84 54.05,304.42 53.74,304.13 C53.43,303.84 52.98,303.39 52.83,303.24 M73.09,302.99 C73.44,302.69 74.73,301.92 75.17,301.17 C75.62,300.42 75.46,299.32 75.79,298.50 C76.12,297.68 76.67,296.99 77.15,296.26 C77.63,295.53 78.40,294.96 78.68,294.12 C78.96,293.27 78.43,291.95 78.82,291.16 C79.21,290.38 80.65,289.70 81.01,289.41 M81.01,289.41 C80.78,289.36 79.84,289.40 79.64,289.11 C79.43,288.83 79.77,287.95 79.79,287.72 M65.89,302.73 C66.02,302.17 66.72,300.46 66.66,299.36 C66.60,298.26 65.77,297.22 65.52,296.13 C65.26,295.04 65.22,293.39 65.16,292.84 M79.79,287.72 C79.36,287.77 78.04,287.92 77.18,288.06 C76.31,288.19 75.40,288.19 74.60,288.52 C73.80,288.84 73.08,289.41 72.38,290.02 C71.68,290.62 71.24,291.95 70.39,292.14 C69.54,292.33 68.17,291.01 67.29,291.13 C66.42,291.25 65.51,292.56 65.16,292.84 M125.48,292.56 C125.88,292.80 127.01,293.84 127.87,294.00 C128.72,294.17 130.16,293.63 130.62,293.56 M130.62,293.56 C130.75,294.03 130.86,295.58 131.38,296.40 C131.91,297.23 133.18,297.71 133.75,298.51 C134.32,299.31 134.52,300.29 134.81,301.22 C135.10,302.15 135.36,303.63 135.47,304.11 M126.17,273.98 C125.94,273.85 125.28,273.28 124.81,273.23 C124.34,273.18 123.57,273.60 123.32,273.68 M126.27,274.06 C126.15,274.50 125.63,275.80 125.53,276.68 C125.43,277.55 125.71,278.45 125.66,279.33 C125.61,280.21 125.06,281.07 125.23,281.96 C125.39,282.85 126.60,283.78 126.66,284.67 C126.72,285.55 125.56,286.39 125.57,287.27 C125.59,288.15 126.76,289.08 126.74,289.97 C126.72,290.85 125.69,292.13 125.48,292.56 M115.05,287.56 C115.34,287.92 116.06,289.25 116.81,289.73 C117.55,290.22 118.66,290.16 119.52,290.48 C120.38,290.79 121.24,291.10 121.97,291.61 C122.70,292.11 123.59,293.18 123.92,293.50 M115.05,287.56 C114.99,287.04 114.55,285.49 114.67,284.44 C114.80,283.39 115.80,282.31 115.80,281.27 C115.81,280.22 114.88,278.69 114.69,278.18 M123.32,273.68 C122.80,273.84 121.22,274.32 120.17,274.65 C119.12,274.98 117.94,275.05 117.03,275.64 C116.11,276.23 115.08,277.76 114.69,278.18 M114.09,301.07 C114.63,300.78 116.19,299.76 117.33,299.34 C118.47,298.93 120.33,298.71 120.93,298.59 M114.09,301.07 C113.92,301.47 113.32,302.66 113.07,303.48 C112.82,304.30 112.75,305.16 112.60,306.00 C112.46,306.85 112.26,307.68 112.18,308.53 C112.10,309.39 112.09,310.26 112.13,311.14 C112.18,312.02 112.80,313.01 112.45,313.81 C112.10,314.62 110.23,315.12 110.03,315.95 C109.84,316.78 111.45,317.97 111.28,318.81 C111.10,319.65 109.12,320.13 108.99,320.97 C108.86,321.82 110.67,323.05 110.50,323.88 C110.34,324.72 108.26,325.18 108.00,326.00 C107.74,326.82 109.03,327.95 108.93,328.80 C108.83,329.65 107.43,330.25 107.41,331.11 C107.39,331.98 108.83,333.13 108.80,334.00 C108.78,334.87 107.54,335.49 107.28,336.31 C107.02,337.13 107.43,338.09 107.24,338.92 C107.06,339.76 106.34,340.92 106.16,341.32 M89.15,271.08 C89.44,270.66 90.42,269.49 90.87,268.60 C91.31,267.71 91.34,266.61 91.81,265.73 C92.28,264.85 93.23,264.23 93.71,263.35 C94.18,262.47 94.48,260.95 94.64,260.47 M89.15,271.08 C89.62,271.30 91.29,271.72 92.00,272.43 C92.72,273.14 92.80,274.51 93.42,275.31 C94.03,276.12 95.32,276.94 95.70,277.27 M94.64,260.47 C95.04,260.60 96.21,261.20 97.05,261.27 C97.90,261.34 98.89,260.62 99.70,260.88 C100.51,261.14 101.09,262.55 101.89,262.81 C102.70,263.06 104.10,262.47 104.54,262.41 M104.54,262.41 C104.46,262.90 103.92,264.40 104.03,265.36 C104.14,266.31 104.85,267.20 105.23,268.12 C105.61,269.04 106.36,269.92 106.32,270.89 C106.29,271.86 105.05,272.96 105.01,273.93 C104.97,274.90 105.91,276.24 106.09,276.70 M123.32,273.68 C123.08,273.30 122.31,272.20 121.88,271.39 C121.46,270.59 121.26,269.61 120.78,268.85 C120.30,268.09 119.70,267.42 119.01,266.82 C118.31,266.22 117.37,265.82 116.61,265.27 C115.86,264.72 115.06,264.20 114.47,263.52 C113.88,262.84 113.52,261.99 113.09,261.19 C112.66,260.39 112.10,259.12 111.91,258.71 M111.91,258.71 C111.57,259.06 110.66,260.31 109.90,260.83 C109.14,261.36 108.24,261.60 107.34,261.86 C106.45,262.13 105.01,262.32 104.54,262.41 M107.12,277.56 C107.01,277.52 106.63,277.45 106.46,277.31 C106.29,277.16 106.15,276.80 106.09,276.70 M168.98,167.72 C168.49,167.77 167.01,167.98 166.02,168.05 C165.04,168.11 164.03,167.89 163.05,168.10 C162.07,168.30 161.14,169.21 160.15,169.27 C159.16,169.34 157.63,168.62 157.13,168.49 M157.13,168.49 C157.07,168.93 157.13,170.33 156.81,171.12 C156.49,171.91 155.46,172.87 155.19,173.22 M167.13,188.38 C167.23,188.54 167.77,189.34 167.75,189.36 C167.72,189.38 167.11,188.63 166.98,188.49 M155.19,173.22 C155.15,173.67 154.87,175.01 154.94,175.89 C155.02,176.76 155.30,177.62 155.64,178.47 C155.97,179.32 156.79,180.13 156.97,181.00 C157.14,181.87 156.81,182.78 156.70,183.67 C156.60,184.56 156.40,185.90 156.34,186.34 M156.34,186.34 C156.46,186.33 156.95,186.14 157.07,186.24 C157.19,186.35 157.07,186.86 157.07,186.98 M166.98,188.49 C166.59,188.24 165.48,187.23 164.67,186.99 C163.86,186.75 162.96,187.14 162.13,187.04 C161.30,186.95 160.53,186.44 159.69,186.43 C158.84,186.42 157.50,186.89 157.07,186.98 M76.27,239.84 C75.84,240.09 74.66,241.11 73.69,241.33 C72.71,241.55 71.34,240.84 70.40,241.16 C69.47,241.49 68.47,242.94 68.09,243.29 M76.27,239.84 C75.97,239.46 74.74,238.43 74.45,237.51 C74.15,236.60 74.86,235.25 74.51,234.37 C74.16,233.48 72.69,233.07 72.34,232.18 C72.00,231.29 72.74,229.93 72.45,229.02 C72.16,228.10 70.91,227.08 70.61,226.69 M70.61,226.69 C70.19,226.93 68.99,227.80 68.10,228.13 C67.22,228.47 66.21,228.47 65.29,228.71 C64.37,228.96 63.04,229.44 62.59,229.59 M62.59,229.59 C62.71,230.07 62.96,231.56 63.31,232.48 C63.67,233.40 64.19,234.25 64.73,235.09 C65.26,235.94 66.08,236.67 66.52,237.55 C66.97,238.44 67.12,239.44 67.38,240.39 C67.64,241.35 67.97,242.81 68.09,243.29 M62.41,250.06 C62.42,249.83 62.44,249.15 62.51,248.70 C62.57,248.26 62.76,247.60 62.81,247.38 M62.41,250.06 C62.01,250.32 60.69,250.94 60.04,251.61 C59.38,252.27 59.13,253.38 58.49,254.06 C57.85,254.74 56.57,255.41 56.18,255.68 M43.58,248.94 C43.90,248.65 44.76,247.67 45.48,247.21 C46.19,246.75 47.21,246.74 47.85,246.18 C48.50,245.62 48.74,244.48 49.35,243.86 C49.95,243.24 50.70,242.84 51.47,242.46 C52.23,242.07 53.16,241.92 53.94,241.56 C54.72,241.19 55.77,240.48 56.14,240.26 M56.14,240.26 C56.62,240.55 58.37,241.14 59.03,242.00 C59.69,242.87 59.47,244.56 60.10,245.46 C60.73,246.35 62.36,247.06 62.81,247.38 M62.41,250.06 C62.69,250.38 63.52,251.37 64.11,251.98 C64.70,252.60 65.19,253.33 65.96,253.73 C66.73,254.13 67.88,254.05 68.70,254.38 C69.52,254.72 70.24,255.17 70.88,255.73 C71.51,256.29 71.94,257.10 72.50,257.76 C73.05,258.42 73.92,259.36 74.20,259.68 M77.15,240.08 C77.10,239.96 77.02,239.39 76.87,239.35 C76.72,239.32 76.37,239.76 76.27,239.84 M62.81,247.38 C63.34,247.15 65.09,246.69 65.97,246.01 C66.85,245.33 67.73,243.74 68.09,243.29 M79.01,239.55 C79.34,239.19 80.17,237.82 81.00,237.38 C81.84,236.93 83.16,237.27 84.03,236.87 C84.89,236.47 85.42,235.51 86.19,234.97 C86.97,234.43 88.27,233.84 88.69,233.61 M70.61,226.69 C70.69,226.51 70.96,225.95 71.12,225.58 C71.28,225.20 71.49,224.62 71.56,224.43 M71.56,224.43 C71.92,224.17 73.16,223.52 73.72,222.87 C74.29,222.22 74.77,220.91 74.97,220.52 M74.97,220.52 C75.38,220.72 76.58,221.80 77.43,221.73 C78.29,221.67 79.24,220.29 80.11,220.14 C80.97,220.00 81.76,220.73 82.60,220.87 C83.44,221.01 84.30,220.87 85.15,220.97 C85.99,221.07 87.24,221.39 87.66,221.47 M88.69,233.61 C88.45,233.12 87.27,231.69 87.25,230.68 C87.22,229.66 88.42,228.54 88.53,227.51 C88.65,226.48 88.08,225.51 87.94,224.50 C87.79,223.50 87.71,221.97 87.66,221.47 M96.52,246.31 C96.42,245.86 96.24,244.45 95.92,243.61 C95.59,242.78 95.25,241.95 94.58,241.31 C93.90,240.66 92.27,240.53 91.86,239.74 C91.45,238.95 92.39,237.44 92.12,236.58 C91.85,235.71 90.56,234.90 90.24,234.56 M88.69,233.61 C88.75,233.81 88.77,234.65 89.03,234.81 C89.28,234.97 90.04,234.60 90.24,234.56 M169.02,299.41 C168.67,299.06 167.22,298.19 166.91,297.30 C166.60,296.41 167.38,295.01 167.16,294.08 C166.93,293.15 166.05,292.53 165.57,291.72 C165.08,290.92 164.46,289.66 164.23,289.25 M180.35,299.30 C179.95,299.39 178.73,299.53 177.97,299.80 C177.22,300.07 176.18,300.73 175.82,300.92 M180.35,299.30 C180.34,298.66 179.95,296.63 180.29,295.45 C180.63,294.26 182.03,292.74 182.37,292.20 M182.37,292.20 C182.17,291.69 181.40,290.23 181.17,289.19 C180.93,288.14 180.99,286.49 180.95,285.95 M180.95,285.95 C180.49,285.89 178.87,286.12 178.15,285.62 C177.44,285.12 177.33,283.53 176.67,282.94 C176.00,282.36 174.56,282.26 174.14,282.12 M174.14,282.12 C173.74,282.43 172.61,283.49 171.72,283.98 C170.82,284.47 169.54,284.44 168.75,285.07 C167.95,285.71 167.70,287.11 166.95,287.80 C166.20,288.50 164.69,289.01 164.23,289.25 M183.57,301.77 C184.04,301.68 185.44,301.33 186.38,301.23 C187.32,301.13 188.26,301.10 189.20,301.19 C190.14,301.29 191.09,301.79 192.03,301.79 C192.97,301.79 193.90,301.22 194.84,301.18 C195.78,301.14 197.19,301.50 197.66,301.56 M180.35,299.30 C180.66,299.45 181.70,299.76 182.24,300.17 C182.78,300.59 183.35,301.51 183.57,301.77 M200.90,289.84 C200.48,290.02 199.21,290.64 198.35,290.93 C197.49,291.22 196.65,291.66 195.75,291.59 C194.84,291.51 193.82,290.52 192.92,290.48 C192.01,290.45 191.23,291.37 190.34,291.37 C189.44,291.37 188.40,290.22 187.54,290.49 C186.68,290.77 186.03,292.72 185.17,293.01 C184.31,293.29 182.84,292.33 182.37,292.20 M200.90,289.84 C200.95,290.38 201.35,292.07 201.21,293.08 C201.06,294.09 200.31,294.93 200.04,295.91 C199.77,296.89 199.99,298.00 199.60,298.94 C199.20,299.88 197.98,301.12 197.66,301.56 M202.40,288.13 C202.32,288.32 202.17,288.94 201.92,289.22 C201.67,289.51 201.07,289.74 200.90,289.84 M187.16,197.75 C187.68,197.97 189.21,198.98 190.27,199.08 C191.32,199.18 192.43,198.45 193.50,198.33 C194.57,198.21 196.15,198.34 196.68,198.34 M187.16,197.75 C186.77,198.03 185.27,198.65 184.79,199.44 C184.30,200.22 184.69,201.65 184.23,202.45 C183.76,203.25 182.59,203.54 182.00,204.25 C181.40,204.96 180.89,206.30 180.67,206.70 M180.67,206.70 C180.79,207.12 181.05,208.43 181.40,209.22 C181.75,210.01 182.33,210.68 182.78,211.42 C183.22,212.16 183.84,213.30 184.05,213.67 M184.46,187.53 C184.49,187.98 184.50,189.34 184.67,190.21 C184.84,191.07 185.05,191.93 185.47,192.73 C185.88,193.53 186.85,194.18 187.14,195.02 C187.42,195.86 187.16,197.29 187.16,197.75 M201.17,194.57 C201.31,194.34 201.78,193.70 202.01,193.23 C202.23,192.76 202.42,191.99 202.50,191.74 M211.33,209.48 C210.85,209.40 209.34,208.81 208.46,208.99 C207.59,209.16 206.88,210.05 206.08,210.53 C205.28,211.00 204.52,211.67 203.64,211.83 C202.77,211.98 201.70,211.34 200.81,211.47 C199.92,211.59 198.74,212.41 198.33,212.59 M182.74,217.35 C182.24,217.56 180.65,218.06 179.71,218.60 C178.77,219.15 178.03,220.06 177.10,220.63 C176.17,221.20 174.63,221.77 174.14,221.99 M174.14,221.99 C173.82,222.44 172.88,223.76 172.27,224.65 C171.65,225.53 170.73,226.87 170.42,227.32 M170.42,227.32 C170.84,227.57 172.01,228.57 172.94,228.85 C173.87,229.13 175.09,228.67 176.00,228.99 C176.91,229.32 177.49,230.48 178.40,230.81 C179.31,231.15 180.55,230.63 181.45,230.99 C182.35,231.35 182.93,232.51 183.80,232.95 C184.66,233.40 186.16,233.55 186.63,233.66 M188.80,230.56 C188.58,230.79 187.85,231.44 187.49,231.96 C187.13,232.47 186.78,233.38 186.63,233.66 M201.14,226.97 C200.91,227.20 200.20,227.85 199.77,228.32 C199.33,228.79 198.74,229.55 198.53,229.80 M211.33,209.48 C211.77,209.35 213.15,208.51 213.98,208.70 C214.81,208.90 215.51,210.19 216.31,210.65 C217.10,211.11 217.92,211.43 218.77,211.47 C219.61,211.51 220.51,211.13 221.39,210.91 C222.27,210.69 223.22,209.91 224.04,210.15 C224.87,210.39 225.52,212.05 226.34,212.32 C227.16,212.59 228.10,211.90 228.97,211.75 C229.84,211.59 230.73,211.26 231.57,211.39 C232.41,211.52 233.18,212.18 233.99,212.52 C234.81,212.85 235.58,213.49 236.45,213.39 C237.31,213.28 238.33,211.92 239.18,211.90 C240.04,211.88 240.76,212.97 241.58,213.28 C242.39,213.59 243.25,213.51 244.08,213.76 C244.90,214.01 245.65,214.90 246.52,214.77 C247.38,214.63 248.43,213.02 249.29,212.95 C250.15,212.89 250.87,214.00 251.68,214.38 C252.49,214.75 253.30,215.06 254.14,215.22 C254.97,215.38 255.85,215.20 256.68,215.35 C257.51,215.50 258.30,216.03 259.14,216.14 C259.99,216.24 260.87,215.94 261.73,215.95 C262.58,215.96 263.41,216.11 264.25,216.20 C265.10,216.28 265.92,216.53 266.78,216.45 C267.65,216.37 268.60,215.50 269.43,215.69 C270.26,215.89 270.93,217.40 271.76,217.64 C272.58,217.88 273.50,217.37 274.38,217.14 C275.26,216.91 276.21,216.04 277.04,216.27 C277.87,216.49 278.52,218.11 279.33,218.48 C280.14,218.84 281.04,218.43 281.89,218.47 C282.74,218.50 283.55,218.85 284.42,218.70 C285.29,218.55 286.28,217.44 287.12,217.56 C287.96,217.68 288.63,219.21 289.45,219.42 C290.28,219.64 291.25,218.71 292.08,218.85 C292.92,219.00 293.62,220.26 294.47,220.29 C295.32,220.32 296.31,219.12 297.18,219.03 C298.04,218.94 298.81,219.68 299.65,219.76 C300.49,219.84 301.38,219.53 302.24,219.51 C303.09,219.49 303.95,219.42 304.78,219.61 C305.61,219.80 306.41,220.27 307.22,220.65 C308.03,221.02 308.80,221.71 309.63,221.85 C310.47,221.99 311.37,221.54 312.23,221.48 C313.09,221.43 313.98,221.19 314.79,221.50 C315.61,221.81 316.30,223.14 317.13,223.32 C317.96,223.51 319.34,222.71 319.78,222.59 M198.10,212.83 C198.01,213.34 197.32,214.97 197.60,215.89 C197.88,216.82 199.27,217.51 199.77,218.38 C200.28,219.26 200.70,220.16 200.64,221.16 C200.58,222.16 199.35,223.41 199.43,224.38 C199.51,225.35 200.85,226.54 201.14,226.97 M188.80,230.56 C189.35,230.70 191.04,231.38 192.13,231.38 C193.21,231.38 194.26,230.84 195.33,230.57 C196.40,230.31 198.00,229.93 198.53,229.80 M45.49,271.61 C45.58,270.99 45.74,269.13 46.02,267.92 C46.30,266.72 46.98,264.97 47.17,264.38 M45.49,271.61 C44.94,271.72 43.25,272.34 42.19,272.26 C41.12,272.18 40.14,271.43 39.10,271.13 C38.07,270.83 36.49,270.57 35.96,270.46 M47.17,264.38 C46.77,264.11 45.29,263.59 44.76,262.79 C44.24,261.98 44.47,260.44 44.02,259.56 C43.58,258.68 42.95,257.98 42.10,257.50 C41.25,257.02 39.71,257.21 38.91,256.68 C38.11,256.15 37.57,254.71 37.30,254.32 M35.96,270.46 C35.80,269.92 35.57,268.12 34.99,267.20 C34.41,266.28 32.88,265.31 32.46,264.93 M32.46,264.93 C32.61,264.46 32.82,262.96 33.35,262.13 C33.88,261.30 35.17,260.82 35.64,259.97 C36.10,259.11 35.88,257.94 36.15,257.00 C36.43,256.06 37.11,254.76 37.30,254.32 M56.18,255.68 C56.05,255.81 55.45,256.14 55.39,256.44 C55.33,256.73 55.73,257.28 55.80,257.45 M55.80,257.45 C55.40,257.68 54.03,258.19 53.36,258.84 C52.70,259.49 52.55,260.77 51.84,261.35 C51.12,261.94 49.87,261.86 49.10,262.36 C48.32,262.86 47.49,264.04 47.17,264.38 M36.79,247.97 C37.34,248.17 38.95,249.00 40.08,249.16 C41.22,249.32 43.00,248.98 43.58,248.94 M36.79,247.97 C36.65,248.51 35.86,250.17 35.94,251.23 C36.03,252.29 37.07,253.80 37.30,254.32 M25.43,264.47 C26.01,264.65 27.72,265.48 28.89,265.55 C30.06,265.63 31.87,265.03 32.46,264.93 M36.02,247.04 C35.59,246.92 34.31,246.55 33.45,246.33 C32.59,246.11 31.29,245.81 30.86,245.71 M36.02,247.04 C36.15,247.07 36.66,247.04 36.78,247.19 C36.91,247.35 36.79,247.84 36.79,247.97 M25.43,264.47 C25.04,264.75 23.72,265.43 23.09,266.12 C22.46,266.80 22.20,267.83 21.65,268.59 C21.10,269.35 20.41,269.98 19.79,270.67 C19.17,271.37 18.23,272.40 17.92,272.75 M31.20,277.04 C30.79,276.89 29.62,276.25 28.73,276.16 C27.85,276.07 26.80,276.57 25.91,276.49 C25.02,276.42 24.17,276.23 23.41,275.72 C22.65,275.22 22.13,273.86 21.34,273.47 C20.55,273.07 19.10,273.36 18.65,273.34 M31.20,277.04 C31.49,276.69 32.39,275.67 32.90,274.92 C33.41,274.18 33.74,273.30 34.25,272.56 C34.76,271.81 35.68,270.81 35.96,270.46 M38.77,288.32 C38.38,288.08 37.17,287.43 36.44,286.88 C35.71,286.34 35.09,285.66 34.40,285.07 C33.71,284.47 32.64,283.62 32.29,283.34 M38.77,288.32 C38.79,288.84 39.29,290.53 38.86,291.46 C38.42,292.38 36.74,292.98 36.17,293.87 C35.59,294.75 35.49,295.76 35.41,296.78 C35.34,297.80 35.66,299.45 35.71,299.98 M33.21,300.38 C32.80,300.02 31.73,298.57 30.78,298.21 C29.83,297.86 28.46,298.58 27.50,298.24 C26.55,297.90 25.98,296.54 25.04,296.17 C24.09,295.79 22.36,296.05 21.83,296.02 M23.44,286.63 C23.10,287.14 22.07,288.66 21.38,289.68 C20.69,290.69 19.65,292.21 19.30,292.72 M21.83,296.02 C21.67,295.71 21.29,294.69 20.87,294.14 C20.44,293.59 19.56,292.95 19.30,292.72 M31.20,277.04 C31.31,277.56 31.67,279.12 31.85,280.17 C32.03,281.22 32.22,282.81 32.29,283.34 M18.65,273.34 C18.85,273.77 19.40,275.07 19.83,275.92 C20.27,276.76 20.86,277.55 21.25,278.41 C21.63,279.27 22.03,280.13 22.15,281.09 C22.26,282.05 21.72,283.24 21.94,284.17 C22.15,285.09 23.19,286.22 23.44,286.63 M38.71,302.57 C38.38,302.45 37.22,302.28 36.72,301.85 C36.22,301.41 35.88,300.29 35.71,299.98 M135.47,304.11 C135.83,304.31 136.91,305.28 137.62,305.27 C138.33,305.26 139.40,304.28 139.75,304.08 M145.64,308.26 C145.15,307.92 143.65,306.91 142.67,306.21 C141.69,305.51 140.24,304.43 139.75,304.08 M160.96,304.88 C160.54,304.75 159.23,304.51 158.48,304.05 C157.73,303.58 157.25,302.44 156.45,302.10 C155.65,301.76 154.14,302.01 153.68,301.99 M145.64,308.26 C146.08,308.13 147.48,307.86 148.25,307.45 C149.01,307.05 149.58,306.40 150.23,305.85 C150.87,305.30 151.56,304.80 152.14,304.15 C152.71,303.51 153.43,302.35 153.68,301.99 M91.37,299.19 C91.78,299.41 92.94,300.18 93.82,300.48 C94.70,300.79 95.89,300.50 96.66,301.01 C97.43,301.53 97.69,303.04 98.45,303.58 C99.21,304.12 100.76,304.14 101.22,304.25 M91.37,299.19 C91.31,298.87 91.24,297.85 91.00,297.25 C90.75,296.66 90.08,295.89 89.90,295.61 M89.90,295.61 C90.05,295.38 90.85,294.64 90.81,294.20 C90.78,293.76 89.87,293.16 89.68,292.96 M89.68,292.96 C90.05,292.96 91.30,293.26 91.87,292.96 C92.44,292.66 92.90,291.46 93.10,291.16 M93.10,291.16 C93.65,291.36 95.25,292.43 96.36,292.37 C97.47,292.32 98.64,290.96 99.76,290.84 C100.87,290.72 102.49,291.51 103.03,291.64 M101.22,304.25 C101.62,303.97 102.99,303.24 103.62,302.59 C104.25,301.93 104.61,301.11 105.00,300.31 C105.40,299.52 105.70,298.66 105.99,297.80 C106.28,296.94 106.63,295.59 106.76,295.15 M103.03,291.64 C103.28,291.91 103.97,292.78 104.53,293.23 C105.09,293.68 106.09,294.16 106.40,294.34 M106.40,294.34 C106.54,294.36 107.13,294.34 107.19,294.48 C107.25,294.61 106.83,295.03 106.76,295.15 M78.62,309.47 C78.91,309.16 79.89,308.31 80.39,307.62 C80.88,306.92 81.12,306.02 81.58,305.30 C82.04,304.57 82.65,303.98 83.13,303.27 C83.61,302.56 83.96,301.75 84.45,301.05 C84.95,300.36 85.40,299.63 86.09,299.09 C86.78,298.56 87.96,298.43 88.60,297.85 C89.23,297.26 89.68,295.98 89.90,295.61 M81.01,289.41 C81.52,289.54 83.16,289.66 84.07,290.18 C84.98,290.70 85.54,292.08 86.48,292.54 C87.41,293.00 89.15,292.89 89.68,292.96 M79.79,287.72 C79.64,287.31 78.97,286.17 78.84,285.31 C78.71,284.45 79.12,283.42 79.03,282.55 C78.93,281.68 78.57,280.89 78.26,280.09 C77.95,279.28 77.55,278.51 77.18,277.72 C76.80,276.94 76.20,275.78 76.00,275.39 M107.12,277.56 C107.00,278.04 106.62,279.46 106.43,280.41 C106.23,281.37 106.22,282.39 105.92,283.32 C105.62,284.25 105.03,285.10 104.62,286.00 C104.22,286.90 103.74,287.78 103.47,288.72 C103.21,289.66 103.11,291.16 103.03,291.64 M114.09,301.07 C113.66,300.77 112.39,299.84 111.51,299.27 C110.62,298.70 109.56,298.34 108.77,297.65 C107.98,296.97 107.09,295.56 106.76,295.15 M73.08,271.92 C73.04,272.23 72.56,273.33 72.80,273.75 C73.03,274.18 74.22,274.36 74.50,274.48 M74.50,274.48 C74.09,274.71 72.88,275.44 72.05,275.89 C71.22,276.35 70.23,276.58 69.52,277.21 C68.81,277.84 68.45,278.97 67.79,279.67 C67.13,280.37 66.31,280.85 65.55,281.39 C64.78,281.94 64.10,282.61 63.19,282.96 C62.29,283.30 60.94,283.01 60.12,283.48 C59.30,283.95 58.57,285.38 58.26,285.76 M61.88,268.26 C61.45,268.38 59.98,268.44 59.30,268.96 C58.62,269.48 58.43,270.80 57.80,271.39 C57.16,271.99 56.22,272.08 55.49,272.53 C54.76,272.97 54.22,273.70 53.42,274.05 C52.63,274.39 51.52,274.20 50.75,274.57 C49.98,274.95 49.13,276.01 48.80,276.29 M58.26,285.76 C57.90,285.67 56.79,285.20 56.06,285.21 C55.33,285.23 54.24,285.73 53.88,285.84 M53.88,285.84 C53.52,285.57 52.47,284.77 51.75,284.26 C51.02,283.76 49.90,283.06 49.53,282.82 M94.64,260.47 C94.46,260.06 93.97,258.82 93.57,258.04 C93.16,257.25 92.43,256.13 92.21,255.75 M74.20,259.68 C74.28,260.20 74.79,261.79 74.64,262.81 C74.49,263.82 73.66,264.77 73.29,265.77 C72.91,266.76 72.42,267.75 72.39,268.77 C72.35,269.80 72.97,271.40 73.08,271.92 M76.00,275.39 C75.95,275.18 75.98,274.29 75.73,274.13 C75.48,273.98 74.71,274.42 74.50,274.48 M55.80,257.45 C56.14,257.86 57.19,259.05 57.79,259.89 C58.40,260.73 59.16,261.49 59.45,262.51 C59.74,263.54 59.12,265.07 59.52,266.03 C59.92,266.99 61.48,267.89 61.88,268.26 M65.16,292.84 C64.66,292.56 62.91,291.96 62.18,291.14 C61.45,290.32 61.43,288.81 60.77,287.91 C60.12,287.02 58.68,286.12 58.26,285.76 M45.49,271.61 C45.87,271.93 47.20,272.74 47.75,273.52 C48.30,274.31 48.63,275.83 48.80,276.29 M52.83,303.24 C52.85,302.76 52.70,301.29 52.96,300.34 C53.21,299.38 54.38,298.48 54.36,297.51 C54.34,296.54 53.14,295.50 52.83,294.51 C52.52,293.52 52.17,292.53 52.47,291.57 C52.78,290.62 54.45,289.75 54.68,288.80 C54.91,287.84 54.01,286.33 53.88,285.84 M38.77,288.32 C39.30,288.24 41.03,288.31 41.93,287.85 C42.82,287.39 43.28,286.08 44.13,285.54 C44.99,285.00 46.15,285.06 47.05,284.61 C47.95,284.16 49.11,283.12 49.53,282.82 M39.57,163.65 C39.76,164.08 40.37,165.33 40.72,166.21 C41.07,167.08 41.22,168.08 41.67,168.88 C42.12,169.69 42.92,170.27 43.44,171.03 C43.96,171.79 44.26,172.70 44.77,173.46 C45.29,174.22 46.06,174.82 46.54,175.61 C47.02,176.40 47.05,177.47 47.64,178.19 C48.24,178.90 49.69,179.60 50.10,179.89 M39.57,163.65 C39.46,164.11 39.29,165.61 38.90,166.42 C38.51,167.24 37.86,167.90 37.22,168.56 C36.59,169.23 35.62,169.68 35.10,170.42 C34.57,171.15 34.54,172.20 34.08,172.98 C33.63,173.76 32.67,174.75 32.38,175.10 M32.38,175.10 C32.78,175.30 34.00,175.86 34.76,176.31 C35.51,176.77 36.26,177.23 36.92,177.81 C37.58,178.40 38.08,179.21 38.72,179.83 C39.36,180.45 40.09,180.94 40.74,181.54 C41.39,182.14 41.87,182.98 42.62,183.44 C43.37,183.90 44.81,184.16 45.24,184.31 M40.09,161.56 C39.87,161.69 38.89,162.01 38.81,162.36 C38.72,162.70 39.45,163.44 39.57,163.65 M24.75,173.93 C25.25,174.05 26.78,174.37 27.77,174.67 C28.76,174.97 30.20,175.58 30.69,175.76 M32.38,175.10 C32.20,175.06 31.59,174.73 31.30,174.84 C31.02,174.95 30.79,175.61 30.69,175.76 M157.13,168.49 C156.92,168.12 156.31,167.01 155.90,166.28 C155.49,165.54 155.15,164.77 154.68,164.07 C154.20,163.36 153.44,162.79 153.05,162.04 C152.67,161.29 152.73,160.34 152.38,159.57 C152.02,158.81 151.26,158.24 150.93,157.46 C150.61,156.68 150.75,155.70 150.44,154.91 C150.13,154.13 149.31,153.58 149.08,152.77 C148.84,151.95 149.17,150.87 149.02,150.02 C148.87,149.16 148.59,148.36 148.18,147.62 C147.78,146.89 146.86,145.92 146.59,145.58 M155.19,173.22 C154.76,173.18 153.47,173.00 152.60,172.96 C151.74,172.93 150.82,173.28 149.99,172.99 C149.15,172.70 148.41,171.59 147.58,171.23 C146.75,170.87 145.88,170.82 145.01,170.85 C144.13,170.87 143.21,171.29 142.33,171.39 C141.45,171.48 140.15,171.42 139.71,171.43 M139.71,171.43 C139.78,170.98 139.85,169.62 140.11,168.76 C140.38,167.91 141.07,167.17 141.29,166.31 C141.52,165.45 141.10,164.42 141.47,163.59 C141.84,162.77 143.18,162.20 143.51,161.36 C143.83,160.53 143.19,159.44 143.40,158.57 C143.61,157.70 144.52,157.02 144.75,156.16 C144.99,155.30 144.89,154.35 144.80,153.41 C144.72,152.46 144.14,151.39 144.25,150.49 C144.36,149.60 145.07,148.87 145.46,148.05 C145.85,147.23 146.40,145.99 146.59,145.58 M154.05,203.28 C154.52,203.41 155.98,204.06 156.91,204.05 C157.84,204.03 158.73,203.50 159.63,203.20 C160.54,202.90 161.43,202.32 162.35,202.24 C163.28,202.17 164.26,202.71 165.19,202.74 C166.13,202.78 167.04,202.59 167.96,202.45 C168.88,202.31 170.26,202.00 170.71,201.90 M154.05,203.28 C154.15,203.70 154.19,205.04 154.67,205.78 C155.14,206.51 156.74,206.84 156.88,207.70 C157.03,208.55 155.43,210.03 155.53,210.90 C155.64,211.77 157.17,212.58 157.50,212.91 M159.77,213.71 C160.25,213.70 161.81,214.03 162.61,213.68 C163.41,213.33 164.22,211.95 164.55,211.61 M164.55,211.61 C164.89,211.30 166.04,210.49 166.59,209.76 C167.14,209.04 167.35,208.05 167.83,207.27 C168.31,206.50 168.88,205.80 169.47,205.11 C170.05,204.42 171.04,203.47 171.35,203.14 M171.35,203.14 C171.39,202.99 171.70,202.44 171.59,202.24 C171.48,202.03 170.86,201.96 170.71,201.90 M166.98,188.49 C167.25,188.89 168.23,190.07 168.60,190.93 C168.96,191.79 168.92,192.77 169.16,193.66 C169.40,194.56 170.06,195.34 170.04,196.31 C170.03,197.28 168.94,198.54 169.05,199.48 C169.16,200.41 170.44,201.50 170.71,201.90 M157.07,186.98 C157.00,187.48 157.05,189.06 156.65,189.96 C156.25,190.85 155.04,191.45 154.68,192.36 C154.31,193.27 154.85,194.51 154.46,195.41 C154.06,196.30 152.72,196.85 152.30,197.74 C151.89,198.63 152.02,200.24 151.97,200.74 M151.97,200.74 C152.11,200.98 152.49,201.73 152.84,202.15 C153.19,202.57 153.85,203.09 154.05,203.28 M180.67,206.70 C180.14,206.55 178.50,206.17 177.46,205.79 C176.41,205.42 175.43,204.90 174.41,204.46 C173.39,204.02 171.86,203.36 171.35,203.14 M174.14,221.99 C173.69,221.77 172.16,221.25 171.44,220.63 C170.72,220.01 170.28,219.14 169.83,218.28 C169.38,217.41 169.23,216.26 168.73,215.44 C168.23,214.61 167.53,213.98 166.83,213.34 C166.13,212.70 164.93,211.89 164.55,211.61 M38.31,218.83 C38.36,218.71 38.41,218.15 38.58,218.07 C38.75,217.98 39.22,218.28 39.35,218.32 M38.31,218.83 C38.17,219.33 37.63,220.81 37.46,221.84 C37.29,222.87 37.56,224.01 37.31,225.02 C37.07,226.03 36.21,227.42 35.99,227.90 M39.35,218.32 C39.73,218.60 40.81,219.54 41.62,219.97 C42.42,220.40 43.32,220.61 44.18,220.91 C45.03,221.21 45.96,221.34 46.77,221.76 C47.58,222.17 48.18,223.09 49.04,223.39 C49.90,223.69 51.44,223.54 51.92,223.57 M35.99,227.90 C36.38,228.09 37.60,228.61 38.35,229.04 C39.09,229.48 39.73,230.06 40.45,230.52 C41.17,230.98 42.07,231.21 42.69,231.81 C43.31,232.41 43.90,233.75 44.15,234.13 M44.15,234.13 C44.64,234.03 46.21,233.87 47.13,233.51 C48.06,233.14 48.85,232.46 49.71,231.96 C50.58,231.46 51.90,230.75 52.33,230.51 M52.33,230.51 C52.45,230.49 52.98,230.50 53.04,230.37 C53.11,230.24 52.78,229.83 52.72,229.72 M55.39,216.47 C55.18,216.86 54.36,217.92 54.13,218.79 C53.89,219.65 54.35,220.85 53.99,221.65 C53.62,222.45 52.26,223.25 51.92,223.57 M55.39,216.47 C54.98,216.13 53.47,215.26 52.94,214.42 C52.41,213.58 52.40,212.45 52.20,211.43 C52.00,210.41 52.12,209.21 51.74,208.29 C51.36,207.36 50.51,206.70 49.92,205.89 C49.34,205.08 48.50,203.84 48.22,203.43 M48.22,203.43 C47.68,203.36 45.98,202.85 44.95,203.05 C43.93,203.25 42.55,204.36 42.06,204.62 M42.06,204.62 C41.81,205.05 40.69,206.25 40.51,207.16 C40.33,208.08 41.08,209.17 41.00,210.11 C40.93,211.04 40.32,211.87 40.07,212.77 C39.83,213.67 39.68,214.59 39.56,215.52 C39.44,216.44 39.39,217.86 39.35,218.32 M71.56,224.43 C71.24,224.03 70.42,222.55 69.62,222.03 C68.81,221.51 67.63,221.68 66.74,221.32 C65.85,220.96 65.08,220.39 64.29,219.84 C63.50,219.30 62.95,218.32 62.01,218.05 C61.07,217.78 59.57,218.54 58.65,218.23 C57.73,217.92 56.86,216.53 56.51,216.19 M56.51,216.19 C56.41,216.20 56.12,216.23 55.93,216.27 C55.75,216.32 55.48,216.44 55.39,216.47 M62.59,229.59 C62.04,229.50 60.39,229.15 59.29,229.04 C58.20,228.94 57.10,228.85 56.00,228.96 C54.91,229.07 53.27,229.59 52.72,229.72 M90.24,234.56 C90.68,234.55 91.99,234.54 92.86,234.51 C93.73,234.49 94.64,234.71 95.46,234.42 C96.28,234.13 96.93,232.94 97.77,232.78 C98.61,232.61 99.66,233.52 100.51,233.41 C101.37,233.29 102.03,232.21 102.88,232.08 C103.73,231.94 104.76,232.77 105.61,232.62 C106.45,232.47 107.56,231.40 107.95,231.16 M107.95,231.16 C107.66,230.74 106.71,229.56 106.20,228.66 C105.69,227.77 105.59,226.52 104.90,225.78 C104.22,225.03 102.88,224.84 102.08,224.19 C101.28,223.54 100.43,222.27 100.10,221.89 M87.66,221.47 C87.82,221.31 88.32,220.84 88.63,220.50 C88.93,220.17 89.35,219.63 89.50,219.45 M100.10,221.89 C99.70,221.61 98.61,220.26 97.70,220.18 C96.79,220.10 95.54,221.49 94.62,221.42 C93.71,221.36 93.07,220.10 92.21,219.77 C91.36,219.45 89.95,219.51 89.50,219.45 M100.95,245.30 C101.03,244.85 100.93,243.29 101.43,242.55 C101.92,241.82 103.32,241.58 103.90,240.89 C104.48,240.21 104.59,239.26 104.92,238.44 C105.25,237.62 105.32,236.66 105.88,235.96 C106.43,235.26 107.79,234.99 108.23,234.23 C108.68,233.47 108.49,231.87 108.54,231.40 M108.25,248.92 C108.43,248.51 108.85,247.20 109.35,246.48 C109.86,245.76 110.74,245.31 111.27,244.61 C111.80,243.92 111.96,242.96 112.53,242.29 C113.10,241.61 113.99,241.17 114.67,240.58 C115.35,239.98 116.14,239.47 116.59,238.71 C117.03,237.95 117.21,236.47 117.34,236.02 M108.54,231.40 C108.97,231.46 110.27,231.85 111.11,231.80 C111.96,231.74 113.19,231.19 113.61,231.07 M96.52,246.31 C96.88,246.16 97.91,245.59 98.65,245.42 C99.39,245.26 100.57,245.32 100.95,245.30 M107.95,231.16 C108.06,231.03 108.50,230.37 108.60,230.41 C108.70,230.45 108.55,231.23 108.54,231.40 M111.91,258.71 C112.02,258.65 112.52,258.51 112.60,258.31 C112.69,258.12 112.45,257.66 112.42,257.53 M112.42,257.53 C112.03,257.13 110.39,256.15 110.09,255.11 C109.79,254.08 110.93,252.34 110.63,251.31 C110.32,250.28 108.64,249.32 108.25,248.92 M100.10,221.89 C100.29,221.41 100.68,219.79 101.27,219.00 C101.86,218.22 102.79,217.72 103.65,217.17 C104.51,216.63 105.74,216.40 106.44,215.70 C107.14,215.01 107.62,213.47 107.85,213.03 M170.42,227.32 C170.19,227.46 169.43,227.86 169.00,228.21 C168.56,228.56 168.01,229.20 167.81,229.40 M159.77,213.71 C160.00,214.15 161.18,215.39 161.12,216.34 C161.06,217.29 159.50,218.46 159.42,219.42 C159.35,220.37 160.40,221.16 160.65,222.07 C160.91,222.97 160.76,223.94 160.95,224.85 C161.14,225.77 161.66,227.11 161.80,227.56 M213.02,263.55 C212.59,263.47 211.30,263.26 210.46,263.04 C209.62,262.83 208.80,262.57 207.99,262.28 C207.17,261.99 205.98,261.46 205.58,261.30 M213.02,263.55 C212.75,263.92 212.14,265.20 211.41,265.77 C210.67,266.34 209.38,266.42 208.63,266.97 C207.87,267.52 207.30,268.23 206.87,269.06 C206.44,269.90 206.45,271.11 206.06,271.98 C205.67,272.84 205.13,273.59 204.52,274.26 C203.92,274.94 203.23,275.55 202.40,276.03 C201.57,276.52 200.17,276.50 199.54,277.16 C198.92,277.82 198.79,279.52 198.64,280.00 M205.58,261.30 C205.20,261.56 203.99,262.25 203.30,262.88 C202.61,263.50 202.19,264.51 201.43,265.04 C200.68,265.57 199.70,265.78 198.77,266.05 C197.84,266.33 196.59,266.15 195.85,266.70 C195.11,267.25 194.87,268.53 194.32,269.36 C193.78,270.20 193.36,271.21 192.57,271.70 C191.79,272.20 190.12,272.21 189.63,272.32 M198.64,280.00 C198.26,279.66 197.27,278.41 196.38,278.01 C195.49,277.60 194.21,277.91 193.30,277.54 C192.38,277.18 191.29,276.12 190.89,275.83 M202.40,288.13 C202.30,287.63 202.20,286.03 201.77,285.13 C201.34,284.23 200.35,283.60 199.83,282.74 C199.30,281.88 198.83,280.45 198.64,280.00 M174.14,282.12 C173.92,281.72 173.05,280.58 172.81,279.72 C172.56,278.85 172.84,277.83 172.66,276.94 C172.48,276.05 171.90,274.82 171.75,274.40 M189.63,272.32 C189.15,271.92 187.53,270.89 186.77,269.95 C186.00,269.01 185.32,267.21 185.03,266.67 M185.03,266.67 C184.71,266.96 183.84,268.02 183.10,268.44 C182.35,268.85 181.27,268.69 180.56,269.16 C179.84,269.63 179.64,270.99 178.81,271.26 C177.98,271.53 176.45,270.60 175.58,270.79 C174.70,270.99 174.20,271.83 173.57,272.43 C172.93,273.03 172.05,274.07 171.75,274.40 M198.42,256.13 C198.09,256.41 197.25,257.59 196.41,257.81 C195.57,258.03 194.26,257.33 193.37,257.45 C192.48,257.57 191.68,257.87 191.07,258.55 C190.46,259.23 190.34,260.89 189.70,261.53 C189.07,262.17 188.11,262.14 187.28,262.39 C186.45,262.63 185.15,262.90 184.73,263.00 M196.78,247.29 C196.36,247.06 195.11,246.32 194.26,245.89 C193.41,245.46 192.60,244.86 191.67,244.72 C190.74,244.57 189.64,245.06 188.68,245.04 C187.72,245.01 186.81,244.79 185.91,244.56 C185.00,244.33 183.69,243.80 183.25,243.65 M181.16,258.29 C181.34,258.77 181.65,260.39 182.25,261.17 C182.84,261.96 184.32,262.70 184.73,263.00 M181.16,258.29 C181.21,257.82 181.39,256.38 181.46,255.42 C181.52,254.46 181.49,253.49 181.57,252.53 C181.66,251.57 181.86,250.63 181.98,249.67 C182.10,248.72 182.16,247.76 182.30,246.80 C182.43,245.85 182.69,244.43 182.77,243.95 M205.58,261.30 C205.18,261.00 203.97,260.17 203.22,259.54 C202.47,258.90 201.87,258.05 201.07,257.49 C200.27,256.92 198.86,256.36 198.42,256.13 M185.03,266.67 C185.12,266.35 185.60,265.39 185.55,264.78 C185.50,264.17 184.87,263.30 184.73,263.00 M202.48,242.35 C202.08,242.52 200.79,242.96 200.04,243.37 C199.29,243.78 198.51,244.16 197.96,244.82 C197.42,245.47 196.98,246.88 196.78,247.29 M163.89,259.47 C164.23,259.86 165.70,260.83 165.94,261.76 C166.18,262.69 165.16,264.11 165.32,265.07 C165.48,266.04 166.29,266.75 166.91,267.54 C167.53,268.32 168.69,268.91 169.04,269.80 C169.39,270.69 169.02,272.36 169.02,272.88 M163.89,259.47 C164.38,259.61 165.88,260.45 166.83,260.29 C167.79,260.14 168.65,258.69 169.61,258.56 C170.56,258.42 171.61,259.61 172.56,259.46 C173.51,259.31 174.37,257.77 175.33,257.67 C176.29,257.57 177.33,258.76 178.30,258.86 C179.28,258.97 180.68,258.39 181.16,258.29 M171.75,274.40 C171.43,274.44 170.29,274.89 169.83,274.64 C169.38,274.38 169.16,273.17 169.02,272.88 M172.72,241.69 C172.49,242.10 171.61,243.24 171.34,244.16 C171.07,245.08 171.66,246.45 171.10,247.23 C170.55,248.00 168.57,248.04 168.00,248.81 C167.43,249.58 167.98,250.93 167.68,251.83 C167.38,252.74 166.80,253.50 166.17,254.24 C165.55,254.98 164.33,255.41 163.90,256.25 C163.47,257.09 163.64,258.78 163.59,259.28 M172.72,241.69 C173.12,241.87 174.30,242.49 175.12,242.76 C175.93,243.04 176.80,243.11 177.62,243.35 C178.45,243.58 179.22,244.07 180.08,244.17 C180.93,244.28 182.32,243.99 182.77,243.95 M163.59,259.28 C163.59,259.33 163.55,259.56 163.60,259.59 C163.65,259.62 163.84,259.49 163.89,259.47 M172.72,241.69 C172.43,241.62 171.38,241.65 171.01,241.31 C170.64,240.97 170.61,239.91 170.53,239.63 M167.81,229.40 C168.02,229.80 168.73,230.98 169.06,231.81 C169.39,232.63 169.70,233.46 169.78,234.35 C169.87,235.24 169.44,236.27 169.56,237.15 C169.68,238.03 170.36,239.22 170.53,239.63 M40.09,161.56 C40.49,161.77 41.76,162.29 42.53,162.80 C43.30,163.32 43.77,164.47 44.69,164.65 C45.61,164.84 47.10,163.79 48.05,163.91 C49.00,164.03 49.59,164.92 50.39,165.37 C51.19,165.82 52.07,166.07 52.84,166.60 C53.60,167.13 54.19,168.03 54.97,168.53 C55.74,169.02 57.08,169.38 57.51,169.55 M50.10,179.89 C50.48,179.58 51.73,178.76 52.38,178.03 C53.03,177.31 53.51,176.42 54.01,175.55 C54.50,174.68 54.66,173.47 55.35,172.79 C56.05,172.12 57.72,171.70 58.20,171.48 M57.51,169.55 C57.56,169.71 57.73,170.20 57.85,170.52 C57.96,170.84 58.14,171.32 58.20,171.48 M24.17,230.68 C24.00,230.24 23.18,228.95 23.16,228.01 C23.14,227.06 24.09,225.94 24.06,224.99 C24.03,224.05 23.31,223.22 23.00,222.32 C22.69,221.43 22.35,220.06 22.21,219.61 M22.21,219.61 C22.66,219.48 24.27,219.39 24.91,218.84 C25.56,218.29 25.88,216.72 26.08,216.29 M34.94,191.94 C34.50,191.85 33.12,191.68 32.31,191.39 C31.50,191.09 30.73,190.73 30.09,190.16 C29.45,189.59 28.74,188.32 28.47,187.95 M22.76,201.21 C22.88,200.76 23.38,199.40 23.48,198.52 C23.57,197.64 23.41,196.79 23.33,195.92 C23.25,195.06 23.24,194.19 22.98,193.34 C22.72,192.50 21.97,191.26 21.76,190.85 M21.76,190.85 C22.35,190.67 24.18,190.29 25.30,189.81 C26.41,189.32 27.94,188.26 28.47,187.95 M30.69,175.76 C30.68,176.28 30.91,177.90 30.66,178.90 C30.42,179.91 29.40,180.77 29.21,181.79 C29.02,182.80 29.65,183.96 29.53,184.99 C29.40,186.02 28.65,187.45 28.47,187.95 M45.24,184.31 C45.23,184.37 45.24,184.58 45.19,184.70 C45.14,184.81 45.00,184.96 44.96,185.02 M44.96,185.02 C44.58,185.36 43.45,186.41 42.69,187.09 C41.93,187.77 41.27,188.60 40.38,189.10 C39.49,189.60 38.26,189.61 37.36,190.09 C36.45,190.56 35.34,191.63 34.94,191.94 M49.37,201.98 C49.22,201.58 48.50,200.48 48.47,199.62 C48.43,198.77 49.36,197.67 49.17,196.85 C48.99,196.04 47.78,195.49 47.35,194.74 C46.92,193.99 46.82,193.15 46.59,192.35 C46.36,191.55 45.95,190.80 45.96,189.93 C45.97,189.06 46.83,187.98 46.66,187.16 C46.49,186.34 45.24,185.37 44.96,185.02 M49.37,201.98 C49.23,202.07 48.76,202.28 48.56,202.52 C48.37,202.76 48.28,203.27 48.22,203.43 M42.06,204.62 C41.65,204.26 40.55,202.80 39.58,202.42 C38.61,202.04 36.81,202.38 36.26,202.37 M126.17,273.98 C126.24,273.53 126.24,272.10 126.62,271.27 C127.00,270.43 128.25,269.86 128.46,268.98 C128.67,268.09 127.64,266.83 127.87,265.95 C128.10,265.07 129.53,264.55 129.84,263.70 C130.16,262.85 129.70,261.76 129.76,260.83 C129.83,259.90 129.90,258.97 130.23,258.12 C130.56,257.27 131.49,256.13 131.74,255.73 M119.11,253.71 C119.62,253.73 121.13,253.83 122.14,253.83 C123.15,253.83 124.19,253.50 125.19,253.71 C126.18,253.93 127.12,254.98 128.12,255.13 C129.12,255.27 130.68,254.69 131.20,254.60 M149.09,216.01 C148.77,216.38 147.63,217.37 147.18,218.23 C146.73,219.10 146.87,220.33 146.41,221.18 C145.95,222.04 144.74,222.99 144.41,223.35 M142.49,203.81 C142.07,203.75 140.78,203.72 139.96,203.49 C139.15,203.26 138.42,202.63 137.60,202.41 C136.78,202.20 135.47,202.25 135.04,202.21 M135.04,202.21 C134.79,202.37 134.07,202.90 133.53,203.12 C132.99,203.33 132.10,203.43 131.81,203.50 M151.97,200.74 C151.43,200.89 149.78,201.17 148.77,201.65 C147.76,202.12 146.96,203.25 145.92,203.61 C144.87,203.97 143.06,203.77 142.49,203.81 M157.50,212.91 C156.97,212.93 155.29,212.69 154.35,213.01 C153.40,213.33 152.71,214.32 151.83,214.82 C150.96,215.32 149.54,215.81 149.09,216.01 M118.66,220.31 C119.21,220.31 120.99,220.66 121.96,220.31 C122.93,219.95 124.06,218.53 124.48,218.18 M115.20,199.94 C115.68,200.06 117.12,200.71 118.08,200.65 C119.03,200.59 119.98,199.87 120.94,199.57 C121.89,199.28 122.85,198.83 123.81,198.87 C124.76,198.91 126.21,199.66 126.69,199.81 M126.69,199.81 C127.15,200.07 128.62,200.74 129.47,201.35 C130.32,201.96 131.42,203.14 131.81,203.50 M161.80,227.56 C161.69,227.79 161.48,228.80 161.14,228.94 C160.79,229.07 159.96,228.46 159.72,228.36 M144.41,223.35 C144.48,223.77 144.95,225.07 144.83,225.87 C144.71,226.67 143.88,227.78 143.68,228.16 M143.68,228.16 C144.13,228.35 145.45,229.28 146.34,229.33 C147.23,229.37 148.14,228.53 149.03,228.43 C149.92,228.33 150.81,228.60 151.70,228.72 C152.59,228.85 153.48,229.11 154.37,229.21 C155.26,229.30 156.14,229.44 157.04,229.30 C157.93,229.16 159.28,228.52 159.72,228.36 M159.72,228.36 C159.51,228.78 158.54,229.94 158.43,230.84 C158.31,231.75 159.08,232.85 159.02,233.77 C158.96,234.68 158.53,235.51 158.05,236.33 C157.57,237.14 156.36,237.79 156.13,238.66 C155.91,239.54 156.72,240.66 156.71,241.58 C156.69,242.50 156.14,243.77 156.03,244.21 M163.59,259.28 C163.56,259.39 163.44,259.93 163.42,259.92 C163.40,259.92 163.44,259.37 163.45,259.26 M154.72,245.31 C154.62,245.87 154.08,247.56 154.08,248.68 C154.08,249.80 154.62,251.48 154.73,252.04 M140.44,277.29 C140.84,277.09 142.33,276.78 142.86,276.13 C143.38,275.48 143.14,274.10 143.60,273.39 C144.06,272.67 145.29,272.12 145.63,271.86 M140.44,277.29 C140.69,277.66 141.62,278.72 141.93,279.50 C142.24,280.29 142.38,281.12 142.31,282.01 C142.23,282.90 141.36,284.00 141.48,284.84 C141.60,285.68 142.75,286.68 143.00,287.05 M145.63,271.86 C146.09,271.80 147.46,271.56 148.38,271.51 C149.31,271.46 150.70,271.57 151.16,271.58 M151.16,271.58 C151.57,271.77 152.85,272.25 153.60,272.70 C154.35,273.16 155.06,273.66 155.67,274.28 C156.28,274.90 156.67,275.79 157.26,276.44 C157.85,277.09 158.87,277.89 159.20,278.18 M143.00,287.05 C143.23,287.04 144.14,286.76 144.37,286.98 C144.60,287.20 144.36,288.12 144.36,288.35 M144.36,288.35 C145.00,288.40 147.02,288.26 148.18,288.68 C149.34,289.10 150.80,290.50 151.32,290.87 M159.07,287.25 C158.66,287.50 157.41,288.19 156.61,288.73 C155.82,289.26 155.16,290.11 154.28,290.47 C153.40,290.82 151.82,290.80 151.32,290.87 M126.27,274.06 C126.77,274.04 128.30,273.87 129.28,273.93 C130.26,274.00 131.27,273.93 132.14,274.46 C133.01,274.99 133.57,276.92 134.52,277.13 C135.46,277.33 136.84,275.64 137.83,275.67 C138.82,275.70 140.01,277.02 140.44,277.29 M131.74,255.73 C132.23,255.90 133.67,256.48 134.67,256.75 C135.67,257.03 136.84,256.86 137.74,257.40 C138.64,257.94 139.13,259.51 140.05,259.99 C140.97,260.47 142.73,260.23 143.27,260.28 M143.27,260.28 C143.54,260.72 144.68,262.00 144.92,262.95 C145.16,263.91 144.75,265.00 144.72,266.01 C144.70,267.02 144.62,268.04 144.77,269.02 C144.92,269.99 145.48,271.39 145.63,271.86 M130.62,293.56 C130.99,293.27 132.08,292.32 132.87,291.83 C133.66,291.33 134.55,291.02 135.38,290.59 C136.21,290.16 136.97,289.61 137.83,289.23 C138.68,288.85 139.64,288.66 140.50,288.30 C141.36,287.93 142.58,287.26 143.00,287.05 M163.45,259.26 C162.99,259.48 161.38,259.93 160.69,260.60 C159.99,261.27 159.96,262.61 159.29,263.30 C158.61,263.99 157.22,263.97 156.65,264.76 C156.07,265.55 156.44,267.29 155.83,268.05 C155.22,268.80 153.77,268.72 152.99,269.31 C152.21,269.89 151.47,271.20 151.16,271.58 M154.73,252.04 C154.35,252.30 153.30,253.25 152.48,253.59 C151.65,253.93 150.24,254.01 149.79,254.09 M149.79,254.09 C149.42,254.43 148.20,255.32 147.58,256.12 C146.97,256.92 146.81,258.21 146.09,258.90 C145.37,259.59 143.74,260.05 143.27,260.28 M169.02,272.88 C168.64,273.14 167.54,274.06 166.71,274.48 C165.88,274.90 164.78,274.82 164.03,275.39 C163.28,275.95 163.00,277.40 162.20,277.86 C161.39,278.33 159.70,278.13 159.20,278.18 M139.75,304.08 C139.86,303.63 139.99,302.25 140.39,301.42 C140.79,300.59 142.05,300.01 142.16,299.09 C142.27,298.17 140.80,296.79 141.06,295.92 C141.32,295.05 143.40,294.71 143.71,293.85 C144.01,292.99 142.78,291.68 142.89,290.76 C143.00,289.85 144.12,288.75 144.36,288.35 M153.68,301.99 C153.69,301.50 153.87,300.01 153.71,299.08 C153.56,298.14 153.10,297.27 152.75,296.38 C152.39,295.48 151.82,294.64 151.58,293.72 C151.34,292.80 151.37,291.34 151.32,290.87 M164.23,289.25 C163.83,289.02 162.66,288.20 161.80,287.87 C160.94,287.54 159.52,287.35 159.07,287.25 M139.11,172.08 C138.67,172.26 137.35,173.23 136.46,173.17 C135.57,173.10 134.66,171.83 133.77,171.67 C132.88,171.51 131.56,172.11 131.11,172.20 M139.11,172.08 C139.31,172.51 139.98,173.79 140.33,174.67 C140.68,175.55 141.21,176.38 141.21,177.35 C141.21,178.32 140.16,179.57 140.35,180.49 C140.54,181.41 141.95,182.01 142.34,182.88 C142.74,183.74 142.65,185.22 142.72,185.69 M128.44,183.76 C128.92,183.73 130.39,183.46 131.33,183.56 C132.27,183.67 133.16,184.09 134.07,184.36 C134.98,184.64 135.88,185.03 136.80,185.20 C137.73,185.38 138.70,185.29 139.64,185.41 C140.57,185.53 141.96,185.82 142.42,185.91 M142.42,185.91 C142.39,185.80 142.15,185.33 142.20,185.29 C142.25,185.25 142.63,185.62 142.72,185.69 M139.71,171.43 C139.77,171.58 140.17,172.25 140.06,172.36 C139.96,172.47 139.27,172.13 139.11,172.08 M126.55,168.84 C126.98,169.04 128.41,169.50 129.17,170.06 C129.93,170.62 130.79,171.84 131.11,172.20 M135.04,202.21 C135.19,201.82 135.50,200.55 135.94,199.82 C136.39,199.08 137.21,198.52 137.71,197.81 C138.20,197.10 138.81,196.43 138.92,195.55 C139.03,194.66 138.09,193.30 138.37,192.49 C138.64,191.68 139.95,191.34 140.57,190.68 C141.19,190.03 141.76,189.35 142.07,188.55 C142.38,187.76 142.36,186.35 142.42,185.91 M118.00,220.70 C118.14,220.82 118.75,221.46 118.86,221.40 C118.97,221.33 118.69,220.49 118.66,220.31 M107.85,213.03 C107.68,212.56 106.98,211.23 106.79,210.23 C106.61,209.23 107.13,207.96 106.76,207.03 C106.38,206.11 104.92,205.08 104.56,204.69 M115.20,199.94 C114.98,200.00 114.29,200.36 113.90,200.28 C113.51,200.20 113.02,199.59 112.84,199.45 M109.48,199.94 C109.73,199.74 110.45,198.77 111.01,198.69 C111.57,198.61 112.54,199.32 112.84,199.45 M124.48,218.18 C124.89,218.39 126.30,218.77 126.91,219.43 C127.52,220.09 127.64,221.32 128.13,222.12 C128.62,222.92 129.00,223.84 129.84,224.22 C130.68,224.60 132.37,223.98 133.17,224.40 C133.98,224.82 134.42,226.36 134.67,226.75 M134.67,226.75 C134.99,227.11 135.87,228.38 136.59,228.92 C137.31,229.46 138.13,229.81 139.01,230.01 C139.89,230.21 141.40,230.11 141.88,230.13 M117.34,236.02 C117.29,236.10 117.06,236.50 117.07,236.51 C117.08,236.51 117.34,236.14 117.40,236.06 M134.67,226.75 C134.35,227.14 133.66,228.82 132.76,229.11 C131.85,229.40 130.17,228.25 129.24,228.50 C128.32,228.74 127.92,229.99 127.19,230.60 C126.45,231.20 125.55,231.50 124.84,232.14 C124.12,232.77 123.65,233.87 122.88,234.42 C122.11,234.96 121.15,235.15 120.24,235.42 C119.32,235.69 117.87,235.95 117.40,236.06 M119.11,253.71 C119.29,253.25 120.14,251.88 120.18,250.98 C120.22,250.08 119.47,249.19 119.35,248.29 C119.23,247.39 119.58,246.48 119.46,245.58 C119.34,244.68 118.65,243.79 118.65,242.88 C118.65,241.98 119.43,241.06 119.46,240.16 C119.49,239.26 118.94,237.91 118.84,237.46 M117.40,236.06 C117.58,236.12 118.24,236.15 118.48,236.39 C118.72,236.62 118.78,237.28 118.84,237.46 M56.51,216.19 C56.82,215.83 57.55,214.42 58.40,214.07 C59.26,213.71 60.83,214.51 61.62,214.06 C62.41,213.60 62.44,211.93 63.13,211.32 C63.82,210.71 65.33,210.54 65.77,210.38 M74.97,220.52 C74.98,220.06 75.36,218.52 75.00,217.73 C74.64,216.95 73.27,216.56 72.79,215.82 C72.32,215.08 72.26,213.71 72.15,213.29 M65.77,210.38 C66.27,210.69 67.71,211.76 68.77,212.24 C69.84,212.73 71.59,213.12 72.15,213.29 M49.37,201.98 C49.71,201.72 50.67,200.78 51.44,200.46 C52.22,200.14 53.15,200.19 54.00,200.06 C54.85,199.93 55.82,200.06 56.57,199.69 C57.32,199.32 57.76,198.21 58.51,197.84 C59.26,197.48 60.29,197.77 61.08,197.47 C61.86,197.18 62.85,196.31 63.21,196.08 M65.77,210.38 C65.64,209.91 64.99,208.55 64.99,207.56 C65.00,206.58 66.08,205.40 65.79,204.47 C65.49,203.54 63.39,202.93 63.21,201.98 C63.03,201.03 64.70,199.74 64.70,198.76 C64.70,197.78 63.46,196.52 63.21,196.08 M64.13,192.03 C64.18,192.26 64.43,192.94 64.43,193.40 C64.43,193.86 64.19,194.55 64.14,194.78 M63.21,196.08 C63.20,195.90 63.00,195.26 63.15,195.05 C63.31,194.83 63.98,194.82 64.14,194.78 M72.15,213.29 C72.26,212.84 72.39,211.32 72.84,210.59 C73.29,209.86 74.07,209.38 74.85,208.91 C75.64,208.43 76.89,208.32 77.54,207.74 C78.19,207.17 78.37,206.22 78.77,205.45 C79.17,204.68 79.75,203.51 79.95,203.13 M91.37,207.55 C90.82,207.54 89.12,207.72 88.10,207.52 C87.08,207.32 86.08,207.08 85.27,206.35 C84.45,205.62 84.12,203.67 83.23,203.13 C82.34,202.59 80.49,203.13 79.95,203.13 M64.14,194.78 C64.59,194.98 65.95,195.56 66.84,195.98 C67.73,196.40 68.57,196.97 69.50,197.30 C70.42,197.64 71.45,197.67 72.37,198.01 C73.29,198.34 74.09,199.03 75.03,199.32 C75.97,199.60 77.51,199.67 78.01,199.74 M79.95,203.13 C79.78,202.85 79.29,202.00 78.96,201.44 C78.64,200.87 78.17,200.02 78.01,199.74 M58.20,171.48 C58.40,171.73 58.90,172.75 59.41,172.94 C59.93,173.14 60.98,172.71 61.29,172.66 M64.13,192.03 C64.36,191.54 64.98,190.04 65.53,189.13 C66.07,188.21 67.10,186.95 67.41,186.52 M67.41,186.52 C67.40,186.06 67.75,184.53 67.33,183.79 C66.91,183.06 65.32,182.84 64.91,182.10 C64.49,181.37 65.19,180.14 64.83,179.38 C64.47,178.62 63.14,178.29 62.75,177.54 C62.37,176.79 62.77,175.69 62.52,174.88 C62.28,174.07 61.50,173.03 61.29,172.66 M71.66,169.36 C71.28,169.67 70.21,170.77 69.40,171.23 C68.60,171.69 67.72,171.93 66.83,172.11 C65.93,172.28 64.95,172.20 64.03,172.29 C63.11,172.38 61.75,172.60 61.29,172.66 M109.48,199.94 C109.26,199.52 108.58,198.24 108.16,197.38 C107.74,196.51 107.35,195.64 106.98,194.75 C106.61,193.87 106.30,192.95 105.93,192.07 C105.56,191.18 104.94,189.88 104.74,189.44 M91.72,187.70 C92.24,187.65 93.87,187.71 94.84,187.38 C95.80,187.04 96.57,186.10 97.51,185.68 C98.45,185.27 99.98,185.01 100.47,184.88 M100.47,184.88 C100.94,185.15 102.55,185.78 103.27,186.54 C103.98,187.31 104.49,188.96 104.74,189.44 M104.74,189.44 C105.12,189.26 106.30,188.81 107.02,188.35 C107.74,187.89 108.30,187.03 109.07,186.69 C109.84,186.35 110.80,186.48 111.63,186.30 C112.47,186.12 113.27,185.87 114.08,185.61 C114.88,185.35 116.05,184.88 116.44,184.73 M125.42,185.78 C125.05,185.51 124.01,184.53 123.19,184.14 C122.38,183.75 121.38,183.75 120.52,183.46 C119.66,183.16 118.44,182.56 118.03,182.38 M143.09,235.75 C142.95,235.41 142.49,234.39 142.26,233.69 C142.04,232.98 141.82,231.89 141.73,231.53 M143.09,235.75 C142.95,236.20 142.53,237.53 142.23,238.41 C141.92,239.29 141.78,240.24 141.25,241.03 C140.72,241.82 139.44,242.30 139.06,243.15 C138.67,244.00 138.95,245.61 138.93,246.11 M141.73,231.53 C141.22,231.62 139.48,231.47 138.71,232.06 C137.93,232.65 137.87,234.50 137.08,235.06 C136.29,235.62 134.88,235.08 133.98,235.44 C133.08,235.81 132.46,236.67 131.69,237.27 C130.92,237.87 130.20,238.56 129.36,239.02 C128.52,239.49 127.09,239.90 126.63,240.07 M138.93,246.11 C138.67,246.59 138.22,248.44 137.35,249.00 C136.48,249.56 134.64,248.98 133.73,249.49 C132.82,250.00 132.20,251.65 131.89,252.08 M154.72,245.31 C154.49,244.94 154.09,243.45 153.32,243.06 C152.56,242.68 150.99,243.27 150.14,242.99 C149.28,242.71 148.77,242.02 148.21,241.38 C147.66,240.73 147.32,239.83 146.81,239.13 C146.31,238.42 145.82,237.70 145.20,237.14 C144.58,236.57 143.44,235.98 143.09,235.75 M141.88,230.13 C141.95,230.25 142.34,230.65 142.31,230.88 C142.29,231.12 141.83,231.42 141.73,231.53 M149.79,254.09 C149.40,253.86 148.28,253.11 147.48,252.68 C146.68,252.25 145.77,251.98 144.98,251.53 C144.19,251.09 143.45,250.58 142.74,250.02 C142.04,249.47 141.38,248.85 140.74,248.20 C140.11,247.54 139.24,246.46 138.93,246.11 M118.84,237.46 C119.30,237.52 120.75,237.52 121.60,237.83 C122.46,238.14 123.16,238.95 123.99,239.32 C124.83,239.70 126.19,239.95 126.63,240.07 M74.80,182.81 C75.07,182.33 76.32,181.01 76.42,179.96 C76.53,178.91 75.34,177.57 75.42,176.51 C75.50,175.46 76.65,174.11 76.90,173.63 M74.80,182.81 C75.12,183.17 75.88,184.58 76.72,184.97 C77.55,185.35 78.85,184.93 79.80,185.11 C80.74,185.30 81.65,185.55 82.40,186.08 C83.16,186.61 83.99,187.91 84.30,188.28 M90.26,187.07 C89.79,187.31 88.44,188.30 87.45,188.50 C86.46,188.70 84.83,188.32 84.30,188.28 M86.98,170.52 C86.51,170.47 84.93,169.84 84.13,170.22 C83.33,170.59 82.99,172.48 82.16,172.79 C81.34,173.09 80.05,171.90 79.17,172.04 C78.29,172.18 77.28,173.37 76.90,173.63 M67.41,186.52 C67.89,186.44 69.47,186.53 70.26,186.06 C71.05,185.59 71.40,184.22 72.15,183.68 C72.91,183.14 74.35,182.95 74.80,182.81 M71.66,169.36 C72.08,169.74 73.30,170.91 74.17,171.63 C75.05,172.34 76.44,173.30 76.90,173.63 M78.01,199.74 C78.15,199.32 78.57,198.06 78.86,197.22 C79.14,196.38 79.13,195.38 79.74,194.72 C80.35,194.06 81.97,193.96 82.51,193.26 C83.05,192.56 82.69,191.37 82.99,190.54 C83.29,189.71 84.08,188.65 84.30,188.28 M89.04,167.82 C88.96,168.11 88.89,169.13 88.55,169.58 C88.21,170.03 87.25,170.36 86.98,170.52 M103.58,172.34 C103.76,171.94 104.41,170.77 104.68,169.94 C104.94,169.10 104.93,168.19 105.18,167.35 C105.44,166.52 106.01,165.78 106.21,164.93 C106.41,164.08 106.08,163.07 106.39,162.25 C106.70,161.43 107.76,160.84 108.09,160.02 C108.41,159.21 108.32,158.27 108.33,157.37 C108.34,156.46 107.78,155.38 108.14,154.57 C108.49,153.77 110.26,153.39 110.46,152.54 C110.67,151.69 109.30,150.37 109.35,149.47 C109.40,148.58 110.30,147.93 110.75,147.16 C111.20,146.38 111.59,145.59 112.07,144.82 C112.55,144.05 113.44,143.41 113.65,142.56 C113.85,141.71 113.37,140.20 113.31,139.73 M105.15,175.04 C105.72,175.01 107.46,174.59 108.55,174.82 C109.64,175.04 110.61,176.11 111.69,176.39 C112.77,176.67 114.49,176.47 115.05,176.48 M116.01,175.35 C115.99,175.50 116.04,176.03 115.88,176.22 C115.72,176.41 115.18,176.44 115.05,176.48 M89.04,167.82 C89.42,168.03 90.51,168.80 91.31,169.08 C92.11,169.35 93.05,169.16 93.84,169.48 C94.63,169.79 95.18,170.85 96.04,170.96 C96.89,171.07 98.14,169.89 98.95,170.12 C99.77,170.36 100.14,172.00 100.91,172.36 C101.69,172.73 103.14,172.34 103.58,172.34 M118.03,182.38 C117.91,181.82 117.82,180.02 117.32,179.03 C116.82,178.05 115.42,176.91 115.05,176.48 M126.55,168.84 C126.02,168.96 124.27,169.09 123.37,169.59 C122.47,170.09 121.97,171.26 121.12,171.84 C120.27,172.43 119.13,172.54 118.27,173.12 C117.42,173.71 116.39,174.98 116.01,175.35 " fill="none" stroke="#d8d8d8" stroke-width="1.0" stroke-linecap="round" filter="url(#crackblur)" opacity="0.35" transform="translate(0.9 0.9)"/>
<path d="M191.41,172.58 C191.08,172.45 190.03,171.67 189.47,171.79 C188.91,171.92 188.29,173.08 188.05,173.33 M92.93,252.74 C92.66,252.35 92.13,250.93 91.34,250.43 C90.55,249.94 88.85,250.40 88.19,249.77 C87.53,249.14 87.89,247.44 87.37,246.66 C86.85,245.87 85.76,245.70 85.10,245.07 C84.43,244.45 84.04,243.54 83.37,242.91 C82.70,242.29 81.81,241.91 81.08,241.35 C80.36,240.79 79.35,239.85 79.01,239.55 M92.21,255.75 C91.69,255.79 90.14,256.05 89.11,255.98 C88.09,255.90 87.09,255.22 86.06,255.29 C85.03,255.36 83.96,256.42 82.93,256.41 C81.90,256.39 80.41,255.39 79.90,255.19 M79.01,239.55 C78.86,239.63 78.44,239.91 78.13,240.00 C77.82,240.09 77.31,240.06 77.15,240.08 M79.90,255.19 C80.00,254.74 80.79,253.29 80.50,252.48 C80.20,251.67 78.64,251.08 78.13,250.31 C77.62,249.53 77.60,248.67 77.44,247.83 C77.28,246.99 77.26,246.13 77.17,245.28 C77.08,244.43 76.89,243.59 76.88,242.73 C76.88,241.86 77.10,240.52 77.15,240.08 M167.13,188.38 C167.26,187.97 167.67,186.74 167.92,185.92 C168.16,185.09 168.39,184.26 168.58,183.42 C168.78,182.58 169.08,181.77 169.11,180.89 C169.14,180.00 168.54,178.94 168.74,178.11 C168.94,177.27 169.90,176.64 170.32,175.86 C170.74,175.09 171.10,173.85 171.26,173.45 M167.13,188.38 C167.59,188.44 169.02,188.86 169.92,188.76 C170.82,188.66 171.66,188.16 172.52,187.79 C173.38,187.42 174.16,186.51 175.07,186.52 C175.99,186.53 177.09,187.90 178.00,187.86 C178.90,187.82 179.64,186.59 180.51,186.30 C181.38,186.01 182.77,186.14 183.22,186.10 M171.26,173.45 C171.70,173.36 173.03,172.94 173.90,172.94 C174.77,172.95 175.61,173.33 176.47,173.45 C177.33,173.58 178.19,173.61 179.05,173.70 C179.91,173.80 180.76,174.09 181.63,174.03 C182.51,173.97 183.43,173.24 184.29,173.35 C185.15,173.46 186.37,174.48 186.79,174.70 M183.22,186.10 C183.24,185.59 183.02,183.95 183.36,183.02 C183.70,182.08 184.77,181.37 185.24,180.48 C185.71,179.58 185.91,178.60 186.17,177.64 C186.43,176.68 186.69,175.19 186.79,174.70 M175.73,155.61 C175.58,156.06 175.19,157.43 174.82,158.28 C174.44,159.13 174.08,159.98 173.46,160.70 C172.85,161.42 171.63,161.79 171.14,162.58 C170.66,163.37 170.92,164.57 170.56,165.43 C170.20,166.29 169.24,167.34 168.98,167.72 M188.05,173.33 C188.09,173.58 188.49,174.58 188.28,174.81 C188.07,175.04 187.04,174.72 186.79,174.70 M169.02,299.41 C169.60,299.45 171.39,299.43 172.53,299.68 C173.66,299.93 175.28,300.71 175.82,300.92 M169.02,299.41 C168.46,299.55 166.57,299.66 165.68,300.28 C164.80,300.91 164.52,302.42 163.73,303.19 C162.94,303.95 161.42,304.60 160.96,304.88 M160.96,304.88 C161.03,305.31 161.48,306.57 161.38,307.44 C161.29,308.31 160.45,309.24 160.40,310.11 C160.35,310.98 160.84,311.80 161.08,312.64 C161.33,313.48 161.55,314.33 161.87,315.16 C162.20,316.00 162.92,316.80 163.04,317.66 C163.16,318.51 162.68,319.41 162.59,320.28 C162.50,321.15 162.40,322.03 162.50,322.88 C162.61,323.73 163.16,324.55 163.21,325.41 C163.27,326.27 162.73,327.18 162.83,328.03 C162.93,328.88 163.74,329.68 163.82,330.54 C163.91,331.39 163.42,332.30 163.36,333.16 C163.31,334.03 163.50,334.88 163.50,335.74 C163.50,336.61 163.38,337.48 163.37,338.34 C163.35,339.21 163.36,340.07 163.41,340.93 C163.46,341.79 163.47,342.65 163.67,343.50 C163.87,344.34 164.43,345.16 164.62,346.00 C164.80,346.85 164.86,347.71 164.76,348.58 C164.65,349.45 163.87,350.38 163.98,351.24 C164.09,352.09 165.29,352.85 165.41,353.71 C165.54,354.56 164.72,355.49 164.73,356.35 C164.75,357.21 165.39,358.45 165.52,358.87 M175.82,300.92 C175.58,301.31 174.54,302.43 174.37,303.26 C174.20,304.10 174.72,305.06 174.81,305.94 C174.91,306.82 175.12,307.73 174.94,308.56 C174.76,309.40 174.04,310.14 173.74,310.95 C173.44,311.76 173.26,312.60 173.15,313.44 C173.04,314.29 173.09,315.16 173.07,316.03 C173.06,316.89 173.18,317.78 173.06,318.63 C172.94,319.47 172.39,320.24 172.35,321.10 C172.30,321.96 172.87,322.92 172.78,323.77 C172.70,324.63 172.01,325.37 171.84,326.21 C171.66,327.04 172.03,327.97 171.74,328.79 C171.44,329.60 170.53,330.31 170.06,331.09 C169.59,331.87 168.86,332.61 168.92,333.48 C168.97,334.36 170.15,335.44 170.36,336.34 C170.58,337.25 170.60,338.12 170.22,338.92 C169.84,339.71 168.36,340.32 168.09,341.14 C167.81,341.95 168.61,342.96 168.55,343.82 C168.50,344.67 167.78,345.41 167.75,346.27 C167.71,347.13 168.37,348.12 168.35,348.98 C168.33,349.84 168.03,350.66 167.63,351.45 C167.23,352.25 166.27,352.94 165.96,353.75 C165.64,354.56 165.79,355.46 165.72,356.31 C165.65,357.16 165.55,358.45 165.52,358.87 M199.14,178.68 C198.98,179.19 198.08,180.72 198.20,181.70 C198.31,182.68 199.57,183.60 199.81,184.57 C200.05,185.54 199.67,187.05 199.64,187.54 M199.64,187.54 C199.90,187.88 200.70,188.87 201.18,189.57 C201.65,190.27 202.28,191.38 202.50,191.74 M191.41,172.58 C191.86,172.88 193.40,173.58 194.15,174.41 C194.89,175.24 195.02,176.83 195.85,177.55 C196.68,178.26 198.59,178.49 199.14,178.68 M183.22,186.10 C183.43,186.13 184.28,186.02 184.49,186.25 C184.70,186.49 184.46,187.32 184.46,187.53 M184.46,187.53 C184.88,187.72 186.14,188.49 186.99,188.65 C187.83,188.81 188.67,188.64 189.52,188.48 C190.36,188.32 191.21,188.03 192.05,187.67 C192.89,187.32 193.74,186.27 194.58,186.37 C195.43,186.47 196.27,188.08 197.11,188.27 C197.96,188.47 199.22,187.66 199.64,187.54 M24.06,261.19 C23.72,260.87 22.82,259.73 22.02,259.27 C21.23,258.82 20.16,258.82 19.31,258.46 C18.46,258.10 17.63,257.71 16.92,257.12 C16.21,256.53 15.88,255.33 15.04,254.94 C14.21,254.55 12.68,255.30 11.91,254.80 C11.14,254.31 11.13,252.60 10.43,251.98 C9.74,251.37 8.19,251.27 7.74,251.13 M24.06,261.19 C24.09,260.69 23.75,259.00 24.25,258.19 C24.75,257.38 26.54,257.15 27.04,256.34 C27.53,255.53 27.11,254.32 27.22,253.34 C27.34,252.37 27.43,251.38 27.73,250.49 C28.03,249.60 28.49,248.77 29.01,247.98 C29.53,247.18 30.55,246.09 30.86,245.71 M7.74,251.13 C8.08,250.85 8.96,249.65 9.79,249.43 C10.61,249.21 11.82,249.90 12.70,249.81 C13.58,249.72 14.39,249.46 15.07,248.88 C15.74,248.29 16.03,246.77 16.75,246.31 C17.48,245.85 18.53,246.17 19.42,246.11 C20.31,246.04 21.30,246.22 22.09,245.91 C22.88,245.61 23.43,244.71 24.17,244.28 C24.91,243.85 26.13,243.48 26.53,243.33 M26.53,243.33 C26.91,243.48 28.11,243.87 28.83,244.27 C29.55,244.66 30.52,245.47 30.86,245.71 M24.17,230.68 C24.28,230.64 24.78,230.35 24.82,230.40 C24.86,230.45 24.46,230.88 24.39,230.97 M26.53,243.33 C26.59,242.89 27.02,241.54 26.90,240.72 C26.79,239.89 26.17,239.14 25.83,238.36 C25.48,237.57 25.06,236.79 24.83,235.98 C24.60,235.18 24.53,234.34 24.46,233.50 C24.39,232.67 24.40,231.39 24.39,230.97 M78.62,309.47 C78.20,309.21 76.71,308.61 76.10,307.89 C75.49,307.17 75.45,305.95 74.95,305.14 C74.45,304.32 73.40,303.35 73.09,302.99 M73.09,302.99 C72.49,303.03 70.68,303.29 69.47,303.24 C68.27,303.20 66.48,302.82 65.89,302.73 M61.33,305.70 C61.78,305.57 63.28,305.38 64.04,304.89 C64.80,304.39 65.58,303.09 65.89,302.73 M38.71,302.57 C39.19,302.46 40.63,302.05 41.58,301.90 C42.53,301.75 43.48,301.53 44.42,301.68 C45.35,301.83 46.27,302.42 47.19,302.79 C48.12,303.17 49.03,303.86 49.97,303.93 C50.91,304.01 52.35,303.36 52.83,303.24 M54.69,304.98 C54.53,304.84 54.05,304.42 53.74,304.13 C53.43,303.84 52.98,303.39 52.83,303.24 M73.09,302.99 C73.44,302.69 74.73,301.92 75.17,301.17 C75.62,300.42 75.46,299.32 75.79,298.50 C76.12,297.68 76.67,296.99 77.15,296.26 C77.63,295.53 78.40,294.96 78.68,294.12 C78.96,293.27 78.43,291.95 78.82,291.16 C79.21,290.38 80.65,289.70 81.01,289.41 M81.01,289.41 C80.78,289.36 79.84,289.40 79.64,289.11 C79.43,288.83 79.77,287.95 79.79,287.72 M65.89,302.73 C66.02,302.17 66.72,300.46 66.66,299.36 C66.60,298.26 65.77,297.22 65.52,296.13 C65.26,295.04 65.22,293.39 65.16,292.84 M79.79,287.72 C79.36,287.77 78.04,287.92 77.18,288.06 C76.31,288.19 75.40,288.19 74.60,288.52 C73.80,288.84 73.08,289.41 72.38,290.02 C71.68,290.62 71.24,291.95 70.39,292.14 C69.54,292.33 68.17,291.01 67.29,291.13 C66.42,291.25 65.51,292.56 65.16,292.84 M125.48,292.56 C125.88,292.80 127.01,293.84 127.87,294.00 C128.72,294.17 130.16,293.63 130.62,293.56 M130.62,293.56 C130.75,294.03 130.86,295.58 131.38,296.40 C131.91,297.23 133.18,297.71 133.75,298.51 C134.32,299.31 134.52,300.29 134.81,301.22 C135.10,302.15 135.36,303.63 135.47,304.11 M126.17,273.98 C125.94,273.85 125.28,273.28 124.81,273.23 C124.34,273.18 123.57,273.60 123.32,273.68 M126.27,274.06 C126.15,274.50 125.63,275.80 125.53,276.68 C125.43,277.55 125.71,278.45 125.66,279.33 C125.61,280.21 125.06,281.07 125.23,281.96 C125.39,282.85 126.60,283.78 126.66,284.67 C126.72,285.55 125.56,286.39 125.57,287.27 C125.59,288.15 126.76,289.08 126.74,289.97 C126.72,290.85 125.69,292.13 125.48,292.56 M115.05,287.56 C115.34,287.92 116.06,289.25 116.81,289.73 C117.55,290.22 118.66,290.16 119.52,290.48 C120.38,290.79 121.24,291.10 121.97,291.61 C122.70,292.11 123.59,293.18 123.92,293.50 M115.05,287.56 C114.99,287.04 114.55,285.49 114.67,284.44 C114.80,283.39 115.80,282.31 115.80,281.27 C115.81,280.22 114.88,278.69 114.69,278.18 M123.32,273.68 C122.80,273.84 121.22,274.32 120.17,274.65 C119.12,274.98 117.94,275.05 117.03,275.64 C116.11,276.23 115.08,277.76 114.69,278.18 M114.09,301.07 C114.63,300.78 116.19,299.76 117.33,299.34 C118.47,298.93 120.33,298.71 120.93,298.59 M114.09,301.07 C113.92,301.47 113.32,302.66 113.07,303.48 C112.82,304.30 112.75,305.16 112.60,306.00 C112.46,306.85 112.26,307.68 112.18,308.53 C112.10,309.39 112.09,310.26 112.13,311.14 C112.18,312.02 112.80,313.01 112.45,313.81 C112.10,314.62 110.23,315.12 110.03,315.95 C109.84,316.78 111.45,317.97 111.28,318.81 C111.10,319.65 109.12,320.13 108.99,320.97 C108.86,321.82 110.67,323.05 110.50,323.88 C110.34,324.72 108.26,325.18 108.00,326.00 C107.74,326.82 109.03,327.95 108.93,328.80 C108.83,329.65 107.43,330.25 107.41,331.11 C107.39,331.98 108.83,333.13 108.80,334.00 C108.78,334.87 107.54,335.49 107.28,336.31 C107.02,337.13 107.43,338.09 107.24,338.92 C107.06,339.76 106.34,340.92 106.16,341.32 M89.15,271.08 C89.44,270.66 90.42,269.49 90.87,268.60 C91.31,267.71 91.34,266.61 91.81,265.73 C92.28,264.85 93.23,264.23 93.71,263.35 C94.18,262.47 94.48,260.95 94.64,260.47 M89.15,271.08 C89.62,271.30 91.29,271.72 92.00,272.43 C92.72,273.14 92.80,274.51 93.42,275.31 C94.03,276.12 95.32,276.94 95.70,277.27 M94.64,260.47 C95.04,260.60 96.21,261.20 97.05,261.27 C97.90,261.34 98.89,260.62 99.70,260.88 C100.51,261.14 101.09,262.55 101.89,262.81 C102.70,263.06 104.10,262.47 104.54,262.41 M104.54,262.41 C104.46,262.90 103.92,264.40 104.03,265.36 C104.14,266.31 104.85,267.20 105.23,268.12 C105.61,269.04 106.36,269.92 106.32,270.89 C106.29,271.86 105.05,272.96 105.01,273.93 C104.97,274.90 105.91,276.24 106.09,276.70 M123.32,273.68 C123.08,273.30 122.31,272.20 121.88,271.39 C121.46,270.59 121.26,269.61 120.78,268.85 C120.30,268.09 119.70,267.42 119.01,266.82 C118.31,266.22 117.37,265.82 116.61,265.27 C115.86,264.72 115.06,264.20 114.47,263.52 C113.88,262.84 113.52,261.99 113.09,261.19 C112.66,260.39 112.10,259.12 111.91,258.71 M111.91,258.71 C111.57,259.06 110.66,260.31 109.90,260.83 C109.14,261.36 108.24,261.60 107.34,261.86 C106.45,262.13 105.01,262.32 104.54,262.41 M107.12,277.56 C107.01,277.52 106.63,277.45 106.46,277.31 C106.29,277.16 106.15,276.80 106.09,276.70 M168.98,167.72 C168.49,167.77 167.01,167.98 166.02,168.05 C165.04,168.11 164.03,167.89 163.05,168.10 C162.07,168.30 161.14,169.21 160.15,169.27 C159.16,169.34 157.63,168.62 157.13,168.49 M157.13,168.49 C157.07,168.93 157.13,170.33 156.81,171.12 C156.49,171.91 155.46,172.87 155.19,173.22 M167.13,188.38 C167.23,188.54 167.77,189.34 167.75,189.36 C167.72,189.38 167.11,188.63 166.98,188.49 M155.19,173.22 C155.15,173.67 154.87,175.01 154.94,175.89 C155.02,176.76 155.30,177.62 155.64,178.47 C155.97,179.32 156.79,180.13 156.97,181.00 C157.14,181.87 156.81,182.78 156.70,183.67 C156.60,184.56 156.40,185.90 156.34,186.34 M156.34,186.34 C156.46,186.33 156.95,186.14 157.07,186.24 C157.19,186.35 157.07,186.86 157.07,186.98 M166.98,188.49 C166.59,188.24 165.48,187.23 164.67,186.99 C163.86,186.75 162.96,187.14 162.13,187.04 C161.30,186.95 160.53,186.44 159.69,186.43 C158.84,186.42 157.50,186.89 157.07,186.98 M76.27,239.84 C75.84,240.09 74.66,241.11 73.69,241.33 C72.71,241.55 71.34,240.84 70.40,241.16 C69.47,241.49 68.47,242.94 68.09,243.29 M76.27,239.84 C75.97,239.46 74.74,238.43 74.45,237.51 C74.15,236.60 74.86,235.25 74.51,234.37 C74.16,233.48 72.69,233.07 72.34,232.18 C72.00,231.29 72.74,229.93 72.45,229.02 C72.16,228.10 70.91,227.08 70.61,226.69 M70.61,226.69 C70.19,226.93 68.99,227.80 68.10,228.13 C67.22,228.47 66.21,228.47 65.29,228.71 C64.37,228.96 63.04,229.44 62.59,229.59 M62.59,229.59 C62.71,230.07 62.96,231.56 63.31,232.48 C63.67,233.40 64.19,234.25 64.73,235.09 C65.26,235.94 66.08,236.67 66.52,237.55 C66.97,238.44 67.12,239.44 67.38,240.39 C67.64,241.35 67.97,242.81 68.09,243.29 M62.41,250.06 C62.42,249.83 62.44,249.15 62.51,248.70 C62.57,248.26 62.76,247.60 62.81,247.38 M62.41,250.06 C62.01,250.32 60.69,250.94 60.04,251.61 C59.38,252.27 59.13,253.38 58.49,254.06 C57.85,254.74 56.57,255.41 56.18,255.68 M43.58,248.94 C43.90,248.65 44.76,247.67 45.48,247.21 C46.19,246.75 47.21,246.74 47.85,246.18 C48.50,245.62 48.74,244.48 49.35,243.86 C49.95,243.24 50.70,242.84 51.47,242.46 C52.23,242.07 53.16,241.92 53.94,241.56 C54.72,241.19 55.77,240.48 56.14,240.26 M56.14,240.26 C56.62,240.55 58.37,241.14 59.03,242.00 C59.69,242.87 59.47,244.56 60.10,245.46 C60.73,246.35 62.36,247.06 62.81,247.38 M62.41,250.06 C62.69,250.38 63.52,251.37 64.11,251.98 C64.70,252.60 65.19,253.33 65.96,253.73 C66.73,254.13 67.88,254.05 68.70,254.38 C69.52,254.72 70.24,255.17 70.88,255.73 C71.51,256.29 71.94,257.10 72.50,257.76 C73.05,258.42 73.92,259.36 74.20,259.68 M77.15,240.08 C77.10,239.96 77.02,239.39 76.87,239.35 C76.72,239.32 76.37,239.76 76.27,239.84 M62.81,247.38 C63.34,247.15 65.09,246.69 65.97,246.01 C66.85,245.33 67.73,243.74 68.09,243.29 M79.01,239.55 C79.34,239.19 80.17,237.82 81.00,237.38 C81.84,236.93 83.16,237.27 84.03,236.87 C84.89,236.47 85.42,235.51 86.19,234.97 C86.97,234.43 88.27,233.84 88.69,233.61 M70.61,226.69 C70.69,226.51 70.96,225.95 71.12,225.58 C71.28,225.20 71.49,224.62 71.56,224.43 M71.56,224.43 C71.92,224.17 73.16,223.52 73.72,222.87 C74.29,222.22 74.77,220.91 74.97,220.52 M74.97,220.52 C75.38,220.72 76.58,221.80 77.43,221.73 C78.29,221.67 79.24,220.29 80.11,220.14 C80.97,220.00 81.76,220.73 82.60,220.87 C83.44,221.01 84.30,220.87 85.15,220.97 C85.99,221.07 87.24,221.39 87.66,221.47 M88.69,233.61 C88.45,233.12 87.27,231.69 87.25,230.68 C87.22,229.66 88.42,228.54 88.53,227.51 C88.65,226.48 88.08,225.51 87.94,224.50 C87.79,223.50 87.71,221.97 87.66,221.47 M96.52,246.31 C96.42,245.86 96.24,244.45 95.92,243.61 C95.59,242.78 95.25,241.95 94.58,241.31 C93.90,240.66 92.27,240.53 91.86,239.74 C91.45,238.95 92.39,237.44 92.12,236.58 C91.85,235.71 90.56,234.90 90.24,234.56 M88.69,233.61 C88.75,233.81 88.77,234.65 89.03,234.81 C89.28,234.97 90.04,234.60 90.24,234.56 M169.02,299.41 C168.67,299.06 167.22,298.19 166.91,297.30 C166.60,296.41 167.38,295.01 167.16,294.08 C166.93,293.15 166.05,292.53 165.57,291.72 C165.08,290.92 164.46,289.66 164.23,289.25 M180.35,299.30 C179.95,299.39 178.73,299.53 177.97,299.80 C177.22,300.07 176.18,300.73 175.82,300.92 M180.35,299.30 C180.34,298.66 179.95,296.63 180.29,295.45 C180.63,294.26 182.03,292.74 182.37,292.20 M182.37,292.20 C182.17,291.69 181.40,290.23 181.17,289.19 C180.93,288.14 180.99,286.49 180.95,285.95 M180.95,285.95 C180.49,285.89 178.87,286.12 178.15,285.62 C177.44,285.12 177.33,283.53 176.67,282.94 C176.00,282.36 174.56,282.26 174.14,282.12 M174.14,282.12 C173.74,282.43 172.61,283.49 171.72,283.98 C170.82,284.47 169.54,284.44 168.75,285.07 C167.95,285.71 167.70,287.11 166.95,287.80 C166.20,288.50 164.69,289.01 164.23,289.25 M183.57,301.77 C184.04,301.68 185.44,301.33 186.38,301.23 C187.32,301.13 188.26,301.10 189.20,301.19 C190.14,301.29 191.09,301.79 192.03,301.79 C192.97,301.79 193.90,301.22 194.84,301.18 C195.78,301.14 197.19,301.50 197.66,301.56 M180.35,299.30 C180.66,299.45 181.70,299.76 182.24,300.17 C182.78,300.59 183.35,301.51 183.57,301.77 M200.90,289.84 C200.48,290.02 199.21,290.64 198.35,290.93 C197.49,291.22 196.65,291.66 195.75,291.59 C194.84,291.51 193.82,290.52 192.92,290.48 C192.01,290.45 191.23,291.37 190.34,291.37 C189.44,291.37 188.40,290.22 187.54,290.49 C186.68,290.77 186.03,292.72 185.17,293.01 C184.31,293.29 182.84,292.33 182.37,292.20 M200.90,289.84 C200.95,290.38 201.35,292.07 201.21,293.08 C201.06,294.09 200.31,294.93 200.04,295.91 C199.77,296.89 199.99,298.00 199.60,298.94 C199.20,299.88 197.98,301.12 197.66,301.56 M202.40,288.13 C202.32,288.32 202.17,288.94 201.92,289.22 C201.67,289.51 201.07,289.74 200.90,289.84 M187.16,197.75 C187.68,197.97 189.21,198.98 190.27,199.08 C191.32,199.18 192.43,198.45 193.50,198.33 C194.57,198.21 196.15,198.34 196.68,198.34 M187.16,197.75 C186.77,198.03 185.27,198.65 184.79,199.44 C184.30,200.22 184.69,201.65 184.23,202.45 C183.76,203.25 182.59,203.54 182.00,204.25 C181.40,204.96 180.89,206.30 180.67,206.70 M180.67,206.70 C180.79,207.12 181.05,208.43 181.40,209.22 C181.75,210.01 182.33,210.68 182.78,211.42 C183.22,212.16 183.84,213.30 184.05,213.67 M184.46,187.53 C184.49,187.98 184.50,189.34 184.67,190.21 C184.84,191.07 185.05,191.93 185.47,192.73 C185.88,193.53 186.85,194.18 187.14,195.02 C187.42,195.86 187.16,197.29 187.16,197.75 M201.17,194.57 C201.31,194.34 201.78,193.70 202.01,193.23 C202.23,192.76 202.42,191.99 202.50,191.74 M211.33,209.48 C210.85,209.40 209.34,208.81 208.46,208.99 C207.59,209.16 206.88,210.05 206.08,210.53 C205.28,211.00 204.52,211.67 203.64,211.83 C202.77,211.98 201.70,211.34 200.81,211.47 C199.92,211.59 198.74,212.41 198.33,212.59 M182.74,217.35 C182.24,217.56 180.65,218.06 179.71,218.60 C178.77,219.15 178.03,220.06 177.10,220.63 C176.17,221.20 174.63,221.77 174.14,221.99 M174.14,221.99 C173.82,222.44 172.88,223.76 172.27,224.65 C171.65,225.53 170.73,226.87 170.42,227.32 M170.42,227.32 C170.84,227.57 172.01,228.57 172.94,228.85 C173.87,229.13 175.09,228.67 176.00,228.99 C176.91,229.32 177.49,230.48 178.40,230.81 C179.31,231.15 180.55,230.63 181.45,230.99 C182.35,231.35 182.93,232.51 183.80,232.95 C184.66,233.40 186.16,233.55 186.63,233.66 M188.80,230.56 C188.58,230.79 187.85,231.44 187.49,231.96 C187.13,232.47 186.78,233.38 186.63,233.66 M201.14,226.97 C200.91,227.20 200.20,227.85 199.77,228.32 C199.33,228.79 198.74,229.55 198.53,229.80 M211.33,209.48 C211.77,209.35 213.15,208.51 213.98,208.70 C214.81,208.90 215.51,210.19 216.31,210.65 C217.10,211.11 217.92,211.43 218.77,211.47 C219.61,211.51 220.51,211.13 221.39,210.91 C222.27,210.69 223.22,209.91 224.04,210.15 C224.87,210.39 225.52,212.05 226.34,212.32 C227.16,212.59 228.10,211.90 228.97,211.75 C229.84,211.59 230.73,211.26 231.57,211.39 C232.41,211.52 233.18,212.18 233.99,212.52 C234.81,212.85 235.58,213.49 236.45,213.39 C237.31,213.28 238.33,211.92 239.18,211.90 C240.04,211.88 240.76,212.97 241.58,213.28 C242.39,213.59 243.25,213.51 244.08,213.76 C244.90,214.01 245.65,214.90 246.52,214.77 C247.38,214.63 248.43,213.02 249.29,212.95 C250.15,212.89 250.87,214.00 251.68,214.38 C252.49,214.75 253.30,215.06 254.14,215.22 C254.97,215.38 255.85,215.20 256.68,215.35 C257.51,215.50 258.30,216.03 259.14,216.14 C259.99,216.24 260.87,215.94 261.73,215.95 C262.58,215.96 263.41,216.11 264.25,216.20 C265.10,216.28 265.92,216.53 266.78,216.45 C267.65,216.37 268.60,215.50 269.43,215.69 C270.26,215.89 270.93,217.40 271.76,217.64 C272.58,217.88 273.50,217.37 274.38,217.14 C275.26,216.91 276.21,216.04 277.04,216.27 C277.87,216.49 278.52,218.11 279.33,218.48 C280.14,218.84 281.04,218.43 281.89,218.47 C282.74,218.50 283.55,218.85 284.42,218.70 C285.29,218.55 286.28,217.44 287.12,217.56 C287.96,217.68 288.63,219.21 289.45,219.42 C290.28,219.64 291.25,218.71 292.08,218.85 C292.92,219.00 293.62,220.26 294.47,220.29 C295.32,220.32 296.31,219.12 297.18,219.03 C298.04,218.94 298.81,219.68 299.65,219.76 C300.49,219.84 301.38,219.53 302.24,219.51 C303.09,219.49 303.95,219.42 304.78,219.61 C305.61,219.80 306.41,220.27 307.22,220.65 C308.03,221.02 308.80,221.71 309.63,221.85 C310.47,221.99 311.37,221.54 312.23,221.48 C313.09,221.43 313.98,221.19 314.79,221.50 C315.61,221.81 316.30,223.14 317.13,223.32 C317.96,223.51 319.34,222.71 319.78,222.59 M198.10,212.83 C198.01,213.34 197.32,214.97 197.60,215.89 C197.88,216.82 199.27,217.51 199.77,218.38 C200.28,219.26 200.70,220.16 200.64,221.16 C200.58,222.16 199.35,223.41 199.43,224.38 C199.51,225.35 200.85,226.54 201.14,226.97 M188.80,230.56 C189.35,230.70 191.04,231.38 192.13,231.38 C193.21,231.38 194.26,230.84 195.33,230.57 C196.40,230.31 198.00,229.93 198.53,229.80 M45.49,271.61 C45.58,270.99 45.74,269.13 46.02,267.92 C46.30,266.72 46.98,264.97 47.17,264.38 M45.49,271.61 C44.94,271.72 43.25,272.34 42.19,272.26 C41.12,272.18 40.14,271.43 39.10,271.13 C38.07,270.83 36.49,270.57 35.96,270.46 M47.17,264.38 C46.77,264.11 45.29,263.59 44.76,262.79 C44.24,261.98 44.47,260.44 44.02,259.56 C43.58,258.68 42.95,257.98 42.10,257.50 C41.25,257.02 39.71,257.21 38.91,256.68 C38.11,256.15 37.57,254.71 37.30,254.32 M35.96,270.46 C35.80,269.92 35.57,268.12 34.99,267.20 C34.41,266.28 32.88,265.31 32.46,264.93 M32.46,264.93 C32.61,264.46 32.82,262.96 33.35,262.13 C33.88,261.30 35.17,260.82 35.64,259.97 C36.10,259.11 35.88,257.94 36.15,257.00 C36.43,256.06 37.11,254.76 37.30,254.32 M56.18,255.68 C56.05,255.81 55.45,256.14 55.39,256.44 C55.33,256.73 55.73,257.28 55.80,257.45 M55.80,257.45 C55.40,257.68 54.03,258.19 53.36,258.84 C52.70,259.49 52.55,260.77 51.84,261.35 C51.12,261.94 49.87,261.86 49.10,262.36 C48.32,262.86 47.49,264.04 47.17,264.38 M36.79,247.97 C37.34,248.17 38.95,249.00 40.08,249.16 C41.22,249.32 43.00,248.98 43.58,248.94 M36.79,247.97 C36.65,248.51 35.86,250.17 35.94,251.23 C36.03,252.29 37.07,253.80 37.30,254.32 M25.43,264.47 C26.01,264.65 27.72,265.48 28.89,265.55 C30.06,265.63 31.87,265.03 32.46,264.93 M36.02,247.04 C35.59,246.92 34.31,246.55 33.45,246.33 C32.59,246.11 31.29,245.81 30.86,245.71 M36.02,247.04 C36.15,247.07 36.66,247.04 36.78,247.19 C36.91,247.35 36.79,247.84 36.79,247.97 M25.43,264.47 C25.04,264.75 23.72,265.43 23.09,266.12 C22.46,266.80 22.20,267.83 21.65,268.59 C21.10,269.35 20.41,269.98 19.79,270.67 C19.17,271.37 18.23,272.40 17.92,272.75 M31.20,277.04 C30.79,276.89 29.62,276.25 28.73,276.16 C27.85,276.07 26.80,276.57 25.91,276.49 C25.02,276.42 24.17,276.23 23.41,275.72 C22.65,275.22 22.13,273.86 21.34,273.47 C20.55,273.07 19.10,273.36 18.65,273.34 M31.20,277.04 C31.49,276.69 32.39,275.67 32.90,274.92 C33.41,274.18 33.74,273.30 34.25,272.56 C34.76,271.81 35.68,270.81 35.96,270.46 M38.77,288.32 C38.38,288.08 37.17,287.43 36.44,286.88 C35.71,286.34 35.09,285.66 34.40,285.07 C33.71,284.47 32.64,283.62 32.29,283.34 M38.77,288.32 C38.79,288.84 39.29,290.53 38.86,291.46 C38.42,292.38 36.74,292.98 36.17,293.87 C35.59,294.75 35.49,295.76 35.41,296.78 C35.34,297.80 35.66,299.45 35.71,299.98 M33.21,300.38 C32.80,300.02 31.73,298.57 30.78,298.21 C29.83,297.86 28.46,298.58 27.50,298.24 C26.55,297.90 25.98,296.54 25.04,296.17 C24.09,295.79 22.36,296.05 21.83,296.02 M23.44,286.63 C23.10,287.14 22.07,288.66 21.38,289.68 C20.69,290.69 19.65,292.21 19.30,292.72 M21.83,296.02 C21.67,295.71 21.29,294.69 20.87,294.14 C20.44,293.59 19.56,292.95 19.30,292.72 M31.20,277.04 C31.31,277.56 31.67,279.12 31.85,280.17 C32.03,281.22 32.22,282.81 32.29,283.34 M18.65,273.34 C18.85,273.77 19.40,275.07 19.83,275.92 C20.27,276.76 20.86,277.55 21.25,278.41 C21.63,279.27 22.03,280.13 22.15,281.09 C22.26,282.05 21.72,283.24 21.94,284.17 C22.15,285.09 23.19,286.22 23.44,286.63 M38.71,302.57 C38.38,302.45 37.22,302.28 36.72,301.85 C36.22,301.41 35.88,300.29 35.71,299.98 M135.47,304.11 C135.83,304.31 136.91,305.28 137.62,305.27 C138.33,305.26 139.40,304.28 139.75,304.08 M145.64,308.26 C145.15,307.92 143.65,306.91 142.67,306.21 C141.69,305.51 140.24,304.43 139.75,304.08 M160.96,304.88 C160.54,304.75 159.23,304.51 158.48,304.05 C157.73,303.58 157.25,302.44 156.45,302.10 C155.65,301.76 154.14,302.01 153.68,301.99 M145.64,308.26 C146.08,308.13 147.48,307.86 148.25,307.45 C149.01,307.05 149.58,306.40 150.23,305.85 C150.87,305.30 151.56,304.80 152.14,304.15 C152.71,303.51 153.43,302.35 153.68,301.99 M91.37,299.19 C91.78,299.41 92.94,300.18 93.82,300.48 C94.70,300.79 95.89,300.50 96.66,301.01 C97.43,301.53 97.69,303.04 98.45,303.58 C99.21,304.12 100.76,304.14 101.22,304.25 M91.37,299.19 C91.31,298.87 91.24,297.85 91.00,297.25 C90.75,296.66 90.08,295.89 89.90,295.61 M89.90,295.61 C90.05,295.38 90.85,294.64 90.81,294.20 C90.78,293.76 89.87,293.16 89.68,292.96 M89.68,292.96 C90.05,292.96 91.30,293.26 91.87,292.96 C92.44,292.66 92.90,291.46 93.10,291.16 M93.10,291.16 C93.65,291.36 95.25,292.43 96.36,292.37 C97.47,292.32 98.64,290.96 99.76,290.84 C100.87,290.72 102.49,291.51 103.03,291.64 M101.22,304.25 C101.62,303.97 102.99,303.24 103.62,302.59 C104.25,301.93 104.61,301.11 105.00,300.31 C105.40,299.52 105.70,298.66 105.99,297.80 C106.28,296.94 106.63,295.59 106.76,295.15 M103.03,291.64 C103.28,291.91 103.97,292.78 104.53,293.23 C105.09,293.68 106.09,294.16 106.40,294.34 M106.40,294.34 C106.54,294.36 107.13,294.34 107.19,294.48 C107.25,294.61 106.83,295.03 106.76,295.15 M78.62,309.47 C78.91,309.16 79.89,308.31 80.39,307.62 C80.88,306.92 81.12,306.02 81.58,305.30 C82.04,304.57 82.65,303.98 83.13,303.27 C83.61,302.56 83.96,301.75 84.45,301.05 C84.95,300.36 85.40,299.63 86.09,299.09 C86.78,298.56 87.96,298.43 88.60,297.85 C89.23,297.26 89.68,295.98 89.90,295.61 M81.01,289.41 C81.52,289.54 83.16,289.66 84.07,290.18 C84.98,290.70 85.54,292.08 86.48,292.54 C87.41,293.00 89.15,292.89 89.68,292.96 M79.79,287.72 C79.64,287.31 78.97,286.17 78.84,285.31 C78.71,284.45 79.12,283.42 79.03,282.55 C78.93,281.68 78.57,280.89 78.26,280.09 C77.95,279.28 77.55,278.51 77.18,277.72 C76.80,276.94 76.20,275.78 76.00,275.39 M107.12,277.56 C107.00,278.04 106.62,279.46 106.43,280.41 C106.23,281.37 106.22,282.39 105.92,283.32 C105.62,284.25 105.03,285.10 104.62,286.00 C104.22,286.90 103.74,287.78 103.47,288.72 C103.21,289.66 103.11,291.16 103.03,291.64 M114.09,301.07 C113.66,300.77 112.39,299.84 111.51,299.27 C110.62,298.70 109.56,298.34 108.77,297.65 C107.98,296.97 107.09,295.56 106.76,295.15 M73.08,271.92 C73.04,272.23 72.56,273.33 72.80,273.75 C73.03,274.18 74.22,274.36 74.50,274.48 M74.50,274.48 C74.09,274.71 72.88,275.44 72.05,275.89 C71.22,276.35 70.23,276.58 69.52,277.21 C68.81,277.84 68.45,278.97 67.79,279.67 C67.13,280.37 66.31,280.85 65.55,281.39 C64.78,281.94 64.10,282.61 63.19,282.96 C62.29,283.30 60.94,283.01 60.12,283.48 C59.30,283.95 58.57,285.38 58.26,285.76 M61.88,268.26 C61.45,268.38 59.98,268.44 59.30,268.96 C58.62,269.48 58.43,270.80 57.80,271.39 C57.16,271.99 56.22,272.08 55.49,272.53 C54.76,272.97 54.22,273.70 53.42,274.05 C52.63,274.39 51.52,274.20 50.75,274.57 C49.98,274.95 49.13,276.01 48.80,276.29 M58.26,285.76 C57.90,285.67 56.79,285.20 56.06,285.21 C55.33,285.23 54.24,285.73 53.88,285.84 M53.88,285.84 C53.52,285.57 52.47,284.77 51.75,284.26 C51.02,283.76 49.90,283.06 49.53,282.82 M94.64,260.47 C94.46,260.06 93.97,258.82 93.57,258.04 C93.16,257.25 92.43,256.13 92.21,255.75 M74.20,259.68 C74.28,260.20 74.79,261.79 74.64,262.81 C74.49,263.82 73.66,264.77 73.29,265.77 C72.91,266.76 72.42,267.75 72.39,268.77 C72.35,269.80 72.97,271.40 73.08,271.92 M76.00,275.39 C75.95,275.18 75.98,274.29 75.73,274.13 C75.48,273.98 74.71,274.42 74.50,274.48 M55.80,257.45 C56.14,257.86 57.19,259.05 57.79,259.89 C58.40,260.73 59.16,261.49 59.45,262.51 C59.74,263.54 59.12,265.07 59.52,266.03 C59.92,266.99 61.48,267.89 61.88,268.26 M65.16,292.84 C64.66,292.56 62.91,291.96 62.18,291.14 C61.45,290.32 61.43,288.81 60.77,287.91 C60.12,287.02 58.68,286.12 58.26,285.76 M45.49,271.61 C45.87,271.93 47.20,272.74 47.75,273.52 C48.30,274.31 48.63,275.83 48.80,276.29 M52.83,303.24 C52.85,302.76 52.70,301.29 52.96,300.34 C53.21,299.38 54.38,298.48 54.36,297.51 C54.34,296.54 53.14,295.50 52.83,294.51 C52.52,293.52 52.17,292.53 52.47,291.57 C52.78,290.62 54.45,289.75 54.68,288.80 C54.91,287.84 54.01,286.33 53.88,285.84 M38.77,288.32 C39.30,288.24 41.03,288.31 41.93,287.85 C42.82,287.39 43.28,286.08 44.13,285.54 C44.99,285.00 46.15,285.06 47.05,284.61 C47.95,284.16 49.11,283.12 49.53,282.82 M39.57,163.65 C39.76,164.08 40.37,165.33 40.72,166.21 C41.07,167.08 41.22,168.08 41.67,168.88 C42.12,169.69 42.92,170.27 43.44,171.03 C43.96,171.79 44.26,172.70 44.77,173.46 C45.29,174.22 46.06,174.82 46.54,175.61 C47.02,176.40 47.05,177.47 47.64,178.19 C48.24,178.90 49.69,179.60 50.10,179.89 M39.57,163.65 C39.46,164.11 39.29,165.61 38.90,166.42 C38.51,167.24 37.86,167.90 37.22,168.56 C36.59,169.23 35.62,169.68 35.10,170.42 C34.57,171.15 34.54,172.20 34.08,172.98 C33.63,173.76 32.67,174.75 32.38,175.10 M32.38,175.10 C32.78,175.30 34.00,175.86 34.76,176.31 C35.51,176.77 36.26,177.23 36.92,177.81 C37.58,178.40 38.08,179.21 38.72,179.83 C39.36,180.45 40.09,180.94 40.74,181.54 C41.39,182.14 41.87,182.98 42.62,183.44 C43.37,183.90 44.81,184.16 45.24,184.31 M40.09,161.56 C39.87,161.69 38.89,162.01 38.81,162.36 C38.72,162.70 39.45,163.44 39.57,163.65 M24.75,173.93 C25.25,174.05 26.78,174.37 27.77,174.67 C28.76,174.97 30.20,175.58 30.69,175.76 M32.38,175.10 C32.20,175.06 31.59,174.73 31.30,174.84 C31.02,174.95 30.79,175.61 30.69,175.76 M157.13,168.49 C156.92,168.12 156.31,167.01 155.90,166.28 C155.49,165.54 155.15,164.77 154.68,164.07 C154.20,163.36 153.44,162.79 153.05,162.04 C152.67,161.29 152.73,160.34 152.38,159.57 C152.02,158.81 151.26,158.24 150.93,157.46 C150.61,156.68 150.75,155.70 150.44,154.91 C150.13,154.13 149.31,153.58 149.08,152.77 C148.84,151.95 149.17,150.87 149.02,150.02 C148.87,149.16 148.59,148.36 148.18,147.62 C147.78,146.89 146.86,145.92 146.59,145.58 M155.19,173.22 C154.76,173.18 153.47,173.00 152.60,172.96 C151.74,172.93 150.82,173.28 149.99,172.99 C149.15,172.70 148.41,171.59 147.58,171.23 C146.75,170.87 145.88,170.82 145.01,170.85 C144.13,170.87 143.21,171.29 142.33,171.39 C141.45,171.48 140.15,171.42 139.71,171.43 M139.71,171.43 C139.78,170.98 139.85,169.62 140.11,168.76 C140.38,167.91 141.07,167.17 141.29,166.31 C141.52,165.45 141.10,164.42 141.47,163.59 C141.84,162.77 143.18,162.20 143.51,161.36 C143.83,160.53 143.19,159.44 143.40,158.57 C143.61,157.70 144.52,157.02 144.75,156.16 C144.99,155.30 144.89,154.35 144.80,153.41 C144.72,152.46 144.14,151.39 144.25,150.49 C144.36,149.60 145.07,148.87 145.46,148.05 C145.85,147.23 146.40,145.99 146.59,145.58 M154.05,203.28 C154.52,203.41 155.98,204.06 156.91,204.05 C157.84,204.03 158.73,203.50 159.63,203.20 C160.54,202.90 161.43,202.32 162.35,202.24 C163.28,202.17 164.26,202.71 165.19,202.74 C166.13,202.78 167.04,202.59 167.96,202.45 C168.88,202.31 170.26,202.00 170.71,201.90 M154.05,203.28 C154.15,203.70 154.19,205.04 154.67,205.78 C155.14,206.51 156.74,206.84 156.88,207.70 C157.03,208.55 155.43,210.03 155.53,210.90 C155.64,211.77 157.17,212.58 157.50,212.91 M159.77,213.71 C160.25,213.70 161.81,214.03 162.61,213.68 C163.41,213.33 164.22,211.95 164.55,211.61 M164.55,211.61 C164.89,211.30 166.04,210.49 166.59,209.76 C167.14,209.04 167.35,208.05 167.83,207.27 C168.31,206.50 168.88,205.80 169.47,205.11 C170.05,204.42 171.04,203.47 171.35,203.14 M171.35,203.14 C171.39,202.99 171.70,202.44 171.59,202.24 C171.48,202.03 170.86,201.96 170.71,201.90 M166.98,188.49 C167.25,188.89 168.23,190.07 168.60,190.93 C168.96,191.79 168.92,192.77 169.16,193.66 C169.40,194.56 170.06,195.34 170.04,196.31 C170.03,197.28 168.94,198.54 169.05,199.48 C169.16,200.41 170.44,201.50 170.71,201.90 M157.07,186.98 C157.00,187.48 157.05,189.06 156.65,189.96 C156.25,190.85 155.04,191.45 154.68,192.36 C154.31,193.27 154.85,194.51 154.46,195.41 C154.06,196.30 152.72,196.85 152.30,197.74 C151.89,198.63 152.02,200.24 151.97,200.74 M151.97,200.74 C152.11,200.98 152.49,201.73 152.84,202.15 C153.19,202.57 153.85,203.09 154.05,203.28 M180.67,206.70 C180.14,206.55 178.50,206.17 177.46,205.79 C176.41,205.42 175.43,204.90 174.41,204.46 C173.39,204.02 171.86,203.36 171.35,203.14 M174.14,221.99 C173.69,221.77 172.16,221.25 171.44,220.63 C170.72,220.01 170.28,219.14 169.83,218.28 C169.38,217.41 169.23,216.26 168.73,215.44 C168.23,214.61 167.53,213.98 166.83,213.34 C166.13,212.70 164.93,211.89 164.55,211.61 M38.31,218.83 C38.36,218.71 38.41,218.15 38.58,218.07 C38.75,217.98 39.22,218.28 39.35,218.32 M38.31,218.83 C38.17,219.33 37.63,220.81 37.46,221.84 C37.29,222.87 37.56,224.01 37.31,225.02 C37.07,226.03 36.21,227.42 35.99,227.90 M39.35,218.32 C39.73,218.60 40.81,219.54 41.62,219.97 C42.42,220.40 43.32,220.61 44.18,220.91 C45.03,221.21 45.96,221.34 46.77,221.76 C47.58,222.17 48.18,223.09 49.04,223.39 C49.90,223.69 51.44,223.54 51.92,223.57 M35.99,227.90 C36.38,228.09 37.60,228.61 38.35,229.04 C39.09,229.48 39.73,230.06 40.45,230.52 C41.17,230.98 42.07,231.21 42.69,231.81 C43.31,232.41 43.90,233.75 44.15,234.13 M44.15,234.13 C44.64,234.03 46.21,233.87 47.13,233.51 C48.06,233.14 48.85,232.46 49.71,231.96 C50.58,231.46 51.90,230.75 52.33,230.51 M52.33,230.51 C52.45,230.49 52.98,230.50 53.04,230.37 C53.11,230.24 52.78,229.83 52.72,229.72 M55.39,216.47 C55.18,216.86 54.36,217.92 54.13,218.79 C53.89,219.65 54.35,220.85 53.99,221.65 C53.62,222.45 52.26,223.25 51.92,223.57 M55.39,216.47 C54.98,216.13 53.47,215.26 52.94,214.42 C52.41,213.58 52.40,212.45 52.20,211.43 C52.00,210.41 52.12,209.21 51.74,208.29 C51.36,207.36 50.51,206.70 49.92,205.89 C49.34,205.08 48.50,203.84 48.22,203.43 M48.22,203.43 C47.68,203.36 45.98,202.85 44.95,203.05 C43.93,203.25 42.55,204.36 42.06,204.62 M42.06,204.62 C41.81,205.05 40.69,206.25 40.51,207.16 C40.33,208.08 41.08,209.17 41.00,210.11 C40.93,211.04 40.32,211.87 40.07,212.77 C39.83,213.67 39.68,214.59 39.56,215.52 C39.44,216.44 39.39,217.86 39.35,218.32 M71.56,224.43 C71.24,224.03 70.42,222.55 69.62,222.03 C68.81,221.51 67.63,221.68 66.74,221.32 C65.85,220.96 65.08,220.39 64.29,219.84 C63.50,219.30 62.95,218.32 62.01,218.05 C61.07,217.78 59.57,218.54 58.65,218.23 C57.73,217.92 56.86,216.53 56.51,216.19 M56.51,216.19 C56.41,216.20 56.12,216.23 55.93,216.27 C55.75,216.32 55.48,216.44 55.39,216.47 M62.59,229.59 C62.04,229.50 60.39,229.15 59.29,229.04 C58.20,228.94 57.10,228.85 56.00,228.96 C54.91,229.07 53.27,229.59 52.72,229.72 M90.24,234.56 C90.68,234.55 91.99,234.54 92.86,234.51 C93.73,234.49 94.64,234.71 95.46,234.42 C96.28,234.13 96.93,232.94 97.77,232.78 C98.61,232.61 99.66,233.52 100.51,233.41 C101.37,233.29 102.03,232.21 102.88,232.08 C103.73,231.94 104.76,232.77 105.61,232.62 C106.45,232.47 107.56,231.40 107.95,231.16 M107.95,231.16 C107.66,230.74 106.71,229.56 106.20,228.66 C105.69,227.77 105.59,226.52 104.90,225.78 C104.22,225.03 102.88,224.84 102.08,224.19 C101.28,223.54 100.43,222.27 100.10,221.89 M87.66,221.47 C87.82,221.31 88.32,220.84 88.63,220.50 C88.93,220.17 89.35,219.63 89.50,219.45 M100.10,221.89 C99.70,221.61 98.61,220.26 97.70,220.18 C96.79,220.10 95.54,221.49 94.62,221.42 C93.71,221.36 93.07,220.10 92.21,219.77 C91.36,219.45 89.95,219.51 89.50,219.45 M100.95,245.30 C101.03,244.85 100.93,243.29 101.43,242.55 C101.92,241.82 103.32,241.58 103.90,240.89 C104.48,240.21 104.59,239.26 104.92,238.44 C105.25,237.62 105.32,236.66 105.88,235.96 C106.43,235.26 107.79,234.99 108.23,234.23 C108.68,233.47 108.49,231.87 108.54,231.40 M108.25,248.92 C108.43,248.51 108.85,247.20 109.35,246.48 C109.86,245.76 110.74,245.31 111.27,244.61 C111.80,243.92 111.96,242.96 112.53,242.29 C113.10,241.61 113.99,241.17 114.67,240.58 C115.35,239.98 116.14,239.47 116.59,238.71 C117.03,237.95 117.21,236.47 117.34,236.02 M108.54,231.40 C108.97,231.46 110.27,231.85 111.11,231.80 C111.96,231.74 113.19,231.19 113.61,231.07 M96.52,246.31 C96.88,246.16 97.91,245.59 98.65,245.42 C99.39,245.26 100.57,245.32 100.95,245.30 M107.95,231.16 C108.06,231.03 108.50,230.37 108.60,230.41 C108.70,230.45 108.55,231.23 108.54,231.40 M111.91,258.71 C112.02,258.65 112.52,258.51 112.60,258.31 C112.69,258.12 112.45,257.66 112.42,257.53 M112.42,257.53 C112.03,257.13 110.39,256.15 110.09,255.11 C109.79,254.08 110.93,252.34 110.63,251.31 C110.32,250.28 108.64,249.32 108.25,248.92 M100.10,221.89 C100.29,221.41 100.68,219.79 101.27,219.00 C101.86,218.22 102.79,217.72 103.65,217.17 C104.51,216.63 105.74,216.40 106.44,215.70 C107.14,215.01 107.62,213.47 107.85,213.03 M170.42,227.32 C170.19,227.46 169.43,227.86 169.00,228.21 C168.56,228.56 168.01,229.20 167.81,229.40 M159.77,213.71 C160.00,214.15 161.18,215.39 161.12,216.34 C161.06,217.29 159.50,218.46 159.42,219.42 C159.35,220.37 160.40,221.16 160.65,222.07 C160.91,222.97 160.76,223.94 160.95,224.85 C161.14,225.77 161.66,227.11 161.80,227.56 M213.02,263.55 C212.59,263.47 211.30,263.26 210.46,263.04 C209.62,262.83 208.80,262.57 207.99,262.28 C207.17,261.99 205.98,261.46 205.58,261.30 M213.02,263.55 C212.75,263.92 212.14,265.20 211.41,265.77 C210.67,266.34 209.38,266.42 208.63,266.97 C207.87,267.52 207.30,268.23 206.87,269.06 C206.44,269.90 206.45,271.11 206.06,271.98 C205.67,272.84 205.13,273.59 204.52,274.26 C203.92,274.94 203.23,275.55 202.40,276.03 C201.57,276.52 200.17,276.50 199.54,277.16 C198.92,277.82 198.79,279.52 198.64,280.00 M205.58,261.30 C205.20,261.56 203.99,262.25 203.30,262.88 C202.61,263.50 202.19,264.51 201.43,265.04 C200.68,265.57 199.70,265.78 198.77,266.05 C197.84,266.33 196.59,266.15 195.85,266.70 C195.11,267.25 194.87,268.53 194.32,269.36 C193.78,270.20 193.36,271.21 192.57,271.70 C191.79,272.20 190.12,272.21 189.63,272.32 M198.64,280.00 C198.26,279.66 197.27,278.41 196.38,278.01 C195.49,277.60 194.21,277.91 193.30,277.54 C192.38,277.18 191.29,276.12 190.89,275.83 M202.40,288.13 C202.30,287.63 202.20,286.03 201.77,285.13 C201.34,284.23 200.35,283.60 199.83,282.74 C199.30,281.88 198.83,280.45 198.64,280.00 M174.14,282.12 C173.92,281.72 173.05,280.58 172.81,279.72 C172.56,278.85 172.84,277.83 172.66,276.94 C172.48,276.05 171.90,274.82 171.75,274.40 M189.63,272.32 C189.15,271.92 187.53,270.89 186.77,269.95 C186.00,269.01 185.32,267.21 185.03,266.67 M185.03,266.67 C184.71,266.96 183.84,268.02 183.10,268.44 C182.35,268.85 181.27,268.69 180.56,269.16 C179.84,269.63 179.64,270.99 178.81,271.26 C177.98,271.53 176.45,270.60 175.58,270.79 C174.70,270.99 174.20,271.83 173.57,272.43 C172.93,273.03 172.05,274.07 171.75,274.40 M198.42,256.13 C198.09,256.41 197.25,257.59 196.41,257.81 C195.57,258.03 194.26,257.33 193.37,257.45 C192.48,257.57 191.68,257.87 191.07,258.55 C190.46,259.23 190.34,260.89 189.70,261.53 C189.07,262.17 188.11,262.14 187.28,262.39 C186.45,262.63 185.15,262.90 184.73,263.00 M196.78,247.29 C196.36,247.06 195.11,246.32 194.26,245.89 C193.41,245.46 192.60,244.86 191.67,244.72 C190.74,244.57 189.64,245.06 188.68,245.04 C187.72,245.01 186.81,244.79 185.91,244.56 C185.00,244.33 183.69,243.80 183.25,243.65 M181.16,258.29 C181.34,258.77 181.65,260.39 182.25,261.17 C182.84,261.96 184.32,262.70 184.73,263.00 M181.16,258.29 C181.21,257.82 181.39,256.38 181.46,255.42 C181.52,254.46 181.49,253.49 181.57,252.53 C181.66,251.57 181.86,250.63 181.98,249.67 C182.10,248.72 182.16,247.76 182.30,246.80 C182.43,245.85 182.69,244.43 182.77,243.95 M205.58,261.30 C205.18,261.00 203.97,260.17 203.22,259.54 C202.47,258.90 201.87,258.05 201.07,257.49 C200.27,256.92 198.86,256.36 198.42,256.13 M185.03,266.67 C185.12,266.35 185.60,265.39 185.55,264.78 C185.50,264.17 184.87,263.30 184.73,263.00 M202.48,242.35 C202.08,242.52 200.79,242.96 200.04,243.37 C199.29,243.78 198.51,244.16 197.96,244.82 C197.42,245.47 196.98,246.88 196.78,247.29 M163.89,259.47 C164.23,259.86 165.70,260.83 165.94,261.76 C166.18,262.69 165.16,264.11 165.32,265.07 C165.48,266.04 166.29,266.75 166.91,267.54 C167.53,268.32 168.69,268.91 169.04,269.80 C169.39,270.69 169.02,272.36 169.02,272.88 M163.89,259.47 C164.38,259.61 165.88,260.45 166.83,260.29 C167.79,260.14 168.65,258.69 169.61,258.56 C170.56,258.42 171.61,259.61 172.56,259.46 C173.51,259.31 174.37,257.77 175.33,257.67 C176.29,257.57 177.33,258.76 178.30,258.86 C179.28,258.97 180.68,258.39 181.16,258.29 M171.75,274.40 C171.43,274.44 170.29,274.89 169.83,274.64 C169.38,274.38 169.16,273.17 169.02,272.88 M172.72,241.69 C172.49,242.10 171.61,243.24 171.34,244.16 C171.07,245.08 171.66,246.45 171.10,247.23 C170.55,248.00 168.57,248.04 168.00,248.81 C167.43,249.58 167.98,250.93 167.68,251.83 C167.38,252.74 166.80,253.50 166.17,254.24 C165.55,254.98 164.33,255.41 163.90,256.25 C163.47,257.09 163.64,258.78 163.59,259.28 M172.72,241.69 C173.12,241.87 174.30,242.49 175.12,242.76 C175.93,243.04 176.80,243.11 177.62,243.35 C178.45,243.58 179.22,244.07 180.08,244.17 C180.93,244.28 182.32,243.99 182.77,243.95 M163.59,259.28 C163.59,259.33 163.55,259.56 163.60,259.59 C163.65,259.62 163.84,259.49 163.89,259.47 M172.72,241.69 C172.43,241.62 171.38,241.65 171.01,241.31 C170.64,240.97 170.61,239.91 170.53,239.63 M167.81,229.40 C168.02,229.80 168.73,230.98 169.06,231.81 C169.39,232.63 169.70,233.46 169.78,234.35 C169.87,235.24 169.44,236.27 169.56,237.15 C169.68,238.03 170.36,239.22 170.53,239.63 M40.09,161.56 C40.49,161.77 41.76,162.29 42.53,162.80 C43.30,163.32 43.77,164.47 44.69,164.65 C45.61,164.84 47.10,163.79 48.05,163.91 C49.00,164.03 49.59,164.92 50.39,165.37 C51.19,165.82 52.07,166.07 52.84,166.60 C53.60,167.13 54.19,168.03 54.97,168.53 C55.74,169.02 57.08,169.38 57.51,169.55 M50.10,179.89 C50.48,179.58 51.73,178.76 52.38,178.03 C53.03,177.31 53.51,176.42 54.01,175.55 C54.50,174.68 54.66,173.47 55.35,172.79 C56.05,172.12 57.72,171.70 58.20,171.48 M57.51,169.55 C57.56,169.71 57.73,170.20 57.85,170.52 C57.96,170.84 58.14,171.32 58.20,171.48 M24.17,230.68 C24.00,230.24 23.18,228.95 23.16,228.01 C23.14,227.06 24.09,225.94 24.06,224.99 C24.03,224.05 23.31,223.22 23.00,222.32 C22.69,221.43 22.35,220.06 22.21,219.61 M22.21,219.61 C22.66,219.48 24.27,219.39 24.91,218.84 C25.56,218.29 25.88,216.72 26.08,216.29 M34.94,191.94 C34.50,191.85 33.12,191.68 32.31,191.39 C31.50,191.09 30.73,190.73 30.09,190.16 C29.45,189.59 28.74,188.32 28.47,187.95 M22.76,201.21 C22.88,200.76 23.38,199.40 23.48,198.52 C23.57,197.64 23.41,196.79 23.33,195.92 C23.25,195.06 23.24,194.19 22.98,193.34 C22.72,192.50 21.97,191.26 21.76,190.85 M21.76,190.85 C22.35,190.67 24.18,190.29 25.30,189.81 C26.41,189.32 27.94,188.26 28.47,187.95 M30.69,175.76 C30.68,176.28 30.91,177.90 30.66,178.90 C30.42,179.91 29.40,180.77 29.21,181.79 C29.02,182.80 29.65,183.96 29.53,184.99 C29.40,186.02 28.65,187.45 28.47,187.95 M45.24,184.31 C45.23,184.37 45.24,184.58 45.19,184.70 C45.14,184.81 45.00,184.96 44.96,185.02 M44.96,185.02 C44.58,185.36 43.45,186.41 42.69,187.09 C41.93,187.77 41.27,188.60 40.38,189.10 C39.49,189.60 38.26,189.61 37.36,190.09 C36.45,190.56 35.34,191.63 34.94,191.94 M49.37,201.98 C49.22,201.58 48.50,200.48 48.47,199.62 C48.43,198.77 49.36,197.67 49.17,196.85 C48.99,196.04 47.78,195.49 47.35,194.74 C46.92,193.99 46.82,193.15 46.59,192.35 C46.36,191.55 45.95,190.80 45.96,189.93 C45.97,189.06 46.83,187.98 46.66,187.16 C46.49,186.34 45.24,185.37 44.96,185.02 M49.37,201.98 C49.23,202.07 48.76,202.28 48.56,202.52 C48.37,202.76 48.28,203.27 48.22,203.43 M42.06,204.62 C41.65,204.26 40.55,202.80 39.58,202.42 C38.61,202.04 36.81,202.38 36.26,202.37 M126.17,273.98 C126.24,273.53 126.24,272.10 126.62,271.27 C127.00,270.43 128.25,269.86 128.46,268.98 C128.67,268.09 127.64,266.83 127.87,265.95 C128.10,265.07 129.53,264.55 129.84,263.70 C130.16,262.85 129.70,261.76 129.76,260.83 C129.83,259.90 129.90,258.97 130.23,258.12 C130.56,257.27 131.49,256.13 131.74,255.73 M119.11,253.71 C119.62,253.73 121.13,253.83 122.14,253.83 C123.15,253.83 124.19,253.50 125.19,253.71 C126.18,253.93 127.12,254.98 128.12,255.13 C129.12,255.27 130.68,254.69 131.20,254.60 M149.09,216.01 C148.77,216.38 147.63,217.37 147.18,218.23 C146.73,219.10 146.87,220.33 146.41,221.18 C145.95,222.04 144.74,222.99 144.41,223.35 M142.49,203.81 C142.07,203.75 140.78,203.72 139.96,203.49 C139.15,203.26 138.42,202.63 137.60,202.41 C136.78,202.20 135.47,202.25 135.04,202.21 M135.04,202.21 C134.79,202.37 134.07,202.90 133.53,203.12 C132.99,203.33 132.10,203.43 131.81,203.50 M151.97,200.74 C151.43,200.89 149.78,201.17 148.77,201.65 C147.76,202.12 146.96,203.25 145.92,203.61 C144.87,203.97 143.06,203.77 142.49,203.81 M157.50,212.91 C156.97,212.93 155.29,212.69 154.35,213.01 C153.40,213.33 152.71,214.32 151.83,214.82 C150.96,215.32 149.54,215.81 149.09,216.01 M118.66,220.31 C119.21,220.31 120.99,220.66 121.96,220.31 C122.93,219.95 124.06,218.53 124.48,218.18 M115.20,199.94 C115.68,200.06 117.12,200.71 118.08,200.65 C119.03,200.59 119.98,199.87 120.94,199.57 C121.89,199.28 122.85,198.83 123.81,198.87 C124.76,198.91 126.21,199.66 126.69,199.81 M126.69,199.81 C127.15,200.07 128.62,200.74 129.47,201.35 C130.32,201.96 131.42,203.14 131.81,203.50 M161.80,227.56 C161.69,227.79 161.48,228.80 161.14,228.94 C160.79,229.07 159.96,228.46 159.72,228.36 M144.41,223.35 C144.48,223.77 144.95,225.07 144.83,225.87 C144.71,226.67 143.88,227.78 143.68,228.16 M143.68,228.16 C144.13,228.35 145.45,229.28 146.34,229.33 C147.23,229.37 148.14,228.53 149.03,228.43 C149.92,228.33 150.81,228.60 151.70,228.72 C152.59,228.85 153.48,229.11 154.37,229.21 C155.26,229.30 156.14,229.44 157.04,229.30 C157.93,229.16 159.28,228.52 159.72,228.36 M159.72,228.36 C159.51,228.78 158.54,229.94 158.43,230.84 C158.31,231.75 159.08,232.85 159.02,233.77 C158.96,234.68 158.53,235.51 158.05,236.33 C157.57,237.14 156.36,237.79 156.13,238.66 C155.91,239.54 156.72,240.66 156.71,241.58 C156.69,242.50 156.14,243.77 156.03,244.21 M163.59,259.28 C163.56,259.39 163.44,259.93 163.42,259.92 C163.40,259.92 163.44,259.37 163.45,259.26 M154.72,245.31 C154.62,245.87 154.08,247.56 154.08,248.68 C154.08,249.80 154.62,251.48 154.73,252.04 M140.44,277.29 C140.84,277.09 142.33,276.78 142.86,276.13 C143.38,275.48 143.14,274.10 143.60,273.39 C144.06,272.67 145.29,272.12 145.63,271.86 M140.44,277.29 C140.69,277.66 141.62,278.72 141.93,279.50 C142.24,280.29 142.38,281.12 142.31,282.01 C142.23,282.90 141.36,284.00 141.48,284.84 C141.60,285.68 142.75,286.68 143.00,287.05 M145.63,271.86 C146.09,271.80 147.46,271.56 148.38,271.51 C149.31,271.46 150.70,271.57 151.16,271.58 M151.16,271.58 C151.57,271.77 152.85,272.25 153.60,272.70 C154.35,273.16 155.06,273.66 155.67,274.28 C156.28,274.90 156.67,275.79 157.26,276.44 C157.85,277.09 158.87,277.89 159.20,278.18 M143.00,287.05 C143.23,287.04 144.14,286.76 144.37,286.98 C144.60,287.20 144.36,288.12 144.36,288.35 M144.36,288.35 C145.00,288.40 147.02,288.26 148.18,288.68 C149.34,289.10 150.80,290.50 151.32,290.87 M159.07,287.25 C158.66,287.50 157.41,288.19 156.61,288.73 C155.82,289.26 155.16,290.11 154.28,290.47 C153.40,290.82 151.82,290.80 151.32,290.87 M126.27,274.06 C126.77,274.04 128.30,273.87 129.28,273.93 C130.26,274.00 131.27,273.93 132.14,274.46 C133.01,274.99 133.57,276.92 134.52,277.13 C135.46,277.33 136.84,275.64 137.83,275.67 C138.82,275.70 140.01,277.02 140.44,277.29 M131.74,255.73 C132.23,255.90 133.67,256.48 134.67,256.75 C135.67,257.03 136.84,256.86 137.74,257.40 C138.64,257.94 139.13,259.51 140.05,259.99 C140.97,260.47 142.73,260.23 143.27,260.28 M143.27,260.28 C143.54,260.72 144.68,262.00 144.92,262.95 C145.16,263.91 144.75,265.00 144.72,266.01 C144.70,267.02 144.62,268.04 144.77,269.02 C144.92,269.99 145.48,271.39 145.63,271.86 M130.62,293.56 C130.99,293.27 132.08,292.32 132.87,291.83 C133.66,291.33 134.55,291.02 135.38,290.59 C136.21,290.16 136.97,289.61 137.83,289.23 C138.68,288.85 139.64,288.66 140.50,288.30 C141.36,287.93 142.58,287.26 143.00,287.05 M163.45,259.26 C162.99,259.48 161.38,259.93 160.69,260.60 C159.99,261.27 159.96,262.61 159.29,263.30 C158.61,263.99 157.22,263.97 156.65,264.76 C156.07,265.55 156.44,267.29 155.83,268.05 C155.22,268.80 153.77,268.72 152.99,269.31 C152.21,269.89 151.47,271.20 151.16,271.58 M154.73,252.04 C154.35,252.30 153.30,253.25 152.48,253.59 C151.65,253.93 150.24,254.01 149.79,254.09 M149.79,254.09 C149.42,254.43 148.20,255.32 147.58,256.12 C146.97,256.92 146.81,258.21 146.09,258.90 C145.37,259.59 143.74,260.05 143.27,260.28 M169.02,272.88 C168.64,273.14 167.54,274.06 166.71,274.48 C165.88,274.90 164.78,274.82 164.03,275.39 C163.28,275.95 163.00,277.40 162.20,277.86 C161.39,278.33 159.70,278.13 159.20,278.18 M139.75,304.08 C139.86,303.63 139.99,302.25 140.39,301.42 C140.79,300.59 142.05,300.01 142.16,299.09 C142.27,298.17 140.80,296.79 141.06,295.92 C141.32,295.05 143.40,294.71 143.71,293.85 C144.01,292.99 142.78,291.68 142.89,290.76 C143.00,289.85 144.12,288.75 144.36,288.35 M153.68,301.99 C153.69,301.50 153.87,300.01 153.71,299.08 C153.56,298.14 153.10,297.27 152.75,296.38 C152.39,295.48 151.82,294.64 151.58,293.72 C151.34,292.80 151.37,291.34 151.32,290.87 M164.23,289.25 C163.83,289.02 162.66,288.20 161.80,287.87 C160.94,287.54 159.52,287.35 159.07,287.25 M139.11,172.08 C138.67,172.26 137.35,173.23 136.46,173.17 C135.57,173.10 134.66,171.83 133.77,171.67 C132.88,171.51 131.56,172.11 131.11,172.20 M139.11,172.08 C139.31,172.51 139.98,173.79 140.33,174.67 C140.68,175.55 141.21,176.38 141.21,177.35 C141.21,178.32 140.16,179.57 140.35,180.49 C140.54,181.41 141.95,182.01 142.34,182.88 C142.74,183.74 142.65,185.22 142.72,185.69 M128.44,183.76 C128.92,183.73 130.39,183.46 131.33,183.56 C132.27,183.67 133.16,184.09 134.07,184.36 C134.98,184.64 135.88,185.03 136.80,185.20 C137.73,185.38 138.70,185.29 139.64,185.41 C140.57,185.53 141.96,185.82 142.42,185.91 M142.42,185.91 C142.39,185.80 142.15,185.33 142.20,185.29 C142.25,185.25 142.63,185.62 142.72,185.69 M139.71,171.43 C139.77,171.58 140.17,172.25 140.06,172.36 C139.96,172.47 139.27,172.13 139.11,172.08 M126.55,168.84 C126.98,169.04 128.41,169.50 129.17,170.06 C129.93,170.62 130.79,171.84 131.11,172.20 M135.04,202.21 C135.19,201.82 135.50,200.55 135.94,199.82 C136.39,199.08 137.21,198.52 137.71,197.81 C138.20,197.10 138.81,196.43 138.92,195.55 C139.03,194.66 138.09,193.30 138.37,192.49 C138.64,191.68 139.95,191.34 140.57,190.68 C141.19,190.03 141.76,189.35 142.07,188.55 C142.38,187.76 142.36,186.35 142.42,185.91 M118.00,220.70 C118.14,220.82 118.75,221.46 118.86,221.40 C118.97,221.33 118.69,220.49 118.66,220.31 M107.85,213.03 C107.68,212.56 106.98,211.23 106.79,210.23 C106.61,209.23 107.13,207.96 106.76,207.03 C106.38,206.11 104.92,205.08 104.56,204.69 M115.20,199.94 C114.98,200.00 114.29,200.36 113.90,200.28 C113.51,200.20 113.02,199.59 112.84,199.45 M109.48,199.94 C109.73,199.74 110.45,198.77 111.01,198.69 C111.57,198.61 112.54,199.32 112.84,199.45 M124.48,218.18 C124.89,218.39 126.30,218.77 126.91,219.43 C127.52,220.09 127.64,221.32 128.13,222.12 C128.62,222.92 129.00,223.84 129.84,224.22 C130.68,224.60 132.37,223.98 133.17,224.40 C133.98,224.82 134.42,226.36 134.67,226.75 M134.67,226.75 C134.99,227.11 135.87,228.38 136.59,228.92 C137.31,229.46 138.13,229.81 139.01,230.01 C139.89,230.21 141.40,230.11 141.88,230.13 M117.34,236.02 C117.29,236.10 117.06,236.50 117.07,236.51 C117.08,236.51 117.34,236.14 117.40,236.06 M134.67,226.75 C134.35,227.14 133.66,228.82 132.76,229.11 C131.85,229.40 130.17,228.25 129.24,228.50 C128.32,228.74 127.92,229.99 127.19,230.60 C126.45,231.20 125.55,231.50 124.84,232.14 C124.12,232.77 123.65,233.87 122.88,234.42 C122.11,234.96 121.15,235.15 120.24,235.42 C119.32,235.69 117.87,235.95 117.40,236.06 M119.11,253.71 C119.29,253.25 120.14,251.88 120.18,250.98 C120.22,250.08 119.47,249.19 119.35,248.29 C119.23,247.39 119.58,246.48 119.46,245.58 C119.34,244.68 118.65,243.79 118.65,242.88 C118.65,241.98 119.43,241.06 119.46,240.16 C119.49,239.26 118.94,237.91 118.84,237.46 M117.40,236.06 C117.58,236.12 118.24,236.15 118.48,236.39 C118.72,236.62 118.78,237.28 118.84,237.46 M56.51,216.19 C56.82,215.83 57.55,214.42 58.40,214.07 C59.26,213.71 60.83,214.51 61.62,214.06 C62.41,213.60 62.44,211.93 63.13,211.32 C63.82,210.71 65.33,210.54 65.77,210.38 M74.97,220.52 C74.98,220.06 75.36,218.52 75.00,217.73 C74.64,216.95 73.27,216.56 72.79,215.82 C72.32,215.08 72.26,213.71 72.15,213.29 M65.77,210.38 C66.27,210.69 67.71,211.76 68.77,212.24 C69.84,212.73 71.59,213.12 72.15,213.29 M49.37,201.98 C49.71,201.72 50.67,200.78 51.44,200.46 C52.22,200.14 53.15,200.19 54.00,200.06 C54.85,199.93 55.82,200.06 56.57,199.69 C57.32,199.32 57.76,198.21 58.51,197.84 C59.26,197.48 60.29,197.77 61.08,197.47 C61.86,197.18 62.85,196.31 63.21,196.08 M65.77,210.38 C65.64,209.91 64.99,208.55 64.99,207.56 C65.00,206.58 66.08,205.40 65.79,204.47 C65.49,203.54 63.39,202.93 63.21,201.98 C63.03,201.03 64.70,199.74 64.70,198.76 C64.70,197.78 63.46,196.52 63.21,196.08 M64.13,192.03 C64.18,192.26 64.43,192.94 64.43,193.40 C64.43,193.86 64.19,194.55 64.14,194.78 M63.21,196.08 C63.20,195.90 63.00,195.26 63.15,195.05 C63.31,194.83 63.98,194.82 64.14,194.78 M72.15,213.29 C72.26,212.84 72.39,211.32 72.84,210.59 C73.29,209.86 74.07,209.38 74.85,208.91 C75.64,208.43 76.89,208.32 77.54,207.74 C78.19,207.17 78.37,206.22 78.77,205.45 C79.17,204.68 79.75,203.51 79.95,203.13 M91.37,207.55 C90.82,207.54 89.12,207.72 88.10,207.52 C87.08,207.32 86.08,207.08 85.27,206.35 C84.45,205.62 84.12,203.67 83.23,203.13 C82.34,202.59 80.49,203.13 79.95,203.13 M64.14,194.78 C64.59,194.98 65.95,195.56 66.84,195.98 C67.73,196.40 68.57,196.97 69.50,197.30 C70.42,197.64 71.45,197.67 72.37,198.01 C73.29,198.34 74.09,199.03 75.03,199.32 C75.97,199.60 77.51,199.67 78.01,199.74 M79.95,203.13 C79.78,202.85 79.29,202.00 78.96,201.44 C78.64,200.87 78.17,200.02 78.01,199.74 M58.20,171.48 C58.40,171.73 58.90,172.75 59.41,172.94 C59.93,173.14 60.98,172.71 61.29,172.66 M64.13,192.03 C64.36,191.54 64.98,190.04 65.53,189.13 C66.07,188.21 67.10,186.95 67.41,186.52 M67.41,186.52 C67.40,186.06 67.75,184.53 67.33,183.79 C66.91,183.06 65.32,182.84 64.91,182.10 C64.49,181.37 65.19,180.14 64.83,179.38 C64.47,178.62 63.14,178.29 62.75,177.54 C62.37,176.79 62.77,175.69 62.52,174.88 C62.28,174.07 61.50,173.03 61.29,172.66 M71.66,169.36 C71.28,169.67 70.21,170.77 69.40,171.23 C68.60,171.69 67.72,171.93 66.83,172.11 C65.93,172.28 64.95,172.20 64.03,172.29 C63.11,172.38 61.75,172.60 61.29,172.66 M109.48,199.94 C109.26,199.52 108.58,198.24 108.16,197.38 C107.74,196.51 107.35,195.64 106.98,194.75 C106.61,193.87 106.30,192.95 105.93,192.07 C105.56,191.18 104.94,189.88 104.74,189.44 M91.72,187.70 C92.24,187.65 93.87,187.71 94.84,187.38 C95.80,187.04 96.57,186.10 97.51,185.68 C98.45,185.27 99.98,185.01 100.47,184.88 M100.47,184.88 C100.94,185.15 102.55,185.78 103.27,186.54 C103.98,187.31 104.49,188.96 104.74,189.44 M104.74,189.44 C105.12,189.26 106.30,188.81 107.02,188.35 C107.74,187.89 108.30,187.03 109.07,186.69 C109.84,186.35 110.80,186.48 111.63,186.30 C112.47,186.12 113.27,185.87 114.08,185.61 C114.88,185.35 116.05,184.88 116.44,184.73 M125.42,185.78 C125.05,185.51 124.01,184.53 123.19,184.14 C122.38,183.75 121.38,183.75 120.52,183.46 C119.66,183.16 118.44,182.56 118.03,182.38 M143.09,235.75 C142.95,235.41 142.49,234.39 142.26,233.69 C142.04,232.98 141.82,231.89 141.73,231.53 M143.09,235.75 C142.95,236.20 142.53,237.53 142.23,238.41 C141.92,239.29 141.78,240.24 141.25,241.03 C140.72,241.82 139.44,242.30 139.06,243.15 C138.67,244.00 138.95,245.61 138.93,246.11 M141.73,231.53 C141.22,231.62 139.48,231.47 138.71,232.06 C137.93,232.65 137.87,234.50 137.08,235.06 C136.29,235.62 134.88,235.08 133.98,235.44 C133.08,235.81 132.46,236.67 131.69,237.27 C130.92,237.87 130.20,238.56 129.36,239.02 C128.52,239.49 127.09,239.90 126.63,240.07 M138.93,246.11 C138.67,246.59 138.22,248.44 137.35,249.00 C136.48,249.56 134.64,248.98 133.73,249.49 C132.82,250.00 132.20,251.65 131.89,252.08 M154.72,245.31 C154.49,244.94 154.09,243.45 153.32,243.06 C152.56,242.68 150.99,243.27 150.14,242.99 C149.28,242.71 148.77,242.02 148.21,241.38 C147.66,240.73 147.32,239.83 146.81,239.13 C146.31,238.42 145.82,237.70 145.20,237.14 C144.58,236.57 143.44,235.98 143.09,235.75 M141.88,230.13 C141.95,230.25 142.34,230.65 142.31,230.88 C142.29,231.12 141.83,231.42 141.73,231.53 M149.79,254.09 C149.40,253.86 148.28,253.11 147.48,252.68 C146.68,252.25 145.77,251.98 144.98,251.53 C144.19,251.09 143.45,250.58 142.74,250.02 C142.04,249.47 141.38,248.85 140.74,248.20 C140.11,247.54 139.24,246.46 138.93,246.11 M118.84,237.46 C119.30,237.52 120.75,237.52 121.60,237.83 C122.46,238.14 123.16,238.95 123.99,239.32 C124.83,239.70 126.19,239.95 126.63,240.07 M74.80,182.81 C75.07,182.33 76.32,181.01 76.42,179.96 C76.53,178.91 75.34,177.57 75.42,176.51 C75.50,175.46 76.65,174.11 76.90,173.63 M74.80,182.81 C75.12,183.17 75.88,184.58 76.72,184.97 C77.55,185.35 78.85,184.93 79.80,185.11 C80.74,185.30 81.65,185.55 82.40,186.08 C83.16,186.61 83.99,187.91 84.30,188.28 M90.26,187.07 C89.79,187.31 88.44,188.30 87.45,188.50 C86.46,188.70 84.83,188.32 84.30,188.28 M86.98,170.52 C86.51,170.47 84.93,169.84 84.13,170.22 C83.33,170.59 82.99,172.48 82.16,172.79 C81.34,173.09 80.05,171.90 79.17,172.04 C78.29,172.18 77.28,173.37 76.90,173.63 M67.41,186.52 C67.89,186.44 69.47,186.53 70.26,186.06 C71.05,185.59 71.40,184.22 72.15,183.68 C72.91,183.14 74.35,182.95 74.80,182.81 M71.66,169.36 C72.08,169.74 73.30,170.91 74.17,171.63 C75.05,172.34 76.44,173.30 76.90,173.63 M78.01,199.74 C78.15,199.32 78.57,198.06 78.86,197.22 C79.14,196.38 79.13,195.38 79.74,194.72 C80.35,194.06 81.97,193.96 82.51,193.26 C83.05,192.56 82.69,191.37 82.99,190.54 C83.29,189.71 84.08,188.65 84.30,188.28 M89.04,167.82 C88.96,168.11 88.89,169.13 88.55,169.58 C88.21,170.03 87.25,170.36 86.98,170.52 M103.58,172.34 C103.76,171.94 104.41,170.77 104.68,169.94 C104.94,169.10 104.93,168.19 105.18,167.35 C105.44,166.52 106.01,165.78 106.21,164.93 C106.41,164.08 106.08,163.07 106.39,162.25 C106.70,161.43 107.76,160.84 108.09,160.02 C108.41,159.21 108.32,158.27 108.33,157.37 C108.34,156.46 107.78,155.38 108.14,154.57 C108.49,153.77 110.26,153.39 110.46,152.54 C110.67,151.69 109.30,150.37 109.35,149.47 C109.40,148.58 110.30,147.93 110.75,147.16 C111.20,146.38 111.59,145.59 112.07,144.82 C112.55,144.05 113.44,143.41 113.65,142.56 C113.85,141.71 113.37,140.20 113.31,139.73 M105.15,175.04 C105.72,175.01 107.46,174.59 108.55,174.82 C109.64,175.04 110.61,176.11 111.69,176.39 C112.77,176.67 114.49,176.47 115.05,176.48 M116.01,175.35 C115.99,175.50 116.04,176.03 115.88,176.22 C115.72,176.41 115.18,176.44 115.05,176.48 M89.04,167.82 C89.42,168.03 90.51,168.80 91.31,169.08 C92.11,169.35 93.05,169.16 93.84,169.48 C94.63,169.79 95.18,170.85 96.04,170.96 C96.89,171.07 98.14,169.89 98.95,170.12 C99.77,170.36 100.14,172.00 100.91,172.36 C101.69,172.73 103.14,172.34 103.58,172.34 M118.03,182.38 C117.91,181.82 117.82,180.02 117.32,179.03 C116.82,178.05 115.42,176.91 115.05,176.48 M126.55,168.84 C126.02,168.96 124.27,169.09 123.37,169.59 C122.47,170.09 121.97,171.26 121.12,171.84 C120.27,172.43 119.13,172.54 118.27,173.12 C117.42,173.71 116.39,174.98 116.01,175.35 " fill="none" stroke="#303030" stroke-width="1.1" stroke-linecap="round" filter="url(#crackblur)" opacity="0.5"/>
</g>
<g clip-path="url(#clipE)">
<rect x="217" y="173" width="175" height="130.2" fill="#525252"/>
<rect x="217" y="173" width="175" height="130.2" filter="url(#noiseE)" opacity="0.5"/>
<g filter="url(#bigblur)"><ellipse cx="255" cy="240" rx="30" ry="22" fill="#9a9a9a" opacity="0.22"/><ellipse cx="345" cy="288" rx="40" ry="18" fill="#9a9a9a" opacity="0.2"/><ellipse cx="300" cy="230" rx="20" ry="12" fill="#9a9a9a" opacity="0.15"/><path d="M217,180 L236,182 L262,198 L280,214 L270,222 L246,208 L217,198 Z" fill="#101010" opacity="0.5"/><ellipse cx="350" cy="266" rx="14" ry="8" fill="#101010" opacity="0.5"/><ellipse cx="225" cy="238" rx="9" ry="10" fill="#101010" opacity="0.3"/><ellipse cx="370" cy="232" rx="22" ry="10" fill="#202020" opacity="0.25"/></g>
<path d="M217,224 C225,222 232,224 240,227 M266,226 C276,236 286,248 296,259 M217,275 C240,277 270,278 296,277 M296,303 C297,285 299,262 304,256 C315,252 330,253 343,266 M304,230 C315,236 330,242 340,247 M250,200 C258,206 268,210 276,214" fill="none" stroke="#181818" stroke-width="4" opacity="0.42" filter="url(#blur1)"/>
</g>
<text x="0" y="0" font-size="8.2" font-weight="bold" text-anchor="start" fill="#f5f5f5" stroke="#f5f5f5" stroke-width="0.35" transform="translate(32.0 290.4) scale(1 1.08)" >10 μm</text>
<rect x="35" y="294.4" width="15.4" height="1.6" fill="#f5f5f5"/>
<text x="0" y="0" font-size="9.3" font-weight="bold" text-anchor="end" fill="#f5f5f5" stroke="#f5f5f5" stroke-width="0.35" transform="translate(189.6 296.3) scale(1 1.05)" >TF-GPE</text>
<text x="0" y="0" font-size="8.2" font-weight="bold" text-anchor="start" fill="#f5f5f5" stroke="#f5f5f5" stroke-width="0.35" transform="translate(225.0 290.4) scale(1 1.08)" >10 μm</text>
<rect x="228" y="294.4" width="15.4" height="1.6" fill="#f5f5f5"/>
<text x="0" y="0" font-size="9.3" font-weight="bold" text-anchor="end" fill="#f5f5f5" stroke="#f5f5f5" stroke-width="0.35" transform="translate(383.6 296.3) scale(1 1.05)" >EE-GPE</text>
<rect x="85.8" y="172.8" width="111.00000000000001" height="45.39999999999998" fill="url(#edsg)"/>
<line x1="94.3" y1="175.8" x2="94.3" y2="212.7" stroke="#9fb6d6" stroke-width="0.4"/>
<line x1="93.3" y1="176.8" x2="94.3" y2="176.8" stroke="#c8d4e8" stroke-width="0.4"/>
<line x1="93.3" y1="180.1" x2="94.3" y2="180.1" stroke="#c8d4e8" stroke-width="0.4"/>
<line x1="93.3" y1="183.3" x2="94.3" y2="183.3" stroke="#c8d4e8" stroke-width="0.4"/>
<line x1="93.3" y1="186.6" x2="94.3" y2="186.6" stroke="#c8d4e8" stroke-width="0.4"/>
<line x1="93.3" y1="189.9" x2="94.3" y2="189.9" stroke="#c8d4e8" stroke-width="0.4"/>
<line x1="93.3" y1="193.1" x2="94.3" y2="193.1" stroke="#c8d4e8" stroke-width="0.4"/>
<line x1="93.3" y1="196.4" x2="94.3" y2="196.4" stroke="#c8d4e8" stroke-width="0.4"/>
<line x1="93.3" y1="199.6" x2="94.3" y2="199.6" stroke="#c8d4e8" stroke-width="0.4"/>
<line x1="93.3" y1="202.9" x2="94.3" y2="202.9" stroke="#c8d4e8" stroke-width="0.4"/>
<line x1="93.3" y1="206.2" x2="94.3" y2="206.2" stroke="#c8d4e8" stroke-width="0.4"/>
<line x1="93.3" y1="209.4" x2="94.3" y2="209.4" stroke="#c8d4e8" stroke-width="0.4"/>
<line x1="93.3" y1="212.7" x2="94.3" y2="212.7" stroke="#c8d4e8" stroke-width="0.4"/>
<line x1="95.8" y1="213.5" x2="95.8" y2="214.5" stroke="#c8d4e8" stroke-width="0.4"/>
<line x1="98.4" y1="213.5" x2="98.4" y2="214.5" stroke="#c8d4e8" stroke-width="0.4"/>
<line x1="100.9" y1="213.5" x2="100.9" y2="214.5" stroke="#c8d4e8" stroke-width="0.4"/>
<line x1="103.5" y1="213.5" x2="103.5" y2="214.5" stroke="#c8d4e8" stroke-width="0.4"/>
<line x1="106.0" y1="213.5" x2="106.0" y2="214.5" stroke="#c8d4e8" stroke-width="0.4"/>
<line x1="108.6" y1="213.5" x2="108.6" y2="214.5" stroke="#c8d4e8" stroke-width="0.4"/>
<line x1="111.1" y1="213.5" x2="111.1" y2="214.5" stroke="#c8d4e8" stroke-width="0.4"/>
<line x1="113.7" y1="213.5" x2="113.7" y2="214.5" stroke="#c8d4e8" stroke-width="0.4"/>
<line x1="116.2" y1="213.5" x2="116.2" y2="214.5" stroke="#c8d4e8" stroke-width="0.4"/>
<line x1="118.8" y1="213.5" x2="118.8" y2="214.5" stroke="#c8d4e8" stroke-width="0.4"/>
<line x1="121.3" y1="213.5" x2="121.3" y2="214.5" stroke="#c8d4e8" stroke-width="0.4"/>
<line x1="123.9" y1="213.5" x2="123.9" y2="214.5" stroke="#c8d4e8" stroke-width="0.4"/>
<line x1="126.4" y1="213.5" x2="126.4" y2="214.5" stroke="#c8d4e8" stroke-width="0.4"/>
<line x1="129.0" y1="213.5" x2="129.0" y2="214.5" stroke="#c8d4e8" stroke-width="0.4"/>
<line x1="131.5" y1="213.5" x2="131.5" y2="214.5" stroke="#c8d4e8" stroke-width="0.4"/>
<line x1="134.1" y1="213.5" x2="134.1" y2="214.5" stroke="#c8d4e8" stroke-width="0.4"/>
<line x1="136.6" y1="213.5" x2="136.6" y2="214.5" stroke="#c8d4e8" stroke-width="0.4"/>
<line x1="139.2" y1="213.5" x2="139.2" y2="214.5" stroke="#c8d4e8" stroke-width="0.4"/>
<line x1="141.7" y1="213.5" x2="141.7" y2="214.5" stroke="#c8d4e8" stroke-width="0.4"/>
<line x1="144.3" y1="213.5" x2="144.3" y2="214.5" stroke="#c8d4e8" stroke-width="0.4"/>
<line x1="146.8" y1="213.5" x2="146.8" y2="214.5" stroke="#c8d4e8" stroke-width="0.4"/>
<line x1="149.4" y1="213.5" x2="149.4" y2="214.5" stroke="#c8d4e8" stroke-width="0.4"/>
<line x1="151.9" y1="213.5" x2="151.9" y2="214.5" stroke="#c8d4e8" stroke-width="0.4"/>
<line x1="154.5" y1="213.5" x2="154.5" y2="214.5" stroke="#c8d4e8" stroke-width="0.4"/>
<line x1="157.0" y1="213.5" x2="157.0" y2="214.5" stroke="#c8d4e8" stroke-width="0.4"/>
<line x1="159.6" y1="213.5" x2="159.6" y2="214.5" stroke="#c8d4e8" stroke-width="0.4"/>
<line x1="162.1" y1="213.5" x2="162.1" y2="214.5" stroke="#c8d4e8" stroke-width="0.4"/>
<line x1="164.7" y1="213.5" x2="164.7" y2="214.5" stroke="#c8d4e8" stroke-width="0.4"/>
<line x1="167.2" y1="213.5" x2="167.2" y2="214.5" stroke="#c8d4e8" stroke-width="0.4"/>
<line x1="169.8" y1="213.5" x2="169.8" y2="214.5" stroke="#c8d4e8" stroke-width="0.4"/>
<line x1="172.3" y1="213.5" x2="172.3" y2="214.5" stroke="#c8d4e8" stroke-width="0.4"/>
<line x1="174.9" y1="213.5" x2="174.9" y2="214.5" stroke="#c8d4e8" stroke-width="0.4"/>
<line x1="177.4" y1="213.5" x2="177.4" y2="214.5" stroke="#c8d4e8" stroke-width="0.4"/>
<line x1="180.0" y1="213.5" x2="180.0" y2="214.5" stroke="#c8d4e8" stroke-width="0.4"/>
<line x1="182.5" y1="213.5" x2="182.5" y2="214.5" stroke="#c8d4e8" stroke-width="0.4"/>
<line x1="185.1" y1="213.5" x2="185.1" y2="214.5" stroke="#c8d4e8" stroke-width="0.4"/>
<line x1="187.6" y1="213.5" x2="187.6" y2="214.5" stroke="#c8d4e8" stroke-width="0.4"/>
<line x1="190.2" y1="213.5" x2="190.2" y2="214.5" stroke="#c8d4e8" stroke-width="0.4"/>
<line x1="192.7" y1="213.5" x2="192.7" y2="214.5" stroke="#c8d4e8" stroke-width="0.4"/>
<line x1="195.3" y1="213.5" x2="195.3" y2="214.5" stroke="#c8d4e8" stroke-width="0.4"/>
<path d="M94.8,212.4 L95.6,197 L96.6,208 L98.4,210 L99.4,173.2 L100.2,211.6 L106.8,211.2 L107.4,193.2 L108.1,211.4 L111,212.2" fill="none" stroke="#e8e82e" stroke-width="0.9" stroke-linejoin="round"/>
<line x1="95.8" y1="212.29999999999998" x2="194.8" y2="212.29999999999998" stroke="#cfd03a" stroke-width="0.7"/>
<rect x="147.6" y="172.8" width="49.20000000000002" height="6.1" fill="#3b72c9"/>
<rect x="147.6" y="178.90" width="49.20000000000002" height="7.3" fill="#d1d8ec"/>
<rect x="147.6" y="186.20" width="49.20000000000002" height="7.3" fill="#e9ecf6"/>
<rect x="147.6" y="193.50" width="49.20000000000002" height="7.3" fill="#d1d8ec"/>
<line x1="172.446" y1="172.8" x2="172.446" y2="200.8" stroke="#ffffff" stroke-width="0.6"/>
<line x1="147.6" y1="178.90" x2="196.8" y2="178.90" stroke="#ffffff" stroke-width="0.5"/>
<line x1="147.6" y1="186.20" x2="196.8" y2="186.20" stroke="#ffffff" stroke-width="0.5"/>
<line x1="147.6" y1="193.50" x2="196.8" y2="193.50" stroke="#ffffff" stroke-width="0.5"/>
<text x="0" y="0" font-size="3.2" font-weight="normal" text-anchor="middle" fill="#e8eefa" transform="translate(160.023 177.10000000000002) scale(1 1.08)" >elements</text>
<text x="0" y="0" font-size="3.2" font-weight="normal" text-anchor="middle" fill="#e8eefa" transform="translate(184.623 177.10000000000002) scale(1 1.08)" >wt%</text>
<text x="0" y="0" font-size="3.8" font-weight="normal" text-anchor="middle" fill="#333" transform="translate(160.023 183.9) scale(1 1.08)" >C</text>
<text x="0" y="0" font-size="3.8" font-weight="normal" text-anchor="middle" fill="#333" transform="translate(184.623 183.9) scale(1 1.08)" >20.59</text>
<text x="0" y="0" font-size="3.8" font-weight="normal" text-anchor="middle" fill="#333" transform="translate(160.023 191.20000000000002) scale(1 1.08)" >O</text>
<text x="0" y="0" font-size="3.8" font-weight="normal" text-anchor="middle" fill="#333" transform="translate(184.623 191.20000000000002) scale(1 1.08)" >15.27</text>
<text x="0" y="0" font-size="3.8" font-weight="normal" text-anchor="middle" fill="#333" transform="translate(160.023 198.5) scale(1 1.08)" >F</text>
<text x="0" y="0" font-size="3.8" font-weight="normal" text-anchor="middle" fill="#333" transform="translate(184.623 198.5) scale(1 1.08)" >64.14</text>
<rect x="280.0" y="173.2" width="112.0" height="45.60000000000002" fill="url(#edsg)"/>
<line x1="288.5" y1="176.2" x2="288.5" y2="213.3" stroke="#9fb6d6" stroke-width="0.4"/>
<line x1="287.5" y1="177.2" x2="288.5" y2="177.2" stroke="#c8d4e8" stroke-width="0.4"/>
<line x1="287.5" y1="180.5" x2="288.5" y2="180.5" stroke="#c8d4e8" stroke-width="0.4"/>
<line x1="287.5" y1="183.8" x2="288.5" y2="183.8" stroke="#c8d4e8" stroke-width="0.4"/>
<line x1="287.5" y1="187.0" x2="288.5" y2="187.0" stroke="#c8d4e8" stroke-width="0.4"/>
<line x1="287.5" y1="190.3" x2="288.5" y2="190.3" stroke="#c8d4e8" stroke-width="0.4"/>
<line x1="287.5" y1="193.6" x2="288.5" y2="193.6" stroke="#c8d4e8" stroke-width="0.4"/>
<line x1="287.5" y1="196.9" x2="288.5" y2="196.9" stroke="#c8d4e8" stroke-width="0.4"/>
<line x1="287.5" y1="200.2" x2="288.5" y2="200.2" stroke="#c8d4e8" stroke-width="0.4"/>
<line x1="287.5" y1="203.5" x2="288.5" y2="203.5" stroke="#c8d4e8" stroke-width="0.4"/>
<line x1="287.5" y1="206.7" x2="288.5" y2="206.7" stroke="#c8d4e8" stroke-width="0.4"/>
<line x1="287.5" y1="210.0" x2="288.5" y2="210.0" stroke="#c8d4e8" stroke-width="0.4"/>
<line x1="287.5" y1="213.3" x2="288.5" y2="213.3" stroke="#c8d4e8" stroke-width="0.4"/>
<line x1="290.0" y1="214.10000000000002" x2="290.0" y2="215.10000000000002" stroke="#c8d4e8" stroke-width="0.4"/>
<line x1="292.6" y1="214.10000000000002" x2="292.6" y2="215.10000000000002" stroke="#c8d4e8" stroke-width="0.4"/>
<line x1="295.2" y1="214.10000000000002" x2="295.2" y2="215.10000000000002" stroke="#c8d4e8" stroke-width="0.4"/>
<line x1="297.7" y1="214.10000000000002" x2="297.7" y2="215.10000000000002" stroke="#c8d4e8" stroke-width="0.4"/>
<line x1="300.3" y1="214.10000000000002" x2="300.3" y2="215.10000000000002" stroke="#c8d4e8" stroke-width="0.4"/>
<line x1="302.9" y1="214.10000000000002" x2="302.9" y2="215.10000000000002" stroke="#c8d4e8" stroke-width="0.4"/>
<line x1="305.5" y1="214.10000000000002" x2="305.5" y2="215.10000000000002" stroke="#c8d4e8" stroke-width="0.4"/>
<line x1="308.0" y1="214.10000000000002" x2="308.0" y2="215.10000000000002" stroke="#c8d4e8" stroke-width="0.4"/>
<line x1="310.6" y1="214.10000000000002" x2="310.6" y2="215.10000000000002" stroke="#c8d4e8" stroke-width="0.4"/>
<line x1="313.2" y1="214.10000000000002" x2="313.2" y2="215.10000000000002" stroke="#c8d4e8" stroke-width="0.4"/>
<line x1="315.8" y1="214.10000000000002" x2="315.8" y2="215.10000000000002" stroke="#c8d4e8" stroke-width="0.4"/>
<line x1="318.3" y1="214.10000000000002" x2="318.3" y2="215.10000000000002" stroke="#c8d4e8" stroke-width="0.4"/>
<line x1="320.9" y1="214.10000000000002" x2="320.9" y2="215.10000000000002" stroke="#c8d4e8" stroke-width="0.4"/>
<line x1="323.5" y1="214.10000000000002" x2="323.5" y2="215.10000000000002" stroke="#c8d4e8" stroke-width="0.4"/>
<line x1="326.1" y1="214.10000000000002" x2="326.1" y2="215.10000000000002" stroke="#c8d4e8" stroke-width="0.4"/>
<line x1="328.7" y1="214.10000000000002" x2="328.7" y2="215.10000000000002" stroke="#c8d4e8" stroke-width="0.4"/>
<line x1="331.2" y1="214.10000000000002" x2="331.2" y2="215.10000000000002" stroke="#c8d4e8" stroke-width="0.4"/>
<line x1="333.8" y1="214.10000000000002" x2="333.8" y2="215.10000000000002" stroke="#c8d4e8" stroke-width="0.4"/>
<line x1="336.4" y1="214.10000000000002" x2="336.4" y2="215.10000000000002" stroke="#c8d4e8" stroke-width="0.4"/>
<line x1="339.0" y1="214.10000000000002" x2="339.0" y2="215.10000000000002" stroke="#c8d4e8" stroke-width="0.4"/>
<line x1="341.5" y1="214.10000000000002" x2="341.5" y2="215.10000000000002" stroke="#c8d4e8" stroke-width="0.4"/>
<line x1="344.1" y1="214.10000000000002" x2="344.1" y2="215.10000000000002" stroke="#c8d4e8" stroke-width="0.4"/>
<line x1="346.7" y1="214.10000000000002" x2="346.7" y2="215.10000000000002" stroke="#c8d4e8" stroke-width="0.4"/>
<line x1="349.3" y1="214.10000000000002" x2="349.3" y2="215.10000000000002" stroke="#c8d4e8" stroke-width="0.4"/>
<line x1="351.8" y1="214.10000000000002" x2="351.8" y2="215.10000000000002" stroke="#c8d4e8" stroke-width="0.4"/>
<line x1="354.4" y1="214.10000000000002" x2="354.4" y2="215.10000000000002" stroke="#c8d4e8" stroke-width="0.4"/>
<line x1="357.0" y1="214.10000000000002" x2="357.0" y2="215.10000000000002" stroke="#c8d4e8" stroke-width="0.4"/>
<line x1="359.6" y1="214.10000000000002" x2="359.6" y2="215.10000000000002" stroke="#c8d4e8" stroke-width="0.4"/>
<line x1="362.2" y1="214.10000000000002" x2="362.2" y2="215.10000000000002" stroke="#c8d4e8" stroke-width="0.4"/>
<line x1="364.7" y1="214.10000000000002" x2="364.7" y2="215.10000000000002" stroke="#c8d4e8" stroke-width="0.4"/>
<line x1="367.3" y1="214.10000000000002" x2="367.3" y2="215.10000000000002" stroke="#c8d4e8" stroke-width="0.4"/>
<line x1="369.9" y1="214.10000000000002" x2="369.9" y2="215.10000000000002" stroke="#c8d4e8" stroke-width="0.4"/>
<line x1="372.5" y1="214.10000000000002" x2="372.5" y2="215.10000000000002" stroke="#c8d4e8" stroke-width="0.4"/>
<line x1="375.0" y1="214.10000000000002" x2="375.0" y2="215.10000000000002" stroke="#c8d4e8" stroke-width="0.4"/>
<line x1="377.6" y1="214.10000000000002" x2="377.6" y2="215.10000000000002" stroke="#c8d4e8" stroke-width="0.4"/>
<line x1="380.2" y1="214.10000000000002" x2="380.2" y2="215.10000000000002" stroke="#c8d4e8" stroke-width="0.4"/>
<line x1="382.8" y1="214.10000000000002" x2="382.8" y2="215.10000000000002" stroke="#c8d4e8" stroke-width="0.4"/>
<line x1="385.3" y1="214.10000000000002" x2="385.3" y2="215.10000000000002" stroke="#c8d4e8" stroke-width="0.4"/>
<line x1="387.9" y1="214.10000000000002" x2="387.9" y2="215.10000000000002" stroke="#c8d4e8" stroke-width="0.4"/>
<line x1="390.5" y1="214.10000000000002" x2="390.5" y2="215.10000000000002" stroke="#c8d4e8" stroke-width="0.4"/>
<path d="M289.6,212.8 L290.5,175 L291.2,211.5 L293.1,211.5 L293.7,174 L294.4,211.8 L301.4,211.6 L302,189 L302.6,211.6 L305,212.6" fill="none" stroke="#e8e82e" stroke-width="0.9" stroke-linejoin="round"/>
<line x1="290.0" y1="212.9" x2="390.0" y2="212.9" stroke="#cfd03a" stroke-width="0.7"/>
<rect x="342.4" y="173.2" width="49.60000000000002" height="6.1" fill="#3b72c9"/>
<rect x="342.4" y="179.30" width="49.60000000000002" height="7.3" fill="#d1d8ec"/>
<rect x="342.4" y="186.60" width="49.60000000000002" height="7.3" fill="#e9ecf6"/>
<rect x="342.4" y="193.90" width="49.60000000000002" height="7.3" fill="#d1d8ec"/>
<line x1="367.448" y1="173.2" x2="367.448" y2="201.2" stroke="#ffffff" stroke-width="0.6"/>
<line x1="342.4" y1="179.30" x2="392.0" y2="179.30" stroke="#ffffff" stroke-width="0.5"/>
<line x1="342.4" y1="186.60" x2="392.0" y2="186.60" stroke="#ffffff" stroke-width="0.5"/>
<line x1="342.4" y1="193.90" x2="392.0" y2="193.90" stroke="#ffffff" stroke-width="0.5"/>
<text x="0" y="0" font-size="3.2" font-weight="normal" text-anchor="middle" fill="#e8eefa" transform="translate(354.924 177.5) scale(1 1.08)" >elements</text>
<text x="0" y="0" font-size="3.2" font-weight="normal" text-anchor="middle" fill="#e8eefa" transform="translate(379.724 177.5) scale(1 1.08)" >wt%</text>
<text x="0" y="0" font-size="3.8" font-weight="normal" text-anchor="middle" fill="#333" transform="translate(354.924 184.29999999999998) scale(1 1.08)" >C</text>
<text x="0" y="0" font-size="3.8" font-weight="normal" text-anchor="middle" fill="#333" transform="translate(379.724 184.29999999999998) scale(1 1.08)" >43.74</text>
<text x="0" y="0" font-size="3.8" font-weight="normal" text-anchor="middle" fill="#333" transform="translate(354.924 191.6) scale(1 1.08)" >O</text>
<text x="0" y="0" font-size="3.8" font-weight="normal" text-anchor="middle" fill="#333" transform="translate(379.724 191.6) scale(1 1.08)" >18.38</text>
<text x="0" y="0" font-size="3.8" font-weight="normal" text-anchor="middle" fill="#333" transform="translate(354.924 198.89999999999998) scale(1 1.08)" >F</text>
<text x="0" y="0" font-size="3.8" font-weight="normal" text-anchor="middle" fill="#333" transform="translate(379.724 198.89999999999998) scale(1 1.08)" >37.88</text>
<rect x="0" y="0" width="600" height="1" fill="#000"/><rect x="0" y="489" width="600" height="1" fill="#000"/><rect x="0" y="0" width="1" height="490" fill="#000"/><rect x="599" y="0" width="1" height="490" fill="#000"/>
</svg></body></html>
